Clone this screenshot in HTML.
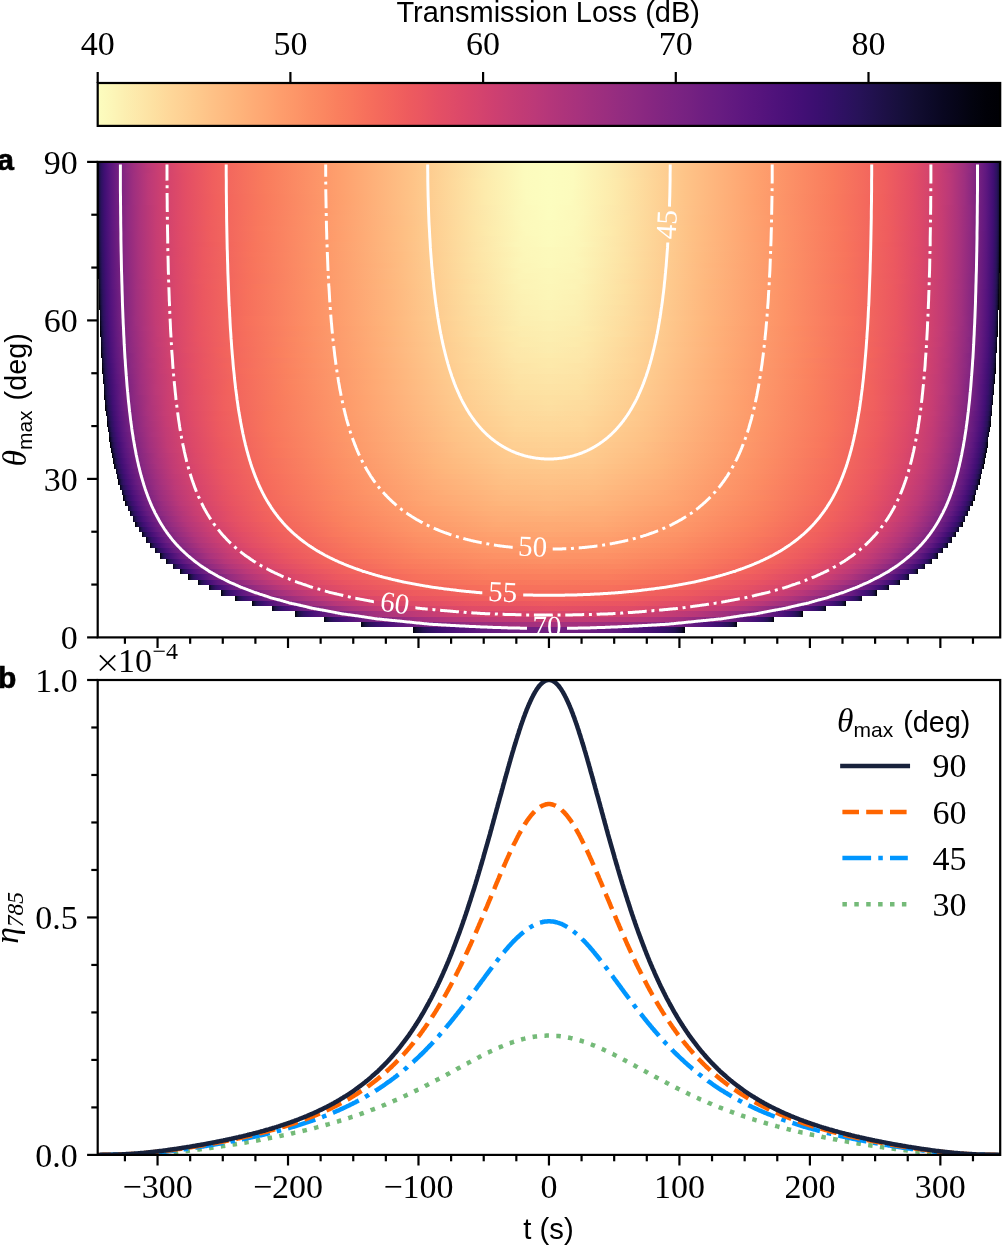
<!DOCTYPE html><html><head><meta charset="utf-8"><style>html,body{margin:0;padding:0;background:#fff;overflow:hidden;}svg{display:block;} text{-webkit-font-smoothing:antialiased;}.s{font-family:"Liberation Sans",sans-serif;}.r{font-family:"Liberation Serif",serif;}</style></head><body>
<svg style="will-change:transform" width="1002" height="1245" viewBox="0 0 1002 1245">
<rect width="1002" height="1245" fill="#fff"/>
<defs><linearGradient id="cb" x1="0" x2="1" y1="0" y2="0"><stop offset="0.0000" stop-color="#fcfdbf"/><stop offset="0.0156" stop-color="#fcf6b8"/><stop offset="0.0312" stop-color="#fceeb0"/><stop offset="0.0469" stop-color="#fde7a9"/><stop offset="0.0625" stop-color="#fde0a1"/><stop offset="0.0781" stop-color="#fed89a"/><stop offset="0.0938" stop-color="#fed194"/><stop offset="0.1094" stop-color="#feca8d"/><stop offset="0.1250" stop-color="#fec287"/><stop offset="0.1406" stop-color="#febb81"/><stop offset="0.1562" stop-color="#feb47b"/><stop offset="0.1719" stop-color="#feac76"/><stop offset="0.1875" stop-color="#fea571"/><stop offset="0.2031" stop-color="#fe9d6c"/><stop offset="0.2188" stop-color="#fd9668"/><stop offset="0.2344" stop-color="#fc8e64"/><stop offset="0.2500" stop-color="#fb8761"/><stop offset="0.2656" stop-color="#fa7f5e"/><stop offset="0.2812" stop-color="#f9785d"/><stop offset="0.2969" stop-color="#f7705c"/><stop offset="0.3125" stop-color="#f4695c"/><stop offset="0.3281" stop-color="#f2625d"/><stop offset="0.3438" stop-color="#ee5b5e"/><stop offset="0.3594" stop-color="#ea5661"/><stop offset="0.3750" stop-color="#e55064"/><stop offset="0.3906" stop-color="#e04c67"/><stop offset="0.4062" stop-color="#db476a"/><stop offset="0.4219" stop-color="#d5446d"/><stop offset="0.4375" stop-color="#cf4070"/><stop offset="0.4531" stop-color="#c83e73"/><stop offset="0.4688" stop-color="#c23b75"/><stop offset="0.4844" stop-color="#bc3978"/><stop offset="0.5000" stop-color="#b5367a"/><stop offset="0.5156" stop-color="#ae347b"/><stop offset="0.5312" stop-color="#a8327d"/><stop offset="0.5469" stop-color="#a1307e"/><stop offset="0.5625" stop-color="#9b2e7f"/><stop offset="0.5781" stop-color="#942c80"/><stop offset="0.5938" stop-color="#8e2a81"/><stop offset="0.6094" stop-color="#882781"/><stop offset="0.6250" stop-color="#812581"/><stop offset="0.6406" stop-color="#7b2382"/><stop offset="0.6562" stop-color="#752181"/><stop offset="0.6719" stop-color="#6e1e81"/><stop offset="0.6875" stop-color="#681c81"/><stop offset="0.7031" stop-color="#621980"/><stop offset="0.7188" stop-color="#5c167f"/><stop offset="0.7344" stop-color="#56147d"/><stop offset="0.7500" stop-color="#4f127b"/><stop offset="0.7656" stop-color="#491078"/><stop offset="0.7812" stop-color="#420f75"/><stop offset="0.7969" stop-color="#3b0f70"/><stop offset="0.8125" stop-color="#341069"/><stop offset="0.8281" stop-color="#2d1161"/><stop offset="0.8438" stop-color="#271258"/><stop offset="0.8594" stop-color="#21114e"/><stop offset="0.8750" stop-color="#1c1044"/><stop offset="0.8906" stop-color="#160f3b"/><stop offset="0.9062" stop-color="#120d31"/><stop offset="0.9219" stop-color="#0d0a29"/><stop offset="0.9375" stop-color="#090720"/><stop offset="0.9531" stop-color="#060518"/><stop offset="0.9688" stop-color="#03030f"/><stop offset="0.9844" stop-color="#010108"/><stop offset="1.0000" stop-color="#000004"/></linearGradient><linearGradient id="g1" gradientUnits="userSpaceOnUse" spreadMethod="reflect" x1="548.95" x2="685.33" y1="0" y2="0"><stop offset="0.0000" stop-color="#721f81"/><stop offset="0.1933" stop-color="#701f81"/><stop offset="0.4567" stop-color="#641a80"/><stop offset="0.6800" stop-color="#4f127b"/><stop offset="0.8100" stop-color="#3d0f71"/><stop offset="0.8800" stop-color="#2f1163"/><stop offset="0.9233" stop-color="#241253"/><stop offset="0.9667" stop-color="#130d34"/><stop offset="0.9700" stop-color="#110c2f"/><stop offset="0.9713" stop-color="#110c2f"/><stop offset="0.9790" stop-color="#0b0924"/><stop offset="0.9800" stop-color="#0b0924"/><stop offset="0.9833" stop-color="#08071e"/><stop offset="0.9867" stop-color="#06051a"/><stop offset="0.9900" stop-color="#040414"/><stop offset="0.9904" stop-color="#040414"/><stop offset="0.9933" stop-color="#02020d"/><stop offset="0.9933" stop-color="#02020d"/><stop offset="0.9990" stop-color="#010005"/><stop offset="0.9997" stop-color="#000004"/></linearGradient><linearGradient id="g2" gradientUnits="userSpaceOnUse" spreadMethod="reflect" x1="548.95" x2="737.21" y1="0" y2="0"><stop offset="0.0000" stop-color="#a5317e"/><stop offset="0.1900" stop-color="#a3307e"/><stop offset="0.4133" stop-color="#962c80"/><stop offset="0.5867" stop-color="#832681"/><stop offset="0.7433" stop-color="#681c81"/><stop offset="0.8567" stop-color="#4c117a"/><stop offset="0.9133" stop-color="#390f6e"/><stop offset="0.9500" stop-color="#2a115c"/><stop offset="0.9619" stop-color="#221150"/><stop offset="0.9633" stop-color="#221150"/><stop offset="0.9723" stop-color="#1c1044"/><stop offset="0.9733" stop-color="#1c1044"/><stop offset="0.9800" stop-color="#150e38"/><stop offset="0.9833" stop-color="#120d31"/><stop offset="0.9867" stop-color="#0e0b2b"/><stop offset="0.9896" stop-color="#0b0924"/><stop offset="0.9900" stop-color="#0a0822"/><stop offset="0.9931" stop-color="#06051a"/><stop offset="0.9951" stop-color="#040414"/><stop offset="0.9967" stop-color="#02020d"/><stop offset="0.9993" stop-color="#010005"/><stop offset="0.9998" stop-color="#000004"/></linearGradient><linearGradient id="g3" gradientUnits="userSpaceOnUse" spreadMethod="reflect" x1="548.95" x2="774.07" y1="0" y2="0"><stop offset="0.0000" stop-color="#c53c74"/><stop offset="0.2100" stop-color="#c23b75"/><stop offset="0.4200" stop-color="#b5367a"/><stop offset="0.5933" stop-color="#a02f7f"/><stop offset="0.7233" stop-color="#862781"/><stop offset="0.8333" stop-color="#671b80"/><stop offset="0.9133" stop-color="#471078"/><stop offset="0.9533" stop-color="#331067"/><stop offset="0.9733" stop-color="#241253"/><stop offset="0.9767" stop-color="#20114b"/><stop offset="0.9768" stop-color="#20114b"/><stop offset="0.9833" stop-color="#19103f"/><stop offset="0.9867" stop-color="#140e36"/><stop offset="0.9872" stop-color="#140e36"/><stop offset="0.9900" stop-color="#100b2d"/><stop offset="0.9942" stop-color="#08071e"/><stop offset="0.9959" stop-color="#050416"/><stop offset="0.9967" stop-color="#040414"/><stop offset="0.9994" stop-color="#010005"/><stop offset="0.9998" stop-color="#000004"/></linearGradient><linearGradient id="g4" gradientUnits="userSpaceOnUse" spreadMethod="reflect" x1="548.95" x2="802.83" y1="0" y2="0"><stop offset="0.0000" stop-color="#d9466b"/><stop offset="0.2400" stop-color="#d5446d"/><stop offset="0.4367" stop-color="#c83e73"/><stop offset="0.5833" stop-color="#b73779"/><stop offset="0.6933" stop-color="#a1307e"/><stop offset="0.7800" stop-color="#892881"/><stop offset="0.8567" stop-color="#6d1d81"/><stop offset="0.9200" stop-color="#4f127b"/><stop offset="0.9500" stop-color="#3b0f70"/><stop offset="0.9667" stop-color="#2f1163"/><stop offset="0.9767" stop-color="#251255"/><stop offset="0.9794" stop-color="#221150"/><stop offset="0.9800" stop-color="#221150"/><stop offset="0.9833" stop-color="#1e1149"/><stop offset="0.9846" stop-color="#1d1147"/><stop offset="0.9900" stop-color="#140e36"/><stop offset="0.9923" stop-color="#100b2d"/><stop offset="0.9933" stop-color="#0d0a29"/><stop offset="0.9964" stop-color="#060518"/><stop offset="0.9967" stop-color="#060518"/><stop offset="0.9990" stop-color="#010108"/><stop offset="0.9998" stop-color="#000004"/></linearGradient><linearGradient id="g5" gradientUnits="userSpaceOnUse" spreadMethod="reflect" x1="548.95" x2="826.27" y1="0" y2="0"><stop offset="0.0000" stop-color="#e55064"/><stop offset="0.2800" stop-color="#e04c67"/><stop offset="0.4767" stop-color="#d3436e"/><stop offset="0.6100" stop-color="#c23b75"/><stop offset="0.7100" stop-color="#ad347c"/><stop offset="0.8000" stop-color="#912b81"/><stop offset="0.8867" stop-color="#6b1d81"/><stop offset="0.9400" stop-color="#4a1079"/><stop offset="0.9633" stop-color="#38106c"/><stop offset="0.9733" stop-color="#2d1161"/><stop offset="0.9741" stop-color="#2d1161"/><stop offset="0.9833" stop-color="#221150"/><stop offset="0.9859" stop-color="#1e1149"/><stop offset="0.9867" stop-color="#1d1147"/><stop offset="0.9896" stop-color="#180f3d"/><stop offset="0.9900" stop-color="#180f3d"/><stop offset="0.9929" stop-color="#110c2f"/><stop offset="0.9933" stop-color="#100b2d"/><stop offset="0.9967" stop-color="#06051a"/><stop offset="0.9967" stop-color="#06051a"/><stop offset="0.9981" stop-color="#03030f"/><stop offset="0.9995" stop-color="#010106"/><stop offset="0.9999" stop-color="#000004"/></linearGradient><linearGradient id="g6" gradientUnits="userSpaceOnUse" spreadMethod="reflect" x1="548.95" x2="845.85" y1="0" y2="0"><stop offset="0.0000" stop-color="#ed5a5f"/><stop offset="0.2800" stop-color="#e95462"/><stop offset="0.4933" stop-color="#dc4869"/><stop offset="0.6233" stop-color="#cc3f71"/><stop offset="0.7200" stop-color="#b73779"/><stop offset="0.7967" stop-color="#9e2f7f"/><stop offset="0.8667" stop-color="#802582"/><stop offset="0.9333" stop-color="#56147d"/><stop offset="0.9600" stop-color="#400f74"/><stop offset="0.9758" stop-color="#2f1163"/><stop offset="0.9767" stop-color="#2f1163"/><stop offset="0.9824" stop-color="#271258"/><stop offset="0.9833" stop-color="#251255"/><stop offset="0.9867" stop-color="#21114e"/><stop offset="0.9868" stop-color="#20114b"/><stop offset="0.9900" stop-color="#1a1042"/><stop offset="0.9903" stop-color="#19103f"/><stop offset="0.9933" stop-color="#120d31"/><stop offset="0.9934" stop-color="#120d31"/><stop offset="0.9956" stop-color="#0b0924"/><stop offset="0.9967" stop-color="#08071e"/><stop offset="0.9969" stop-color="#07061c"/><stop offset="0.9991" stop-color="#020109"/><stop offset="0.9999" stop-color="#000004"/></linearGradient><linearGradient id="g7" gradientUnits="userSpaceOnUse" spreadMethod="reflect" x1="548.95" x2="862.48" y1="0" y2="0"><stop offset="0.0000" stop-color="#f2625d"/><stop offset="0.1833" stop-color="#f1605d"/><stop offset="0.4367" stop-color="#e85362"/><stop offset="0.6000" stop-color="#d8456c"/><stop offset="0.7000" stop-color="#c53c74"/><stop offset="0.7733" stop-color="#b0357b"/><stop offset="0.8500" stop-color="#912b81"/><stop offset="0.9100" stop-color="#6d1d81"/><stop offset="0.9533" stop-color="#4a1079"/><stop offset="0.9733" stop-color="#36106b"/><stop offset="0.9767" stop-color="#311165"/><stop offset="0.9771" stop-color="#311165"/><stop offset="0.9833" stop-color="#29115a"/><stop offset="0.9834" stop-color="#29115a"/><stop offset="0.9867" stop-color="#221150"/><stop offset="0.9875" stop-color="#21114e"/><stop offset="0.9908" stop-color="#1a1042"/><stop offset="0.9933" stop-color="#140e36"/><stop offset="0.9938" stop-color="#130d34"/><stop offset="0.9958" stop-color="#0c0926"/><stop offset="0.9967" stop-color="#090720"/><stop offset="0.9971" stop-color="#08071e"/><stop offset="0.9983" stop-color="#030312"/><stop offset="0.9992" stop-color="#020109"/><stop offset="0.9999" stop-color="#000004"/></linearGradient><linearGradient id="g8" gradientUnits="userSpaceOnUse" spreadMethod="reflect" x1="548.95" x2="876.77" y1="0" y2="0"><stop offset="0.0000" stop-color="#f56b5c"/><stop offset="0.1667" stop-color="#f4695c"/><stop offset="0.4100" stop-color="#ee5b5e"/><stop offset="0.5767" stop-color="#e24d66"/><stop offset="0.6933" stop-color="#cf4070"/><stop offset="0.7733" stop-color="#b83779"/><stop offset="0.8267" stop-color="#a3307e"/><stop offset="0.8800" stop-color="#882781"/><stop offset="0.9333" stop-color="#601880"/><stop offset="0.9600" stop-color="#471078"/><stop offset="0.9733" stop-color="#390f6e"/><stop offset="0.9800" stop-color="#2f1163"/><stop offset="0.9833" stop-color="#2a115c"/><stop offset="0.9841" stop-color="#2a115c"/><stop offset="0.9912" stop-color="#1c1044"/><stop offset="0.9933" stop-color="#160f3b"/><stop offset="0.9940" stop-color="#140e36"/><stop offset="0.9960" stop-color="#0d0a29"/><stop offset="0.9972" stop-color="#08071e"/><stop offset="0.9992" stop-color="#020109"/><stop offset="0.9999" stop-color="#000004"/></linearGradient><linearGradient id="g9" gradientUnits="userSpaceOnUse" spreadMethod="reflect" x1="548.95" x2="889.16" y1="0" y2="0"><stop offset="0.0000" stop-color="#f7725c"/><stop offset="0.1700" stop-color="#f7705c"/><stop offset="0.3867" stop-color="#f2645c"/><stop offset="0.5733" stop-color="#e75263"/><stop offset="0.6933" stop-color="#d5446d"/><stop offset="0.7800" stop-color="#bd3977"/><stop offset="0.8467" stop-color="#a02f7f"/><stop offset="0.8867" stop-color="#892881"/><stop offset="0.9367" stop-color="#621980"/><stop offset="0.9633" stop-color="#471078"/><stop offset="0.9733" stop-color="#3b0f70"/><stop offset="0.9789" stop-color="#341069"/><stop offset="0.9800" stop-color="#331067"/><stop offset="0.9916" stop-color="#1d1147"/><stop offset="0.9942" stop-color="#140e36"/><stop offset="0.9962" stop-color="#0d0a29"/><stop offset="0.9973" stop-color="#090720"/><stop offset="0.9985" stop-color="#040414"/><stop offset="0.9996" stop-color="#010106"/><stop offset="0.9999" stop-color="#000004"/></linearGradient><linearGradient id="g10" gradientUnits="userSpaceOnUse" spreadMethod="reflect" x1="548.95" x2="899.98" y1="0" y2="0"><stop offset="0.0000" stop-color="#f9795d"/><stop offset="0.1967" stop-color="#f8765c"/><stop offset="0.3933" stop-color="#f4695c"/><stop offset="0.5867" stop-color="#e95462"/><stop offset="0.7033" stop-color="#d8456c"/><stop offset="0.7767" stop-color="#c43c75"/><stop offset="0.8400" stop-color="#aa337d"/><stop offset="0.8967" stop-color="#882781"/><stop offset="0.9433" stop-color="#601880"/><stop offset="0.9667" stop-color="#471078"/><stop offset="0.9796" stop-color="#341069"/><stop offset="0.9800" stop-color="#341069"/><stop offset="0.9900" stop-color="#21114e"/><stop offset="0.9944" stop-color="#150e38"/><stop offset="0.9963" stop-color="#0e0b2b"/><stop offset="0.9974" stop-color="#090720"/><stop offset="0.9985" stop-color="#040414"/><stop offset="0.9996" stop-color="#010106"/><stop offset="0.9999" stop-color="#000004"/></linearGradient><linearGradient id="g11" gradientUnits="userSpaceOnUse" spreadMethod="reflect" x1="548.95" x2="909.48" y1="0" y2="0"><stop offset="0.0000" stop-color="#fa7f5e"/><stop offset="0.1600" stop-color="#fa7d5e"/><stop offset="0.3700" stop-color="#f7705c"/><stop offset="0.5867" stop-color="#ec5860"/><stop offset="0.7000" stop-color="#dc4869"/><stop offset="0.7767" stop-color="#c83e73"/><stop offset="0.8400" stop-color="#ae347b"/><stop offset="0.8867" stop-color="#932b80"/><stop offset="0.9333" stop-color="#6d1d81"/><stop offset="0.9633" stop-color="#4c117a"/><stop offset="0.9767" stop-color="#3b0f70"/><stop offset="0.9800" stop-color="#36106b"/><stop offset="0.9801" stop-color="#36106b"/><stop offset="0.9855" stop-color="#2c115f"/><stop offset="0.9867" stop-color="#2a115c"/><stop offset="0.9933" stop-color="#1a1042"/><stop offset="0.9946" stop-color="#150e38"/><stop offset="0.9964" stop-color="#0e0b2b"/><stop offset="0.9967" stop-color="#0d0a29"/><stop offset="0.9993" stop-color="#02020b"/><stop offset="0.9999" stop-color="#000004"/></linearGradient><linearGradient id="g12" gradientUnits="userSpaceOnUse" spreadMethod="reflect" x1="548.95" x2="917.86" y1="0" y2="0"><stop offset="0.0000" stop-color="#fb8560"/><stop offset="0.1567" stop-color="#fb835f"/><stop offset="0.3400" stop-color="#f9785d"/><stop offset="0.5433" stop-color="#f2625d"/><stop offset="0.6733" stop-color="#e44f64"/><stop offset="0.7633" stop-color="#d0416f"/><stop offset="0.8200" stop-color="#bc3978"/><stop offset="0.8767" stop-color="#9e2f7f"/><stop offset="0.9267" stop-color="#762181"/><stop offset="0.9633" stop-color="#4f127b"/><stop offset="0.9767" stop-color="#3d0f71"/><stop offset="0.9867" stop-color="#2c115f"/><stop offset="0.9894" stop-color="#251255"/><stop offset="0.9900" stop-color="#241253"/><stop offset="0.9922" stop-color="#1e1149"/><stop offset="0.9933" stop-color="#1c1044"/><stop offset="0.9947" stop-color="#160f3b"/><stop offset="0.9965" stop-color="#100b2d"/><stop offset="0.9967" stop-color="#0e0b2b"/><stop offset="0.9993" stop-color="#02020b"/><stop offset="0.9999" stop-color="#000004"/></linearGradient><linearGradient id="g13" gradientUnits="userSpaceOnUse" spreadMethod="reflect" x1="548.95" x2="925.29" y1="0" y2="0"><stop offset="0.0000" stop-color="#fc8a62"/><stop offset="0.1867" stop-color="#fb8761"/><stop offset="0.3900" stop-color="#f9785d"/><stop offset="0.6000" stop-color="#ef5d5e"/><stop offset="0.7100" stop-color="#e04c67"/><stop offset="0.7833" stop-color="#cd4071"/><stop offset="0.8467" stop-color="#b3367a"/><stop offset="0.8967" stop-color="#932b80"/><stop offset="0.9367" stop-color="#701f81"/><stop offset="0.9667" stop-color="#4c117a"/><stop offset="0.9800" stop-color="#390f6e"/><stop offset="0.9833" stop-color="#331067"/><stop offset="0.9861" stop-color="#2d1161"/><stop offset="0.9867" stop-color="#2c115f"/><stop offset="0.9896" stop-color="#251255"/><stop offset="0.9900" stop-color="#251255"/><stop offset="0.9924" stop-color="#1e1149"/><stop offset="0.9933" stop-color="#1c1044"/><stop offset="0.9948" stop-color="#160f3b"/><stop offset="0.9965" stop-color="#100b2d"/><stop offset="0.9967" stop-color="#0e0b2b"/><stop offset="0.9993" stop-color="#02020b"/><stop offset="0.9999" stop-color="#000004"/></linearGradient><linearGradient id="g14" gradientUnits="userSpaceOnUse" spreadMethod="reflect" x1="548.95" x2="931.89" y1="0" y2="0"><stop offset="0.0000" stop-color="#fc9065"/><stop offset="0.1667" stop-color="#fc8c63"/><stop offset="0.3733" stop-color="#fa7d5e"/><stop offset="0.5767" stop-color="#f2645c"/><stop offset="0.7033" stop-color="#e44f64"/><stop offset="0.7833" stop-color="#d0416f"/><stop offset="0.8467" stop-color="#b73779"/><stop offset="0.8967" stop-color="#962c80"/><stop offset="0.9300" stop-color="#782281"/><stop offset="0.9567" stop-color="#5c167f"/><stop offset="0.9733" stop-color="#451077"/><stop offset="0.9800" stop-color="#390f6e"/><stop offset="0.9833" stop-color="#341069"/><stop offset="0.9864" stop-color="#2d1161"/><stop offset="0.9867" stop-color="#2d1161"/><stop offset="0.9898" stop-color="#271258"/><stop offset="0.9900" stop-color="#251255"/><stop offset="0.9925" stop-color="#20114b"/><stop offset="0.9933" stop-color="#1d1147"/><stop offset="0.9949" stop-color="#180f3d"/><stop offset="0.9966" stop-color="#100b2d"/><stop offset="0.9967" stop-color="#100b2d"/><stop offset="0.9993" stop-color="#02020b"/><stop offset="0.9999" stop-color="#000004"/></linearGradient><linearGradient id="g15" gradientUnits="userSpaceOnUse" spreadMethod="reflect" x1="548.95" x2="937.78" y1="0" y2="0"><stop offset="0.0000" stop-color="#fd9467"/><stop offset="0.1367" stop-color="#fd9266"/><stop offset="0.3133" stop-color="#fb8761"/><stop offset="0.4833" stop-color="#f8745c"/><stop offset="0.6533" stop-color="#ed5a5f"/><stop offset="0.7500" stop-color="#dc4869"/><stop offset="0.8167" stop-color="#c73d73"/><stop offset="0.8733" stop-color="#aa337d"/><stop offset="0.9167" stop-color="#882781"/><stop offset="0.9500" stop-color="#651a80"/><stop offset="0.9733" stop-color="#451077"/><stop offset="0.9833" stop-color="#341069"/><stop offset="0.9866" stop-color="#2f1163"/><stop offset="0.9867" stop-color="#2f1163"/><stop offset="0.9899" stop-color="#271258"/><stop offset="0.9900" stop-color="#271258"/><stop offset="0.9926" stop-color="#20114b"/><stop offset="0.9933" stop-color="#1d1147"/><stop offset="0.9950" stop-color="#180f3d"/><stop offset="0.9966" stop-color="#100b2d"/><stop offset="0.9967" stop-color="#100b2d"/><stop offset="0.9993" stop-color="#02020b"/><stop offset="0.9999" stop-color="#010005"/></linearGradient><linearGradient id="g16" gradientUnits="userSpaceOnUse" spreadMethod="reflect" x1="548.95" x2="943.05" y1="0" y2="0"><stop offset="0.0000" stop-color="#fd9869"/><stop offset="0.1467" stop-color="#fd9668"/><stop offset="0.3300" stop-color="#fc8961"/><stop offset="0.5300" stop-color="#f7705c"/><stop offset="0.6800" stop-color="#eb5760"/><stop offset="0.7633" stop-color="#db476a"/><stop offset="0.8167" stop-color="#c83e73"/><stop offset="0.8700" stop-color="#ae347b"/><stop offset="0.9100" stop-color="#902a81"/><stop offset="0.9500" stop-color="#671b80"/><stop offset="0.9733" stop-color="#471078"/><stop offset="0.9800" stop-color="#3b0f70"/><stop offset="0.9833" stop-color="#36106b"/><stop offset="0.9867" stop-color="#2f1163"/><stop offset="0.9868" stop-color="#2f1163"/><stop offset="0.9900" stop-color="#271258"/><stop offset="0.9901" stop-color="#271258"/><stop offset="0.9927" stop-color="#20114b"/><stop offset="0.9933" stop-color="#1e1149"/><stop offset="0.9967" stop-color="#110c2f"/><stop offset="0.9967" stop-color="#110c2f"/><stop offset="0.9987" stop-color="#050416"/><stop offset="0.9993" stop-color="#02020b"/><stop offset="0.9999" stop-color="#010005"/></linearGradient><linearGradient id="g17" gradientUnits="userSpaceOnUse" spreadMethod="reflect" x1="548.95" x2="947.78" y1="0" y2="0"><stop offset="0.0000" stop-color="#fe9d6c"/><stop offset="0.1500" stop-color="#fd9a6a"/><stop offset="0.3233" stop-color="#fc8c63"/><stop offset="0.4833" stop-color="#f9795d"/><stop offset="0.6567" stop-color="#ef5d5e"/><stop offset="0.7433" stop-color="#e24d66"/><stop offset="0.8067" stop-color="#cf4070"/><stop offset="0.8733" stop-color="#ae347b"/><stop offset="0.9233" stop-color="#862781"/><stop offset="0.9600" stop-color="#5c167f"/><stop offset="0.9767" stop-color="#420f75"/><stop offset="0.9833" stop-color="#36106b"/><stop offset="0.9867" stop-color="#2f1163"/><stop offset="0.9869" stop-color="#2f1163"/><stop offset="0.9900" stop-color="#29115a"/><stop offset="0.9902" stop-color="#271258"/><stop offset="0.9928" stop-color="#20114b"/><stop offset="0.9933" stop-color="#1e1149"/><stop offset="0.9967" stop-color="#110c2f"/><stop offset="0.9967" stop-color="#110c2f"/><stop offset="0.9993" stop-color="#02020d"/><stop offset="0.9999" stop-color="#010005"/></linearGradient><linearGradient id="g18" gradientUnits="userSpaceOnUse" spreadMethod="reflect" x1="548.95" x2="952.04" y1="0" y2="0"><stop offset="0.0000" stop-color="#fea16e"/><stop offset="0.1500" stop-color="#fe9d6c"/><stop offset="0.3167" stop-color="#fc9065"/><stop offset="0.4867" stop-color="#f97b5d"/><stop offset="0.6600" stop-color="#f05f5e"/><stop offset="0.7567" stop-color="#e04c67"/><stop offset="0.8233" stop-color="#ca3e72"/><stop offset="0.8733" stop-color="#b0357b"/><stop offset="0.9200" stop-color="#8b2981"/><stop offset="0.9500" stop-color="#6a1c81"/><stop offset="0.9700" stop-color="#4e117b"/><stop offset="0.9822" stop-color="#390f6e"/><stop offset="0.9833" stop-color="#38106c"/><stop offset="0.9867" stop-color="#311165"/><stop offset="0.9871" stop-color="#2f1163"/><stop offset="0.9900" stop-color="#29115a"/><stop offset="0.9903" stop-color="#29115a"/><stop offset="0.9929" stop-color="#21114e"/><stop offset="0.9933" stop-color="#20114b"/><stop offset="0.9967" stop-color="#110c2f"/><stop offset="0.9968" stop-color="#110c2f"/><stop offset="0.9994" stop-color="#02020d"/><stop offset="0.9999" stop-color="#010005"/></linearGradient><linearGradient id="g19" gradientUnits="userSpaceOnUse" spreadMethod="reflect" x1="548.95" x2="955.88" y1="0" y2="0"><stop offset="0.0000" stop-color="#fea571"/><stop offset="0.1433" stop-color="#fea16e"/><stop offset="0.3267" stop-color="#fd9266"/><stop offset="0.5267" stop-color="#f9785d"/><stop offset="0.6833" stop-color="#ee5b5e"/><stop offset="0.7667" stop-color="#df4a68"/><stop offset="0.8267" stop-color="#ca3e72"/><stop offset="0.8733" stop-color="#b2357b"/><stop offset="0.9133" stop-color="#932b80"/><stop offset="0.9533" stop-color="#671b80"/><stop offset="0.9733" stop-color="#4a1079"/><stop offset="0.9824" stop-color="#390f6e"/><stop offset="0.9833" stop-color="#38106c"/><stop offset="0.9867" stop-color="#311165"/><stop offset="0.9872" stop-color="#311165"/><stop offset="0.9900" stop-color="#29115a"/><stop offset="0.9904" stop-color="#29115a"/><stop offset="0.9929" stop-color="#21114e"/><stop offset="0.9933" stop-color="#20114b"/><stop offset="0.9967" stop-color="#120d31"/><stop offset="0.9968" stop-color="#110c2f"/><stop offset="0.9994" stop-color="#02020d"/><stop offset="0.9999" stop-color="#010005"/></linearGradient><linearGradient id="g20" gradientUnits="userSpaceOnUse" spreadMethod="reflect" x1="548.95" x2="959.35" y1="0" y2="0"><stop offset="0.0000" stop-color="#fea973"/><stop offset="0.1367" stop-color="#fea571"/><stop offset="0.3167" stop-color="#fd9668"/><stop offset="0.4900" stop-color="#fa7f5e"/><stop offset="0.6567" stop-color="#f2625d"/><stop offset="0.7500" stop-color="#e44f64"/><stop offset="0.8200" stop-color="#cf4070"/><stop offset="0.8733" stop-color="#b3367a"/><stop offset="0.9200" stop-color="#8e2a81"/><stop offset="0.9567" stop-color="#641a80"/><stop offset="0.9767" stop-color="#451077"/><stop offset="0.9825" stop-color="#390f6e"/><stop offset="0.9833" stop-color="#390f6e"/><stop offset="0.9867" stop-color="#311165"/><stop offset="0.9873" stop-color="#311165"/><stop offset="0.9900" stop-color="#2a115c"/><stop offset="0.9905" stop-color="#29115a"/><stop offset="0.9930" stop-color="#21114e"/><stop offset="0.9933" stop-color="#20114b"/><stop offset="0.9967" stop-color="#120d31"/><stop offset="0.9968" stop-color="#110c2f"/><stop offset="0.9994" stop-color="#02020d"/><stop offset="0.9999" stop-color="#010005"/></linearGradient><linearGradient id="g21" gradientUnits="userSpaceOnUse" spreadMethod="reflect" x1="548.95" x2="962.50" y1="0" y2="0"><stop offset="0.0000" stop-color="#feaa74"/><stop offset="0.1267" stop-color="#fea973"/><stop offset="0.2867" stop-color="#fd9b6b"/><stop offset="0.4800" stop-color="#fb835f"/><stop offset="0.6467" stop-color="#f3655c"/><stop offset="0.7500" stop-color="#e55064"/><stop offset="0.8100" stop-color="#d3436e"/><stop offset="0.8733" stop-color="#b5367a"/><stop offset="0.9100" stop-color="#982d80"/><stop offset="0.9333" stop-color="#812581"/><stop offset="0.9633" stop-color="#5a167e"/><stop offset="0.9767" stop-color="#451077"/><stop offset="0.9826" stop-color="#3b0f70"/><stop offset="0.9833" stop-color="#390f6e"/><stop offset="0.9867" stop-color="#331067"/><stop offset="0.9874" stop-color="#311165"/><stop offset="0.9900" stop-color="#2a115c"/><stop offset="0.9905" stop-color="#29115a"/><stop offset="0.9931" stop-color="#21114e"/><stop offset="0.9933" stop-color="#20114b"/><stop offset="0.9967" stop-color="#120d31"/><stop offset="0.9968" stop-color="#110c2f"/><stop offset="0.9994" stop-color="#02020d"/><stop offset="0.9999" stop-color="#010005"/></linearGradient><linearGradient id="g22" gradientUnits="userSpaceOnUse" spreadMethod="reflect" x1="548.95" x2="965.36" y1="0" y2="0"><stop offset="0.0000" stop-color="#feae77"/><stop offset="0.1167" stop-color="#feac76"/><stop offset="0.2933" stop-color="#fe9d6c"/><stop offset="0.5133" stop-color="#fa7f5e"/><stop offset="0.6800" stop-color="#f1605d"/><stop offset="0.7700" stop-color="#e24d66"/><stop offset="0.8333" stop-color="#cc3f71"/><stop offset="0.8800" stop-color="#b2357b"/><stop offset="0.9200" stop-color="#902a81"/><stop offset="0.9500" stop-color="#6e1e81"/><stop offset="0.9733" stop-color="#4c117a"/><stop offset="0.9828" stop-color="#3b0f70"/><stop offset="0.9833" stop-color="#390f6e"/><stop offset="0.9867" stop-color="#331067"/><stop offset="0.9875" stop-color="#311165"/><stop offset="0.9900" stop-color="#2a115c"/><stop offset="0.9906" stop-color="#29115a"/><stop offset="0.9931" stop-color="#21114e"/><stop offset="0.9933" stop-color="#21114e"/><stop offset="0.9967" stop-color="#130d34"/><stop offset="0.9969" stop-color="#120d31"/><stop offset="0.9987" stop-color="#060518"/><stop offset="0.9994" stop-color="#02020d"/><stop offset="0.9999" stop-color="#010005"/></linearGradient><linearGradient id="g23" gradientUnits="userSpaceOnUse" spreadMethod="reflect" x1="548.95" x2="967.97" y1="0" y2="0"><stop offset="0.0000" stop-color="#feb27a"/><stop offset="0.1333" stop-color="#feae77"/><stop offset="0.2967" stop-color="#fe9f6d"/><stop offset="0.4867" stop-color="#fb8560"/><stop offset="0.6500" stop-color="#f4675c"/><stop offset="0.7433" stop-color="#e85362"/><stop offset="0.8033" stop-color="#d8456c"/><stop offset="0.8467" stop-color="#c73d73"/><stop offset="0.8900" stop-color="#ab337c"/><stop offset="0.9267" stop-color="#8b2981"/><stop offset="0.9600" stop-color="#621980"/><stop offset="0.9767" stop-color="#471078"/><stop offset="0.9829" stop-color="#3b0f70"/><stop offset="0.9833" stop-color="#390f6e"/><stop offset="0.9867" stop-color="#331067"/><stop offset="0.9875" stop-color="#311165"/><stop offset="0.9900" stop-color="#2a115c"/><stop offset="0.9907" stop-color="#29115a"/><stop offset="0.9931" stop-color="#21114e"/><stop offset="0.9933" stop-color="#21114e"/><stop offset="0.9967" stop-color="#130d34"/><stop offset="0.9969" stop-color="#120d31"/><stop offset="0.9988" stop-color="#060518"/><stop offset="0.9994" stop-color="#02020d"/><stop offset="0.9999" stop-color="#010005"/></linearGradient><linearGradient id="g24" gradientUnits="userSpaceOnUse" spreadMethod="reflect" x1="548.95" x2="970.35" y1="0" y2="0"><stop offset="0.0000" stop-color="#feb67c"/><stop offset="0.1467" stop-color="#feb078"/><stop offset="0.3133" stop-color="#fe9f6d"/><stop offset="0.5200" stop-color="#fa815f"/><stop offset="0.6800" stop-color="#f2625d"/><stop offset="0.7633" stop-color="#e44f64"/><stop offset="0.8233" stop-color="#d2426f"/><stop offset="0.8733" stop-color="#b83779"/><stop offset="0.9200" stop-color="#932b80"/><stop offset="0.9567" stop-color="#671b80"/><stop offset="0.9767" stop-color="#471078"/><stop offset="0.9830" stop-color="#3b0f70"/><stop offset="0.9833" stop-color="#3b0f70"/><stop offset="0.9867" stop-color="#331067"/><stop offset="0.9876" stop-color="#311165"/><stop offset="0.9907" stop-color="#29115a"/><stop offset="0.9932" stop-color="#21114e"/><stop offset="0.9933" stop-color="#21114e"/><stop offset="0.9967" stop-color="#130d34"/><stop offset="0.9969" stop-color="#120d31"/><stop offset="0.9988" stop-color="#060518"/><stop offset="0.9994" stop-color="#02020d"/><stop offset="0.9999" stop-color="#010005"/></linearGradient><linearGradient id="g25" gradientUnits="userSpaceOnUse" spreadMethod="reflect" x1="548.95" x2="972.52" y1="0" y2="0"><stop offset="0.0000" stop-color="#feb77e"/><stop offset="0.1033" stop-color="#feb67c"/><stop offset="0.2700" stop-color="#fea772"/><stop offset="0.4700" stop-color="#fc8a62"/><stop offset="0.6433" stop-color="#f56b5c"/><stop offset="0.7500" stop-color="#e85362"/><stop offset="0.8133" stop-color="#d6456c"/><stop offset="0.8700" stop-color="#bc3978"/><stop offset="0.9100" stop-color="#9c2e7f"/><stop offset="0.9433" stop-color="#792282"/><stop offset="0.9700" stop-color="#54137d"/><stop offset="0.9831" stop-color="#3b0f70"/><stop offset="0.9833" stop-color="#3b0f70"/><stop offset="0.9900" stop-color="#2c115f"/><stop offset="0.9908" stop-color="#29115a"/><stop offset="0.9932" stop-color="#221150"/><stop offset="0.9933" stop-color="#21114e"/><stop offset="0.9967" stop-color="#130d34"/><stop offset="0.9969" stop-color="#120d31"/><stop offset="0.9988" stop-color="#060518"/><stop offset="0.9994" stop-color="#02020d"/><stop offset="0.9999" stop-color="#010005"/></linearGradient><linearGradient id="g26" gradientUnits="userSpaceOnUse" spreadMethod="reflect" x1="548.95" x2="974.51" y1="0" y2="0"><stop offset="0.0000" stop-color="#febb81"/><stop offset="0.1167" stop-color="#feb77e"/><stop offset="0.3000" stop-color="#fea571"/><stop offset="0.5000" stop-color="#fb8761"/><stop offset="0.6667" stop-color="#f4675c"/><stop offset="0.7700" stop-color="#e44f64"/><stop offset="0.8267" stop-color="#d2426f"/><stop offset="0.8733" stop-color="#ba3878"/><stop offset="0.9133" stop-color="#9b2e7f"/><stop offset="0.9433" stop-color="#792282"/><stop offset="0.9700" stop-color="#54137d"/><stop offset="0.9800" stop-color="#420f75"/><stop offset="0.9831" stop-color="#3b0f70"/><stop offset="0.9833" stop-color="#3b0f70"/><stop offset="0.9900" stop-color="#2c115f"/><stop offset="0.9908" stop-color="#2a115c"/><stop offset="0.9933" stop-color="#221150"/><stop offset="0.9933" stop-color="#21114e"/><stop offset="0.9967" stop-color="#130d34"/><stop offset="0.9969" stop-color="#120d31"/><stop offset="0.9988" stop-color="#060518"/><stop offset="0.9994" stop-color="#02020d"/><stop offset="0.9999" stop-color="#010005"/></linearGradient><linearGradient id="g27" gradientUnits="userSpaceOnUse" spreadMethod="reflect" x1="548.95" x2="976.33" y1="0" y2="0"><stop offset="0.0000" stop-color="#febd82"/><stop offset="0.0967" stop-color="#febb81"/><stop offset="0.2400" stop-color="#feae77"/><stop offset="0.4267" stop-color="#fd9467"/><stop offset="0.6167" stop-color="#f7725c"/><stop offset="0.7333" stop-color="#ec5860"/><stop offset="0.8100" stop-color="#d9466b"/><stop offset="0.8700" stop-color="#bd3977"/><stop offset="0.9100" stop-color="#9e2f7f"/><stop offset="0.9467" stop-color="#762181"/><stop offset="0.9733" stop-color="#4f127b"/><stop offset="0.9832" stop-color="#3b0f70"/><stop offset="0.9833" stop-color="#3b0f70"/><stop offset="0.9900" stop-color="#2c115f"/><stop offset="0.9908" stop-color="#2a115c"/><stop offset="0.9933" stop-color="#221150"/><stop offset="0.9933" stop-color="#221150"/><stop offset="0.9954" stop-color="#19103f"/><stop offset="0.9967" stop-color="#130d34"/><stop offset="0.9969" stop-color="#120d31"/><stop offset="0.9988" stop-color="#060518"/><stop offset="0.9994" stop-color="#02020d"/><stop offset="0.9999" stop-color="#010005"/></linearGradient><linearGradient id="g28" gradientUnits="userSpaceOnUse" spreadMethod="reflect" x1="548.95" x2="978.01" y1="0" y2="0"><stop offset="0.0000" stop-color="#febf84"/><stop offset="0.1067" stop-color="#febd82"/><stop offset="0.2700" stop-color="#feac76"/><stop offset="0.4800" stop-color="#fc8c63"/><stop offset="0.6467" stop-color="#f66c5c"/><stop offset="0.7467" stop-color="#ea5661"/><stop offset="0.8100" stop-color="#d9466b"/><stop offset="0.8733" stop-color="#bc3978"/><stop offset="0.9167" stop-color="#992d80"/><stop offset="0.9467" stop-color="#762181"/><stop offset="0.9667" stop-color="#5a167e"/><stop offset="0.9800" stop-color="#420f75"/><stop offset="0.9833" stop-color="#3b0f70"/><stop offset="0.9833" stop-color="#3b0f70"/><stop offset="0.9900" stop-color="#2c115f"/><stop offset="0.9909" stop-color="#2a115c"/><stop offset="0.9933" stop-color="#221150"/><stop offset="0.9933" stop-color="#221150"/><stop offset="0.9967" stop-color="#130d34"/><stop offset="0.9970" stop-color="#120d31"/><stop offset="0.9988" stop-color="#060518"/><stop offset="0.9994" stop-color="#02020d"/><stop offset="0.9999" stop-color="#010005"/></linearGradient><linearGradient id="g29" gradientUnits="userSpaceOnUse" spreadMethod="reflect" x1="548.95" x2="979.56" y1="0" y2="0"><stop offset="0.0000" stop-color="#fec287"/><stop offset="0.1133" stop-color="#febf84"/><stop offset="0.2833" stop-color="#feac76"/><stop offset="0.4967" stop-color="#fc8a62"/><stop offset="0.6500" stop-color="#f66c5c"/><stop offset="0.7500" stop-color="#ea5661"/><stop offset="0.8167" stop-color="#d8456c"/><stop offset="0.8667" stop-color="#c03a76"/><stop offset="0.9000" stop-color="#a8327d"/><stop offset="0.9333" stop-color="#882781"/><stop offset="0.9600" stop-color="#651a80"/><stop offset="0.9767" stop-color="#491078"/><stop offset="0.9833" stop-color="#3d0f71"/><stop offset="0.9833" stop-color="#3d0f71"/><stop offset="0.9867" stop-color="#341069"/><stop offset="0.9879" stop-color="#331067"/><stop offset="0.9900" stop-color="#2c115f"/><stop offset="0.9909" stop-color="#2a115c"/><stop offset="0.9933" stop-color="#221150"/><stop offset="0.9933" stop-color="#221150"/><stop offset="0.9967" stop-color="#140e36"/><stop offset="0.9970" stop-color="#120d31"/><stop offset="0.9988" stop-color="#060518"/><stop offset="0.9994" stop-color="#02020d"/><stop offset="0.9999" stop-color="#010005"/></linearGradient><linearGradient id="g30" gradientUnits="userSpaceOnUse" spreadMethod="reflect" x1="548.95" x2="980.98" y1="0" y2="0"><stop offset="0.0000" stop-color="#fec488"/><stop offset="0.0933" stop-color="#fec287"/><stop offset="0.2533" stop-color="#feb27a"/><stop offset="0.4800" stop-color="#fc8e64"/><stop offset="0.6533" stop-color="#f66c5c"/><stop offset="0.7567" stop-color="#e95462"/><stop offset="0.8167" stop-color="#d8456c"/><stop offset="0.8733" stop-color="#bd3977"/><stop offset="0.9100" stop-color="#a02f7f"/><stop offset="0.9367" stop-color="#842681"/><stop offset="0.9700" stop-color="#56147d"/><stop offset="0.9800" stop-color="#440f76"/><stop offset="0.9833" stop-color="#3d0f71"/><stop offset="0.9834" stop-color="#3d0f71"/><stop offset="0.9867" stop-color="#341069"/><stop offset="0.9879" stop-color="#331067"/><stop offset="0.9900" stop-color="#2c115f"/><stop offset="0.9909" stop-color="#2a115c"/><stop offset="0.9933" stop-color="#221150"/><stop offset="0.9934" stop-color="#221150"/><stop offset="0.9967" stop-color="#140e36"/><stop offset="0.9970" stop-color="#120d31"/><stop offset="0.9988" stop-color="#060518"/><stop offset="0.9994" stop-color="#02020d"/><stop offset="0.9999" stop-color="#010005"/></linearGradient><linearGradient id="g31" gradientUnits="userSpaceOnUse" spreadMethod="reflect" x1="548.95" x2="982.30" y1="0" y2="0"><stop offset="0.0000" stop-color="#fec68a"/><stop offset="0.0967" stop-color="#fec488"/><stop offset="0.2367" stop-color="#feb67c"/><stop offset="0.4633" stop-color="#fd9266"/><stop offset="0.6400" stop-color="#f7705c"/><stop offset="0.7467" stop-color="#eb5760"/><stop offset="0.8067" stop-color="#dc4869"/><stop offset="0.8633" stop-color="#c43c75"/><stop offset="0.9033" stop-color="#a6317d"/><stop offset="0.9333" stop-color="#892881"/><stop offset="0.9667" stop-color="#5c167f"/><stop offset="0.9800" stop-color="#440f76"/><stop offset="0.9833" stop-color="#3d0f71"/><stop offset="0.9834" stop-color="#3d0f71"/><stop offset="0.9867" stop-color="#341069"/><stop offset="0.9880" stop-color="#331067"/><stop offset="0.9910" stop-color="#2a115c"/><stop offset="0.9933" stop-color="#221150"/><stop offset="0.9934" stop-color="#221150"/><stop offset="0.9967" stop-color="#140e36"/><stop offset="0.9970" stop-color="#120d31"/><stop offset="0.9988" stop-color="#060518"/><stop offset="0.9994" stop-color="#02020d"/><stop offset="0.9999" stop-color="#010005"/></linearGradient><linearGradient id="g32" gradientUnits="userSpaceOnUse" spreadMethod="reflect" x1="548.95" x2="983.52" y1="0" y2="0"><stop offset="0.0000" stop-color="#feca8d"/><stop offset="0.1000" stop-color="#fec68a"/><stop offset="0.2500" stop-color="#feb67c"/><stop offset="0.4900" stop-color="#fc8e64"/><stop offset="0.6500" stop-color="#f66e5c"/><stop offset="0.7567" stop-color="#ea5661"/><stop offset="0.8200" stop-color="#d8456c"/><stop offset="0.8667" stop-color="#c23b75"/><stop offset="0.9000" stop-color="#aa337d"/><stop offset="0.9333" stop-color="#892881"/><stop offset="0.9567" stop-color="#6b1d81"/><stop offset="0.9767" stop-color="#4a1079"/><stop offset="0.9833" stop-color="#3d0f71"/><stop offset="0.9835" stop-color="#3d0f71"/><stop offset="0.9900" stop-color="#2d1161"/><stop offset="0.9910" stop-color="#2a115c"/><stop offset="0.9933" stop-color="#221150"/><stop offset="0.9934" stop-color="#221150"/><stop offset="0.9967" stop-color="#140e36"/><stop offset="0.9970" stop-color="#120d31"/><stop offset="0.9988" stop-color="#060518"/><stop offset="0.9994" stop-color="#02020d"/><stop offset="0.9999" stop-color="#010005"/></linearGradient><linearGradient id="g33" gradientUnits="userSpaceOnUse" spreadMethod="reflect" x1="548.95" x2="984.64" y1="0" y2="0"><stop offset="0.0000" stop-color="#fecc8f"/><stop offset="0.1033" stop-color="#fec88c"/><stop offset="0.2600" stop-color="#feb67c"/><stop offset="0.5033" stop-color="#fc8c63"/><stop offset="0.6667" stop-color="#f56b5c"/><stop offset="0.7667" stop-color="#e85362"/><stop offset="0.8300" stop-color="#d5446d"/><stop offset="0.8700" stop-color="#c03a76"/><stop offset="0.9067" stop-color="#a5317e"/><stop offset="0.9367" stop-color="#862781"/><stop offset="0.9667" stop-color="#5c167f"/><stop offset="0.9800" stop-color="#440f76"/><stop offset="0.9833" stop-color="#3d0f71"/><stop offset="0.9835" stop-color="#3d0f71"/><stop offset="0.9900" stop-color="#2d1161"/><stop offset="0.9910" stop-color="#2a115c"/><stop offset="0.9933" stop-color="#221150"/><stop offset="0.9934" stop-color="#221150"/><stop offset="0.9967" stop-color="#140e36"/><stop offset="0.9970" stop-color="#120d31"/><stop offset="0.9988" stop-color="#060518"/><stop offset="0.9994" stop-color="#02020d"/><stop offset="0.9999" stop-color="#010005"/></linearGradient><linearGradient id="g34" gradientUnits="userSpaceOnUse" spreadMethod="reflect" x1="548.95" x2="985.69" y1="0" y2="0"><stop offset="0.0000" stop-color="#fecd90"/><stop offset="0.0800" stop-color="#fecc8f"/><stop offset="0.2167" stop-color="#febd82"/><stop offset="0.4567" stop-color="#fd9668"/><stop offset="0.6300" stop-color="#f8745c"/><stop offset="0.7467" stop-color="#ec5860"/><stop offset="0.8100" stop-color="#dc4869"/><stop offset="0.8667" stop-color="#c23b75"/><stop offset="0.8933" stop-color="#b0357b"/><stop offset="0.9367" stop-color="#862781"/><stop offset="0.9700" stop-color="#57157e"/><stop offset="0.9833" stop-color="#3d0f71"/><stop offset="0.9836" stop-color="#3d0f71"/><stop offset="0.9900" stop-color="#2d1161"/><stop offset="0.9910" stop-color="#2a115c"/><stop offset="0.9933" stop-color="#221150"/><stop offset="0.9934" stop-color="#221150"/><stop offset="0.9967" stop-color="#140e36"/><stop offset="0.9970" stop-color="#120d31"/><stop offset="0.9994" stop-color="#02020d"/><stop offset="0.9999" stop-color="#010005"/></linearGradient><linearGradient id="g35" gradientUnits="userSpaceOnUse" spreadMethod="reflect" x1="548.95" x2="986.66" y1="0" y2="0"><stop offset="0.0000" stop-color="#fecf92"/><stop offset="0.0800" stop-color="#fecd90"/><stop offset="0.2133" stop-color="#febf84"/><stop offset="0.4500" stop-color="#fd9869"/><stop offset="0.6300" stop-color="#f8745c"/><stop offset="0.7467" stop-color="#ec5860"/><stop offset="0.8067" stop-color="#de4968"/><stop offset="0.8667" stop-color="#c43c75"/><stop offset="0.9133" stop-color="#a02f7f"/><stop offset="0.9433" stop-color="#7e2482"/><stop offset="0.9700" stop-color="#57157e"/><stop offset="0.9833" stop-color="#3d0f71"/><stop offset="0.9836" stop-color="#3d0f71"/><stop offset="0.9900" stop-color="#2d1161"/><stop offset="0.9911" stop-color="#2a115c"/><stop offset="0.9933" stop-color="#221150"/><stop offset="0.9934" stop-color="#221150"/><stop offset="0.9967" stop-color="#140e36"/><stop offset="0.9970" stop-color="#120d31"/><stop offset="0.9994" stop-color="#02020d"/><stop offset="0.9999" stop-color="#010005"/></linearGradient><linearGradient id="g36" gradientUnits="userSpaceOnUse" spreadMethod="reflect" x1="548.95" x2="987.57" y1="0" y2="0"><stop offset="0.0000" stop-color="#fed194"/><stop offset="0.0800" stop-color="#fecf92"/><stop offset="0.1967" stop-color="#fec287"/><stop offset="0.4333" stop-color="#fd9b6b"/><stop offset="0.6167" stop-color="#f9785d"/><stop offset="0.7367" stop-color="#ee5b5e"/><stop offset="0.8133" stop-color="#dc4869"/><stop offset="0.8700" stop-color="#c23b75"/><stop offset="0.9100" stop-color="#a3307e"/><stop offset="0.9400" stop-color="#832681"/><stop offset="0.9633" stop-color="#621980"/><stop offset="0.9767" stop-color="#4a1079"/><stop offset="0.9833" stop-color="#3d0f71"/><stop offset="0.9836" stop-color="#3d0f71"/><stop offset="0.9900" stop-color="#2d1161"/><stop offset="0.9911" stop-color="#2a115c"/><stop offset="0.9933" stop-color="#221150"/><stop offset="0.9935" stop-color="#221150"/><stop offset="0.9967" stop-color="#140e36"/><stop offset="0.9970" stop-color="#120d31"/><stop offset="0.9994" stop-color="#02020d"/><stop offset="0.9999" stop-color="#010005"/></linearGradient><linearGradient id="g37" gradientUnits="userSpaceOnUse" spreadMethod="reflect" x1="548.95" x2="988.41" y1="0" y2="0"><stop offset="0.0000" stop-color="#fed395"/><stop offset="0.0800" stop-color="#fed194"/><stop offset="0.2200" stop-color="#fec185"/><stop offset="0.4567" stop-color="#fd9869"/><stop offset="0.6333" stop-color="#f8745c"/><stop offset="0.7433" stop-color="#ed5a5f"/><stop offset="0.8133" stop-color="#dc4869"/><stop offset="0.8700" stop-color="#c23b75"/><stop offset="0.9100" stop-color="#a3307e"/><stop offset="0.9400" stop-color="#832681"/><stop offset="0.9667" stop-color="#5d177f"/><stop offset="0.9800" stop-color="#451077"/><stop offset="0.9833" stop-color="#3d0f71"/><stop offset="0.9837" stop-color="#3d0f71"/><stop offset="0.9900" stop-color="#2d1161"/><stop offset="0.9911" stop-color="#2a115c"/><stop offset="0.9933" stop-color="#221150"/><stop offset="0.9935" stop-color="#221150"/><stop offset="0.9967" stop-color="#140e36"/><stop offset="0.9970" stop-color="#120d31"/><stop offset="0.9994" stop-color="#02020d"/><stop offset="0.9999" stop-color="#010005"/></linearGradient><linearGradient id="g38" gradientUnits="userSpaceOnUse" spreadMethod="reflect" x1="548.95" x2="989.20" y1="0" y2="0"><stop offset="0.0000" stop-color="#fed597"/><stop offset="0.0800" stop-color="#fed395"/><stop offset="0.2267" stop-color="#fec185"/><stop offset="0.4767" stop-color="#fd9467"/><stop offset="0.6300" stop-color="#f8765c"/><stop offset="0.7467" stop-color="#ed5a5f"/><stop offset="0.8133" stop-color="#dc4869"/><stop offset="0.8700" stop-color="#c23b75"/><stop offset="0.9033" stop-color="#aa337d"/><stop offset="0.9367" stop-color="#882781"/><stop offset="0.9667" stop-color="#5d177f"/><stop offset="0.9800" stop-color="#451077"/><stop offset="0.9833" stop-color="#3f0f72"/><stop offset="0.9837" stop-color="#3d0f71"/><stop offset="0.9900" stop-color="#2d1161"/><stop offset="0.9911" stop-color="#2a115c"/><stop offset="0.9933" stop-color="#241253"/><stop offset="0.9935" stop-color="#221150"/><stop offset="0.9967" stop-color="#140e36"/><stop offset="0.9970" stop-color="#120d31"/><stop offset="0.9994" stop-color="#02020d"/><stop offset="0.9999" stop-color="#010005"/></linearGradient><linearGradient id="g39" gradientUnits="userSpaceOnUse" spreadMethod="reflect" x1="548.95" x2="989.93" y1="0" y2="0"><stop offset="0.0000" stop-color="#fed799"/><stop offset="0.0767" stop-color="#fed597"/><stop offset="0.2100" stop-color="#fec488"/><stop offset="0.4700" stop-color="#fd9668"/><stop offset="0.6400" stop-color="#f8745c"/><stop offset="0.7533" stop-color="#ec5860"/><stop offset="0.8233" stop-color="#d9466b"/><stop offset="0.8733" stop-color="#c03a76"/><stop offset="0.9067" stop-color="#a6317d"/><stop offset="0.9300" stop-color="#902a81"/><stop offset="0.9600" stop-color="#681c81"/><stop offset="0.9767" stop-color="#4c117a"/><stop offset="0.9833" stop-color="#3f0f72"/><stop offset="0.9837" stop-color="#3d0f71"/><stop offset="0.9900" stop-color="#2d1161"/><stop offset="0.9911" stop-color="#2a115c"/><stop offset="0.9933" stop-color="#241253"/><stop offset="0.9935" stop-color="#221150"/><stop offset="0.9967" stop-color="#140e36"/><stop offset="0.9970" stop-color="#130d34"/><stop offset="0.9994" stop-color="#02020d"/><stop offset="0.9999" stop-color="#010005"/></linearGradient><linearGradient id="g40" gradientUnits="userSpaceOnUse" spreadMethod="reflect" x1="548.95" x2="990.62" y1="0" y2="0"><stop offset="0.0000" stop-color="#fed89a"/><stop offset="0.0733" stop-color="#fed799"/><stop offset="0.2067" stop-color="#fec68a"/><stop offset="0.4633" stop-color="#fd9869"/><stop offset="0.6333" stop-color="#f8765c"/><stop offset="0.7467" stop-color="#ed5a5f"/><stop offset="0.8067" stop-color="#df4a68"/><stop offset="0.8667" stop-color="#c53c74"/><stop offset="0.9133" stop-color="#a1307e"/><stop offset="0.9433" stop-color="#802582"/><stop offset="0.9733" stop-color="#52137c"/><stop offset="0.9833" stop-color="#3f0f72"/><stop offset="0.9838" stop-color="#3d0f71"/><stop offset="0.9900" stop-color="#2d1161"/><stop offset="0.9911" stop-color="#2a115c"/><stop offset="0.9933" stop-color="#241253"/><stop offset="0.9935" stop-color="#221150"/><stop offset="0.9967" stop-color="#140e36"/><stop offset="0.9970" stop-color="#130d34"/><stop offset="0.9994" stop-color="#02020d"/><stop offset="0.9999" stop-color="#010005"/></linearGradient><linearGradient id="g41" gradientUnits="userSpaceOnUse" spreadMethod="reflect" x1="548.95" x2="991.26" y1="0" y2="0"><stop offset="0.0000" stop-color="#fdda9c"/><stop offset="0.0700" stop-color="#fed89a"/><stop offset="0.1900" stop-color="#feca8d"/><stop offset="0.4567" stop-color="#fd9a6a"/><stop offset="0.6333" stop-color="#f8765c"/><stop offset="0.7500" stop-color="#ed5a5f"/><stop offset="0.8167" stop-color="#dc4869"/><stop offset="0.8667" stop-color="#c53c74"/><stop offset="0.9000" stop-color="#ad347c"/><stop offset="0.9333" stop-color="#8c2981"/><stop offset="0.9700" stop-color="#59157e"/><stop offset="0.9833" stop-color="#3f0f72"/><stop offset="0.9838" stop-color="#3d0f71"/><stop offset="0.9900" stop-color="#2d1161"/><stop offset="0.9912" stop-color="#2a115c"/><stop offset="0.9933" stop-color="#241253"/><stop offset="0.9935" stop-color="#221150"/><stop offset="0.9967" stop-color="#140e36"/><stop offset="0.9971" stop-color="#130d34"/><stop offset="0.9994" stop-color="#02020d"/><stop offset="0.9999" stop-color="#010005"/></linearGradient><linearGradient id="g42" gradientUnits="userSpaceOnUse" spreadMethod="reflect" x1="548.95" x2="991.86" y1="0" y2="0"><stop offset="0.0000" stop-color="#fddc9e"/><stop offset="0.0900" stop-color="#fed89a"/><stop offset="0.2300" stop-color="#fec488"/><stop offset="0.4600" stop-color="#fd9a6a"/><stop offset="0.6333" stop-color="#f8765c"/><stop offset="0.7433" stop-color="#ee5b5e"/><stop offset="0.8167" stop-color="#dc4869"/><stop offset="0.8700" stop-color="#c43c75"/><stop offset="0.9100" stop-color="#a5317e"/><stop offset="0.9400" stop-color="#842681"/><stop offset="0.9700" stop-color="#59157e"/><stop offset="0.9833" stop-color="#3f0f72"/><stop offset="0.9838" stop-color="#3d0f71"/><stop offset="0.9900" stop-color="#2d1161"/><stop offset="0.9912" stop-color="#2a115c"/><stop offset="0.9933" stop-color="#241253"/><stop offset="0.9935" stop-color="#221150"/><stop offset="0.9956" stop-color="#1a1042"/><stop offset="0.9967" stop-color="#150e38"/><stop offset="0.9971" stop-color="#130d34"/><stop offset="0.9994" stop-color="#02020d"/><stop offset="0.9999" stop-color="#010005"/></linearGradient><linearGradient id="g43" gradientUnits="userSpaceOnUse" spreadMethod="reflect" x1="548.95" x2="992.42" y1="0" y2="0"><stop offset="0.0000" stop-color="#fddea0"/><stop offset="0.0833" stop-color="#fdda9c"/><stop offset="0.2033" stop-color="#feca8d"/><stop offset="0.4333" stop-color="#fe9f6d"/><stop offset="0.6100" stop-color="#f97b5d"/><stop offset="0.7333" stop-color="#f05f5e"/><stop offset="0.8100" stop-color="#df4a68"/><stop offset="0.8633" stop-color="#c73d73"/><stop offset="0.9033" stop-color="#ab337c"/><stop offset="0.9400" stop-color="#842681"/><stop offset="0.9633" stop-color="#641a80"/><stop offset="0.9800" stop-color="#451077"/><stop offset="0.9833" stop-color="#3f0f72"/><stop offset="0.9838" stop-color="#3d0f71"/><stop offset="0.9900" stop-color="#2d1161"/><stop offset="0.9912" stop-color="#2a115c"/><stop offset="0.9933" stop-color="#241253"/><stop offset="0.9935" stop-color="#221150"/><stop offset="0.9956" stop-color="#1a1042"/><stop offset="0.9967" stop-color="#150e38"/><stop offset="0.9971" stop-color="#130d34"/><stop offset="0.9994" stop-color="#02020d"/><stop offset="0.9999" stop-color="#010005"/></linearGradient><linearGradient id="g44" gradientUnits="userSpaceOnUse" spreadMethod="reflect" x1="548.95" x2="992.95" y1="0" y2="0"><stop offset="0.0000" stop-color="#fde0a1"/><stop offset="0.0967" stop-color="#fdda9c"/><stop offset="0.2200" stop-color="#fec88c"/><stop offset="0.4433" stop-color="#fe9d6c"/><stop offset="0.6133" stop-color="#f97b5d"/><stop offset="0.7333" stop-color="#f05f5e"/><stop offset="0.8100" stop-color="#df4a68"/><stop offset="0.8633" stop-color="#c73d73"/><stop offset="0.8933" stop-color="#b3367a"/><stop offset="0.9367" stop-color="#892881"/><stop offset="0.9633" stop-color="#641a80"/><stop offset="0.9800" stop-color="#451077"/><stop offset="0.9833" stop-color="#3f0f72"/><stop offset="0.9838" stop-color="#3d0f71"/><stop offset="0.9900" stop-color="#2d1161"/><stop offset="0.9912" stop-color="#2a115c"/><stop offset="0.9933" stop-color="#241253"/><stop offset="0.9935" stop-color="#221150"/><stop offset="0.9956" stop-color="#1a1042"/><stop offset="0.9967" stop-color="#150e38"/><stop offset="0.9971" stop-color="#130d34"/><stop offset="0.9994" stop-color="#02020d"/><stop offset="0.9999" stop-color="#010005"/></linearGradient><linearGradient id="g45" gradientUnits="userSpaceOnUse" spreadMethod="reflect" x1="548.95" x2="993.45" y1="0" y2="0"><stop offset="0.0000" stop-color="#fde0a1"/><stop offset="0.0733" stop-color="#fddea0"/><stop offset="0.1933" stop-color="#fecd90"/><stop offset="0.4267" stop-color="#fea16e"/><stop offset="0.6100" stop-color="#f97b5d"/><stop offset="0.7333" stop-color="#f05f5e"/><stop offset="0.8067" stop-color="#e04c67"/><stop offset="0.8600" stop-color="#ca3e72"/><stop offset="0.8933" stop-color="#b3367a"/><stop offset="0.9367" stop-color="#892881"/><stop offset="0.9667" stop-color="#5f187f"/><stop offset="0.9800" stop-color="#451077"/><stop offset="0.9833" stop-color="#3f0f72"/><stop offset="0.9839" stop-color="#3d0f71"/><stop offset="0.9900" stop-color="#2d1161"/><stop offset="0.9912" stop-color="#2a115c"/><stop offset="0.9933" stop-color="#241253"/><stop offset="0.9935" stop-color="#221150"/><stop offset="0.9956" stop-color="#1a1042"/><stop offset="0.9967" stop-color="#150e38"/><stop offset="0.9971" stop-color="#130d34"/><stop offset="0.9994" stop-color="#02020d"/><stop offset="0.9999" stop-color="#010005"/></linearGradient><linearGradient id="g46" gradientUnits="userSpaceOnUse" spreadMethod="reflect" x1="548.95" x2="993.91" y1="0" y2="0"><stop offset="0.0000" stop-color="#fde2a3"/><stop offset="0.0700" stop-color="#fde0a1"/><stop offset="0.2000" stop-color="#fecd90"/><stop offset="0.4100" stop-color="#fea571"/><stop offset="0.5933" stop-color="#fa7f5e"/><stop offset="0.7267" stop-color="#f1605d"/><stop offset="0.7967" stop-color="#e34e65"/><stop offset="0.8467" stop-color="#d0416f"/><stop offset="0.8833" stop-color="#bc3978"/><stop offset="0.9200" stop-color="#9c2e7f"/><stop offset="0.9533" stop-color="#732081"/><stop offset="0.9733" stop-color="#52137c"/><stop offset="0.9833" stop-color="#3f0f72"/><stop offset="0.9867" stop-color="#38106c"/><stop offset="0.9912" stop-color="#2a115c"/><stop offset="0.9933" stop-color="#241253"/><stop offset="0.9935" stop-color="#221150"/><stop offset="0.9956" stop-color="#1a1042"/><stop offset="0.9967" stop-color="#150e38"/><stop offset="0.9971" stop-color="#130d34"/><stop offset="0.9994" stop-color="#02020d"/><stop offset="0.9999" stop-color="#010005"/></linearGradient><linearGradient id="g47" gradientUnits="userSpaceOnUse" spreadMethod="reflect" x1="548.95" x2="994.35" y1="0" y2="0"><stop offset="0.0000" stop-color="#fde3a5"/><stop offset="0.0633" stop-color="#fde2a3"/><stop offset="0.1833" stop-color="#fed194"/><stop offset="0.4033" stop-color="#fea772"/><stop offset="0.5800" stop-color="#fb835f"/><stop offset="0.7167" stop-color="#f2645c"/><stop offset="0.7933" stop-color="#e44f64"/><stop offset="0.8433" stop-color="#d2426f"/><stop offset="0.8833" stop-color="#bc3978"/><stop offset="0.9200" stop-color="#9c2e7f"/><stop offset="0.9533" stop-color="#732081"/><stop offset="0.9733" stop-color="#52137c"/><stop offset="0.9833" stop-color="#3f0f72"/><stop offset="0.9867" stop-color="#38106c"/><stop offset="0.9912" stop-color="#2a115c"/><stop offset="0.9933" stop-color="#241253"/><stop offset="0.9936" stop-color="#221150"/><stop offset="0.9956" stop-color="#1a1042"/><stop offset="0.9967" stop-color="#150e38"/><stop offset="0.9971" stop-color="#130d34"/><stop offset="0.9994" stop-color="#02020d"/><stop offset="0.9999" stop-color="#010005"/></linearGradient><linearGradient id="g48" gradientUnits="userSpaceOnUse" spreadMethod="reflect" x1="548.95" x2="994.76" y1="0" y2="0"><stop offset="0.0000" stop-color="#fde5a7"/><stop offset="0.0767" stop-color="#fde2a3"/><stop offset="0.2100" stop-color="#fecd90"/><stop offset="0.3867" stop-color="#feaa74"/><stop offset="0.5733" stop-color="#fb8560"/><stop offset="0.7100" stop-color="#f3655c"/><stop offset="0.7900" stop-color="#e55064"/><stop offset="0.8400" stop-color="#d3436e"/><stop offset="0.8767" stop-color="#c03a76"/><stop offset="0.9167" stop-color="#a02f7f"/><stop offset="0.9467" stop-color="#7c2382"/><stop offset="0.9700" stop-color="#59157e"/><stop offset="0.9833" stop-color="#3f0f72"/><stop offset="0.9867" stop-color="#38106c"/><stop offset="0.9912" stop-color="#2a115c"/><stop offset="0.9933" stop-color="#241253"/><stop offset="0.9936" stop-color="#221150"/><stop offset="0.9956" stop-color="#1a1042"/><stop offset="0.9967" stop-color="#150e38"/><stop offset="0.9971" stop-color="#130d34"/><stop offset="0.9994" stop-color="#02020d"/><stop offset="0.9999" stop-color="#010005"/></linearGradient><linearGradient id="g49" gradientUnits="userSpaceOnUse" spreadMethod="reflect" x1="548.95" x2="995.15" y1="0" y2="0"><stop offset="0.0000" stop-color="#fde5a7"/><stop offset="0.0700" stop-color="#fde3a5"/><stop offset="0.1833" stop-color="#fed395"/><stop offset="0.3967" stop-color="#fea973"/><stop offset="0.5867" stop-color="#fa815f"/><stop offset="0.6733" stop-color="#f66e5c"/><stop offset="0.7700" stop-color="#ea5661"/><stop offset="0.8267" stop-color="#d9466b"/><stop offset="0.8767" stop-color="#c03a76"/><stop offset="0.9133" stop-color="#a3307e"/><stop offset="0.9433" stop-color="#812581"/><stop offset="0.9700" stop-color="#59157e"/><stop offset="0.9833" stop-color="#3f0f72"/><stop offset="0.9867" stop-color="#38106c"/><stop offset="0.9912" stop-color="#2a115c"/><stop offset="0.9933" stop-color="#241253"/><stop offset="0.9936" stop-color="#221150"/><stop offset="0.9956" stop-color="#1a1042"/><stop offset="0.9967" stop-color="#150e38"/><stop offset="0.9971" stop-color="#130d34"/><stop offset="0.9994" stop-color="#02020d"/><stop offset="0.9999" stop-color="#010005"/></linearGradient><linearGradient id="g50" gradientUnits="userSpaceOnUse" spreadMethod="reflect" x1="548.95" x2="995.51" y1="0" y2="0"><stop offset="0.0000" stop-color="#fde7a9"/><stop offset="0.0633" stop-color="#fde5a7"/><stop offset="0.1767" stop-color="#fed597"/><stop offset="0.3900" stop-color="#feaa74"/><stop offset="0.5800" stop-color="#fb835f"/><stop offset="0.6900" stop-color="#f56b5c"/><stop offset="0.7800" stop-color="#e85362"/><stop offset="0.8300" stop-color="#d8456c"/><stop offset="0.8700" stop-color="#c53c74"/><stop offset="0.9100" stop-color="#a6317d"/><stop offset="0.9400" stop-color="#862781"/><stop offset="0.9667" stop-color="#5f187f"/><stop offset="0.9800" stop-color="#451077"/><stop offset="0.9833" stop-color="#3f0f72"/><stop offset="0.9867" stop-color="#38106c"/><stop offset="0.9912" stop-color="#2a115c"/><stop offset="0.9933" stop-color="#241253"/><stop offset="0.9936" stop-color="#221150"/><stop offset="0.9956" stop-color="#1a1042"/><stop offset="0.9967" stop-color="#150e38"/><stop offset="0.9971" stop-color="#130d34"/><stop offset="0.9994" stop-color="#02020d"/><stop offset="0.9999" stop-color="#010005"/></linearGradient><linearGradient id="g51" gradientUnits="userSpaceOnUse" spreadMethod="reflect" x1="548.95" x2="995.86" y1="0" y2="0"><stop offset="0.0000" stop-color="#fde9aa"/><stop offset="0.0900" stop-color="#fde3a5"/><stop offset="0.2000" stop-color="#fed194"/><stop offset="0.4100" stop-color="#fea772"/><stop offset="0.5933" stop-color="#fa815f"/><stop offset="0.7233" stop-color="#f2625d"/><stop offset="0.8000" stop-color="#e34e65"/><stop offset="0.8500" stop-color="#d0416f"/><stop offset="0.8933" stop-color="#b5367a"/><stop offset="0.9333" stop-color="#8e2a81"/><stop offset="0.9667" stop-color="#5f187f"/><stop offset="0.9800" stop-color="#451077"/><stop offset="0.9833" stop-color="#3f0f72"/><stop offset="0.9867" stop-color="#38106c"/><stop offset="0.9912" stop-color="#2a115c"/><stop offset="0.9933" stop-color="#241253"/><stop offset="0.9936" stop-color="#221150"/><stop offset="0.9956" stop-color="#1a1042"/><stop offset="0.9967" stop-color="#150e38"/><stop offset="0.9971" stop-color="#130d34"/><stop offset="0.9994" stop-color="#02020d"/><stop offset="0.9999" stop-color="#010005"/></linearGradient><linearGradient id="g52" gradientUnits="userSpaceOnUse" spreadMethod="reflect" x1="548.95" x2="996.18" y1="0" y2="0"><stop offset="0.0000" stop-color="#fde9aa"/><stop offset="0.0667" stop-color="#fde7a9"/><stop offset="0.1867" stop-color="#fed597"/><stop offset="0.3667" stop-color="#feb078"/><stop offset="0.5400" stop-color="#fc8c63"/><stop offset="0.6867" stop-color="#f56b5c"/><stop offset="0.7700" stop-color="#ea5661"/><stop offset="0.8233" stop-color="#db476a"/><stop offset="0.8700" stop-color="#c53c74"/><stop offset="0.9100" stop-color="#a6317d"/><stop offset="0.9400" stop-color="#862781"/><stop offset="0.9667" stop-color="#5f187f"/><stop offset="0.9800" stop-color="#471078"/><stop offset="0.9833" stop-color="#3f0f72"/><stop offset="0.9867" stop-color="#38106c"/><stop offset="0.9912" stop-color="#2a115c"/><stop offset="0.9933" stop-color="#241253"/><stop offset="0.9936" stop-color="#221150"/><stop offset="0.9956" stop-color="#1a1042"/><stop offset="0.9967" stop-color="#150e38"/><stop offset="0.9971" stop-color="#130d34"/><stop offset="0.9994" stop-color="#02020d"/><stop offset="0.9999" stop-color="#010005"/></linearGradient><linearGradient id="g53" gradientUnits="userSpaceOnUse" spreadMethod="reflect" x1="548.95" x2="996.49" y1="0" y2="0"><stop offset="0.0000" stop-color="#fdebac"/><stop offset="0.0767" stop-color="#fde7a9"/><stop offset="0.2067" stop-color="#fed194"/><stop offset="0.4033" stop-color="#fea973"/><stop offset="0.5867" stop-color="#fb835f"/><stop offset="0.7200" stop-color="#f2645c"/><stop offset="0.7900" stop-color="#e55064"/><stop offset="0.8467" stop-color="#d2426f"/><stop offset="0.8867" stop-color="#ba3878"/><stop offset="0.9200" stop-color="#9c2e7f"/><stop offset="0.9500" stop-color="#782281"/><stop offset="0.9667" stop-color="#5f187f"/><stop offset="0.9800" stop-color="#471078"/><stop offset="0.9833" stop-color="#3f0f72"/><stop offset="0.9867" stop-color="#38106c"/><stop offset="0.9913" stop-color="#2a115c"/><stop offset="0.9933" stop-color="#241253"/><stop offset="0.9936" stop-color="#221150"/><stop offset="0.9956" stop-color="#1a1042"/><stop offset="0.9967" stop-color="#150e38"/><stop offset="0.9971" stop-color="#130d34"/><stop offset="0.9994" stop-color="#02020d"/><stop offset="0.9999" stop-color="#010005"/></linearGradient><linearGradient id="g54" gradientUnits="userSpaceOnUse" spreadMethod="reflect" x1="548.95" x2="996.78" y1="0" y2="0"><stop offset="0.0000" stop-color="#fcecae"/><stop offset="0.0833" stop-color="#fde7a9"/><stop offset="0.2367" stop-color="#fecc8f"/><stop offset="0.4233" stop-color="#fea571"/><stop offset="0.6033" stop-color="#fa7f5e"/><stop offset="0.7333" stop-color="#f1605d"/><stop offset="0.8100" stop-color="#e04c67"/><stop offset="0.8633" stop-color="#c83e73"/><stop offset="0.8933" stop-color="#b5367a"/><stop offset="0.9367" stop-color="#8b2981"/><stop offset="0.9667" stop-color="#5f187f"/><stop offset="0.9800" stop-color="#471078"/><stop offset="0.9833" stop-color="#3f0f72"/><stop offset="0.9867" stop-color="#38106c"/><stop offset="0.9913" stop-color="#2a115c"/><stop offset="0.9933" stop-color="#241253"/><stop offset="0.9936" stop-color="#241253"/><stop offset="0.9956" stop-color="#1a1042"/><stop offset="0.9967" stop-color="#150e38"/><stop offset="0.9971" stop-color="#130d34"/><stop offset="0.9994" stop-color="#02020d"/><stop offset="0.9999" stop-color="#010005"/></linearGradient><linearGradient id="g55" gradientUnits="userSpaceOnUse" spreadMethod="reflect" x1="548.95" x2="997.05" y1="0" y2="0"><stop offset="0.0000" stop-color="#fcecae"/><stop offset="0.0600" stop-color="#fdebac"/><stop offset="0.1667" stop-color="#fdda9c"/><stop offset="0.3700" stop-color="#feb078"/><stop offset="0.5433" stop-color="#fc8c63"/><stop offset="0.6900" stop-color="#f56b5c"/><stop offset="0.7767" stop-color="#e95462"/><stop offset="0.8367" stop-color="#d6456c"/><stop offset="0.8733" stop-color="#c43c75"/><stop offset="0.9100" stop-color="#a6317d"/><stop offset="0.9367" stop-color="#8b2981"/><stop offset="0.9633" stop-color="#651a80"/><stop offset="0.9800" stop-color="#471078"/><stop offset="0.9833" stop-color="#3f0f72"/><stop offset="0.9867" stop-color="#38106c"/><stop offset="0.9913" stop-color="#2c115f"/><stop offset="0.9933" stop-color="#241253"/><stop offset="0.9936" stop-color="#241253"/><stop offset="0.9956" stop-color="#1a1042"/><stop offset="0.9967" stop-color="#150e38"/><stop offset="0.9971" stop-color="#130d34"/><stop offset="0.9994" stop-color="#02020d"/><stop offset="0.9999" stop-color="#010005"/></linearGradient><linearGradient id="g56" gradientUnits="userSpaceOnUse" spreadMethod="reflect" x1="548.95" x2="997.31" y1="0" y2="0"><stop offset="0.0000" stop-color="#fceeb0"/><stop offset="0.0833" stop-color="#fde9aa"/><stop offset="0.2067" stop-color="#fed395"/><stop offset="0.3900" stop-color="#feac76"/><stop offset="0.5700" stop-color="#fb8761"/><stop offset="0.7067" stop-color="#f4675c"/><stop offset="0.7867" stop-color="#e75263"/><stop offset="0.8433" stop-color="#d3436e"/><stop offset="0.8833" stop-color="#bd3977"/><stop offset="0.9267" stop-color="#962c80"/><stop offset="0.9533" stop-color="#752181"/><stop offset="0.9767" stop-color="#4e117b"/><stop offset="0.9833" stop-color="#3f0f72"/><stop offset="0.9867" stop-color="#38106c"/><stop offset="0.9913" stop-color="#2c115f"/><stop offset="0.9933" stop-color="#241253"/><stop offset="0.9936" stop-color="#241253"/><stop offset="0.9956" stop-color="#1a1042"/><stop offset="0.9967" stop-color="#150e38"/><stop offset="0.9971" stop-color="#130d34"/><stop offset="0.9994" stop-color="#02020d"/><stop offset="0.9999" stop-color="#010005"/></linearGradient><linearGradient id="g57" gradientUnits="userSpaceOnUse" spreadMethod="reflect" x1="548.95" x2="997.55" y1="0" y2="0"><stop offset="0.0000" stop-color="#fceeb0"/><stop offset="0.0600" stop-color="#fcecae"/><stop offset="0.1567" stop-color="#fddea0"/><stop offset="0.3467" stop-color="#feb67c"/><stop offset="0.5267" stop-color="#fc9065"/><stop offset="0.6767" stop-color="#f66e5c"/><stop offset="0.7733" stop-color="#ea5661"/><stop offset="0.8333" stop-color="#d8456c"/><stop offset="0.8733" stop-color="#c43c75"/><stop offset="0.9100" stop-color="#a6317d"/><stop offset="0.9367" stop-color="#8b2981"/><stop offset="0.9633" stop-color="#651a80"/><stop offset="0.9800" stop-color="#471078"/><stop offset="0.9833" stop-color="#3f0f72"/><stop offset="0.9840" stop-color="#3f0f72"/><stop offset="0.9900" stop-color="#2f1163"/><stop offset="0.9913" stop-color="#2c115f"/><stop offset="0.9933" stop-color="#241253"/><stop offset="0.9936" stop-color="#241253"/><stop offset="0.9956" stop-color="#1a1042"/><stop offset="0.9967" stop-color="#150e38"/><stop offset="0.9971" stop-color="#130d34"/><stop offset="0.9994" stop-color="#02020d"/><stop offset="0.9999" stop-color="#010005"/></linearGradient><linearGradient id="g58" gradientUnits="userSpaceOnUse" spreadMethod="reflect" x1="548.95" x2="997.78" y1="0" y2="0"><stop offset="0.0000" stop-color="#fcf0b2"/><stop offset="0.0833" stop-color="#fdebac"/><stop offset="0.2033" stop-color="#fed597"/><stop offset="0.3733" stop-color="#feb078"/><stop offset="0.5533" stop-color="#fc8a62"/><stop offset="0.6933" stop-color="#f56b5c"/><stop offset="0.7833" stop-color="#e85362"/><stop offset="0.8367" stop-color="#d6456c"/><stop offset="0.8733" stop-color="#c43c75"/><stop offset="0.9033" stop-color="#ad347c"/><stop offset="0.9300" stop-color="#932b80"/><stop offset="0.9533" stop-color="#752181"/><stop offset="0.9767" stop-color="#4e117b"/><stop offset="0.9833" stop-color="#3f0f72"/><stop offset="0.9840" stop-color="#3f0f72"/><stop offset="0.9900" stop-color="#2f1163"/><stop offset="0.9913" stop-color="#2c115f"/><stop offset="0.9933" stop-color="#241253"/><stop offset="0.9936" stop-color="#241253"/><stop offset="0.9956" stop-color="#1a1042"/><stop offset="0.9967" stop-color="#150e38"/><stop offset="0.9971" stop-color="#130d34"/><stop offset="0.9994" stop-color="#02020d"/><stop offset="0.9999" stop-color="#010005"/></linearGradient><linearGradient id="g59" gradientUnits="userSpaceOnUse" spreadMethod="reflect" x1="548.95" x2="998.00" y1="0" y2="0"><stop offset="0.0000" stop-color="#fcf0b2"/><stop offset="0.0600" stop-color="#fceeb0"/><stop offset="0.1700" stop-color="#fddc9e"/><stop offset="0.3500" stop-color="#feb67c"/><stop offset="0.5200" stop-color="#fd9266"/><stop offset="0.6733" stop-color="#f7705c"/><stop offset="0.7733" stop-color="#ea5661"/><stop offset="0.8333" stop-color="#d8456c"/><stop offset="0.8767" stop-color="#c23b75"/><stop offset="0.9200" stop-color="#9e2f7f"/><stop offset="0.9533" stop-color="#752181"/><stop offset="0.9767" stop-color="#4e117b"/><stop offset="0.9833" stop-color="#3f0f72"/><stop offset="0.9840" stop-color="#3f0f72"/><stop offset="0.9900" stop-color="#2f1163"/><stop offset="0.9913" stop-color="#2c115f"/><stop offset="0.9933" stop-color="#241253"/><stop offset="0.9936" stop-color="#241253"/><stop offset="0.9956" stop-color="#1a1042"/><stop offset="0.9967" stop-color="#150e38"/><stop offset="0.9971" stop-color="#130d34"/><stop offset="0.9994" stop-color="#02020d"/><stop offset="0.9999" stop-color="#010005"/></linearGradient><linearGradient id="g60" gradientUnits="userSpaceOnUse" spreadMethod="reflect" x1="548.95" x2="998.21" y1="0" y2="0"><stop offset="0.0000" stop-color="#fcf2b4"/><stop offset="0.0667" stop-color="#fceeb0"/><stop offset="0.2000" stop-color="#fed799"/><stop offset="0.3600" stop-color="#feb47b"/><stop offset="0.5200" stop-color="#fd9266"/><stop offset="0.6733" stop-color="#f7705c"/><stop offset="0.7733" stop-color="#ea5661"/><stop offset="0.8300" stop-color="#d9466b"/><stop offset="0.8767" stop-color="#c23b75"/><stop offset="0.9200" stop-color="#9e2f7f"/><stop offset="0.9533" stop-color="#752181"/><stop offset="0.9767" stop-color="#4e117b"/><stop offset="0.9833" stop-color="#3f0f72"/><stop offset="0.9840" stop-color="#3f0f72"/><stop offset="0.9900" stop-color="#2f1163"/><stop offset="0.9913" stop-color="#2c115f"/><stop offset="0.9933" stop-color="#241253"/><stop offset="0.9936" stop-color="#241253"/><stop offset="0.9956" stop-color="#1a1042"/><stop offset="0.9967" stop-color="#150e38"/><stop offset="0.9971" stop-color="#130d34"/><stop offset="0.9994" stop-color="#02020d"/><stop offset="0.9999" stop-color="#010005"/></linearGradient><linearGradient id="g61" gradientUnits="userSpaceOnUse" spreadMethod="reflect" x1="548.95" x2="998.40" y1="0" y2="0"><stop offset="0.0000" stop-color="#fcf2b4"/><stop offset="0.0567" stop-color="#fcf0b2"/><stop offset="0.1667" stop-color="#fddea0"/><stop offset="0.3433" stop-color="#feb77e"/><stop offset="0.5200" stop-color="#fd9266"/><stop offset="0.6767" stop-color="#f66e5c"/><stop offset="0.7700" stop-color="#eb5760"/><stop offset="0.8300" stop-color="#d9466b"/><stop offset="0.8767" stop-color="#c23b75"/><stop offset="0.9167" stop-color="#a1307e"/><stop offset="0.9533" stop-color="#752181"/><stop offset="0.9767" stop-color="#4e117b"/><stop offset="0.9833" stop-color="#3f0f72"/><stop offset="0.9840" stop-color="#3f0f72"/><stop offset="0.9900" stop-color="#2f1163"/><stop offset="0.9913" stop-color="#2c115f"/><stop offset="0.9933" stop-color="#241253"/><stop offset="0.9936" stop-color="#241253"/><stop offset="0.9956" stop-color="#1a1042"/><stop offset="0.9967" stop-color="#150e38"/><stop offset="0.9971" stop-color="#130d34"/><stop offset="0.9994" stop-color="#02020d"/><stop offset="0.9999" stop-color="#010005"/></linearGradient><linearGradient id="g62" gradientUnits="userSpaceOnUse" spreadMethod="reflect" x1="548.95" x2="998.58" y1="0" y2="0"><stop offset="0.0000" stop-color="#fcf4b6"/><stop offset="0.0633" stop-color="#fcf0b2"/><stop offset="0.1867" stop-color="#fdda9c"/><stop offset="0.3533" stop-color="#feb67c"/><stop offset="0.5300" stop-color="#fc9065"/><stop offset="0.6800" stop-color="#f66e5c"/><stop offset="0.7733" stop-color="#ea5661"/><stop offset="0.8267" stop-color="#db476a"/><stop offset="0.8767" stop-color="#c23b75"/><stop offset="0.9167" stop-color="#a1307e"/><stop offset="0.9467" stop-color="#7e2482"/><stop offset="0.9733" stop-color="#54137d"/><stop offset="0.9833" stop-color="#400f74"/><stop offset="0.9840" stop-color="#3f0f72"/><stop offset="0.9900" stop-color="#2f1163"/><stop offset="0.9913" stop-color="#2c115f"/><stop offset="0.9933" stop-color="#241253"/><stop offset="0.9936" stop-color="#241253"/><stop offset="0.9956" stop-color="#1a1042"/><stop offset="0.9967" stop-color="#150e38"/><stop offset="0.9971" stop-color="#130d34"/><stop offset="0.9994" stop-color="#02020d"/><stop offset="0.9999" stop-color="#010005"/></linearGradient><linearGradient id="g63" gradientUnits="userSpaceOnUse" spreadMethod="reflect" x1="548.95" x2="998.76" y1="0" y2="0"><stop offset="0.0000" stop-color="#fcf4b6"/><stop offset="0.0533" stop-color="#fcf2b4"/><stop offset="0.1633" stop-color="#fde0a1"/><stop offset="0.3533" stop-color="#feb67c"/><stop offset="0.5300" stop-color="#fc9065"/><stop offset="0.6800" stop-color="#f66e5c"/><stop offset="0.7733" stop-color="#ea5661"/><stop offset="0.8267" stop-color="#db476a"/><stop offset="0.8767" stop-color="#c23b75"/><stop offset="0.9167" stop-color="#a1307e"/><stop offset="0.9467" stop-color="#7e2482"/><stop offset="0.9733" stop-color="#54137d"/><stop offset="0.9833" stop-color="#400f74"/><stop offset="0.9840" stop-color="#3f0f72"/><stop offset="0.9900" stop-color="#2f1163"/><stop offset="0.9913" stop-color="#2c115f"/><stop offset="0.9933" stop-color="#241253"/><stop offset="0.9936" stop-color="#241253"/><stop offset="0.9956" stop-color="#1a1042"/><stop offset="0.9967" stop-color="#150e38"/><stop offset="0.9971" stop-color="#130d34"/><stop offset="0.9994" stop-color="#02020d"/><stop offset="0.9999" stop-color="#010005"/></linearGradient><linearGradient id="g64" gradientUnits="userSpaceOnUse" spreadMethod="reflect" x1="548.95" x2="998.92" y1="0" y2="0"><stop offset="0.0000" stop-color="#fcf6b8"/><stop offset="0.0767" stop-color="#fcf0b2"/><stop offset="0.1900" stop-color="#fdda9c"/><stop offset="0.3467" stop-color="#feb77e"/><stop offset="0.5133" stop-color="#fd9467"/><stop offset="0.6667" stop-color="#f7725c"/><stop offset="0.7700" stop-color="#eb5760"/><stop offset="0.8300" stop-color="#d9466b"/><stop offset="0.8767" stop-color="#c23b75"/><stop offset="0.9167" stop-color="#a1307e"/><stop offset="0.9467" stop-color="#7e2482"/><stop offset="0.9733" stop-color="#54137d"/><stop offset="0.9833" stop-color="#400f74"/><stop offset="0.9841" stop-color="#3f0f72"/><stop offset="0.9900" stop-color="#2f1163"/><stop offset="0.9913" stop-color="#2c115f"/><stop offset="0.9933" stop-color="#241253"/><stop offset="0.9936" stop-color="#241253"/><stop offset="0.9957" stop-color="#1a1042"/><stop offset="0.9967" stop-color="#150e38"/><stop offset="0.9971" stop-color="#130d34"/><stop offset="0.9994" stop-color="#02020d"/><stop offset="0.9999" stop-color="#010005"/></linearGradient><linearGradient id="g65" gradientUnits="userSpaceOnUse" spreadMethod="reflect" x1="548.95" x2="999.07" y1="0" y2="0"><stop offset="0.0000" stop-color="#fcf6b8"/><stop offset="0.0667" stop-color="#fcf2b4"/><stop offset="0.1667" stop-color="#fde0a1"/><stop offset="0.3467" stop-color="#feb77e"/><stop offset="0.5233" stop-color="#fd9266"/><stop offset="0.6733" stop-color="#f7705c"/><stop offset="0.7700" stop-color="#eb5760"/><stop offset="0.8267" stop-color="#db476a"/><stop offset="0.8767" stop-color="#c23b75"/><stop offset="0.9167" stop-color="#a1307e"/><stop offset="0.9467" stop-color="#7e2482"/><stop offset="0.9733" stop-color="#54137d"/><stop offset="0.9833" stop-color="#400f74"/><stop offset="0.9841" stop-color="#3f0f72"/><stop offset="0.9900" stop-color="#2f1163"/><stop offset="0.9913" stop-color="#2c115f"/><stop offset="0.9933" stop-color="#241253"/><stop offset="0.9936" stop-color="#241253"/><stop offset="0.9957" stop-color="#1a1042"/><stop offset="0.9967" stop-color="#150e38"/><stop offset="0.9971" stop-color="#130d34"/><stop offset="0.9994" stop-color="#02020d"/><stop offset="0.9999" stop-color="#010005"/></linearGradient><linearGradient id="g66" gradientUnits="userSpaceOnUse" spreadMethod="reflect" x1="548.95" x2="999.22" y1="0" y2="0"><stop offset="0.0000" stop-color="#fcf6b8"/><stop offset="0.0567" stop-color="#fcf4b6"/><stop offset="0.1700" stop-color="#fde0a1"/><stop offset="0.3233" stop-color="#febd82"/><stop offset="0.4967" stop-color="#fd9869"/><stop offset="0.6500" stop-color="#f8765c"/><stop offset="0.7600" stop-color="#ed5a5f"/><stop offset="0.8233" stop-color="#dc4869"/><stop offset="0.8767" stop-color="#c23b75"/><stop offset="0.9133" stop-color="#a5317e"/><stop offset="0.9433" stop-color="#832681"/><stop offset="0.9700" stop-color="#5a167e"/><stop offset="0.9833" stop-color="#400f74"/><stop offset="0.9841" stop-color="#3f0f72"/><stop offset="0.9900" stop-color="#2f1163"/><stop offset="0.9913" stop-color="#2c115f"/><stop offset="0.9933" stop-color="#241253"/><stop offset="0.9936" stop-color="#241253"/><stop offset="0.9957" stop-color="#1a1042"/><stop offset="0.9967" stop-color="#150e38"/><stop offset="0.9971" stop-color="#130d34"/><stop offset="0.9994" stop-color="#02020d"/><stop offset="0.9999" stop-color="#010005"/></linearGradient><linearGradient id="g67" gradientUnits="userSpaceOnUse" spreadMethod="reflect" x1="548.95" x2="999.35" y1="0" y2="0"><stop offset="0.0000" stop-color="#fcf7b9"/><stop offset="0.0767" stop-color="#fcf2b4"/><stop offset="0.2033" stop-color="#fed89a"/><stop offset="0.3567" stop-color="#feb67c"/><stop offset="0.5333" stop-color="#fc9065"/><stop offset="0.6800" stop-color="#f66e5c"/><stop offset="0.7767" stop-color="#ea5661"/><stop offset="0.8300" stop-color="#d9466b"/><stop offset="0.8800" stop-color="#c03a76"/><stop offset="0.9167" stop-color="#a1307e"/><stop offset="0.9467" stop-color="#7e2482"/><stop offset="0.9700" stop-color="#5a167e"/><stop offset="0.9833" stop-color="#400f74"/><stop offset="0.9841" stop-color="#3f0f72"/><stop offset="0.9900" stop-color="#2f1163"/><stop offset="0.9913" stop-color="#2c115f"/><stop offset="0.9933" stop-color="#241253"/><stop offset="0.9936" stop-color="#241253"/><stop offset="0.9957" stop-color="#1a1042"/><stop offset="0.9967" stop-color="#150e38"/><stop offset="0.9971" stop-color="#130d34"/><stop offset="0.9994" stop-color="#02020d"/><stop offset="0.9999" stop-color="#010005"/></linearGradient><linearGradient id="g68" gradientUnits="userSpaceOnUse" spreadMethod="reflect" x1="548.95" x2="999.48" y1="0" y2="0"><stop offset="0.0000" stop-color="#fcf7b9"/><stop offset="0.0667" stop-color="#fcf4b6"/><stop offset="0.1900" stop-color="#fddc9e"/><stop offset="0.3333" stop-color="#febb81"/><stop offset="0.5067" stop-color="#fd9668"/><stop offset="0.6633" stop-color="#f7725c"/><stop offset="0.7700" stop-color="#eb5760"/><stop offset="0.8267" stop-color="#db476a"/><stop offset="0.8700" stop-color="#c73d73"/><stop offset="0.9100" stop-color="#a8327d"/><stop offset="0.9433" stop-color="#832681"/><stop offset="0.9700" stop-color="#5a167e"/><stop offset="0.9833" stop-color="#400f74"/><stop offset="0.9841" stop-color="#3f0f72"/><stop offset="0.9900" stop-color="#2f1163"/><stop offset="0.9913" stop-color="#2c115f"/><stop offset="0.9933" stop-color="#241253"/><stop offset="0.9936" stop-color="#241253"/><stop offset="0.9957" stop-color="#1a1042"/><stop offset="0.9967" stop-color="#150e38"/><stop offset="0.9971" stop-color="#130d34"/><stop offset="0.9994" stop-color="#02020d"/><stop offset="0.9999" stop-color="#010005"/></linearGradient><linearGradient id="g69" gradientUnits="userSpaceOnUse" spreadMethod="reflect" x1="548.95" x2="999.60" y1="0" y2="0"><stop offset="0.0000" stop-color="#fcf7b9"/><stop offset="0.0533" stop-color="#fcf6b8"/><stop offset="0.1667" stop-color="#fde2a3"/><stop offset="0.3167" stop-color="#febf84"/><stop offset="0.4967" stop-color="#fd9869"/><stop offset="0.6567" stop-color="#f8745c"/><stop offset="0.7667" stop-color="#ec5860"/><stop offset="0.8267" stop-color="#db476a"/><stop offset="0.8700" stop-color="#c73d73"/><stop offset="0.9100" stop-color="#a8327d"/><stop offset="0.9400" stop-color="#882781"/><stop offset="0.9700" stop-color="#5a167e"/><stop offset="0.9833" stop-color="#400f74"/><stop offset="0.9841" stop-color="#3f0f72"/><stop offset="0.9900" stop-color="#2f1163"/><stop offset="0.9913" stop-color="#2c115f"/><stop offset="0.9933" stop-color="#241253"/><stop offset="0.9936" stop-color="#241253"/><stop offset="0.9957" stop-color="#1a1042"/><stop offset="0.9967" stop-color="#150e38"/><stop offset="0.9971" stop-color="#130d34"/><stop offset="0.9994" stop-color="#02020d"/><stop offset="0.9999" stop-color="#010005"/></linearGradient><linearGradient id="g70" gradientUnits="userSpaceOnUse" spreadMethod="reflect" x1="548.95" x2="999.71" y1="0" y2="0"><stop offset="0.0000" stop-color="#fcf9bb"/><stop offset="0.0733" stop-color="#fcf4b6"/><stop offset="0.1833" stop-color="#fddea0"/><stop offset="0.3500" stop-color="#feb77e"/><stop offset="0.5167" stop-color="#fd9467"/><stop offset="0.6667" stop-color="#f7725c"/><stop offset="0.7700" stop-color="#eb5760"/><stop offset="0.8267" stop-color="#db476a"/><stop offset="0.8700" stop-color="#c73d73"/><stop offset="0.9100" stop-color="#a8327d"/><stop offset="0.9400" stop-color="#882781"/><stop offset="0.9700" stop-color="#5a167e"/><stop offset="0.9833" stop-color="#400f74"/><stop offset="0.9841" stop-color="#3f0f72"/><stop offset="0.9900" stop-color="#2f1163"/><stop offset="0.9913" stop-color="#2c115f"/><stop offset="0.9933" stop-color="#241253"/><stop offset="0.9936" stop-color="#241253"/><stop offset="0.9957" stop-color="#1a1042"/><stop offset="0.9967" stop-color="#150e38"/><stop offset="0.9971" stop-color="#130d34"/><stop offset="0.9994" stop-color="#02020d"/><stop offset="0.9999" stop-color="#010005"/></linearGradient><linearGradient id="g71" gradientUnits="userSpaceOnUse" spreadMethod="reflect" x1="548.95" x2="999.82" y1="0" y2="0"><stop offset="0.0000" stop-color="#fcf9bb"/><stop offset="0.0633" stop-color="#fcf6b8"/><stop offset="0.1700" stop-color="#fde2a3"/><stop offset="0.3267" stop-color="#febd82"/><stop offset="0.4900" stop-color="#fd9a6a"/><stop offset="0.6500" stop-color="#f8765c"/><stop offset="0.7600" stop-color="#ed5a5f"/><stop offset="0.8200" stop-color="#de4968"/><stop offset="0.8700" stop-color="#c73d73"/><stop offset="0.9100" stop-color="#a8327d"/><stop offset="0.9400" stop-color="#882781"/><stop offset="0.9700" stop-color="#5a167e"/><stop offset="0.9833" stop-color="#400f74"/><stop offset="0.9841" stop-color="#3f0f72"/><stop offset="0.9900" stop-color="#2f1163"/><stop offset="0.9913" stop-color="#2c115f"/><stop offset="0.9933" stop-color="#241253"/><stop offset="0.9936" stop-color="#241253"/><stop offset="0.9957" stop-color="#1a1042"/><stop offset="0.9967" stop-color="#150e38"/><stop offset="0.9971" stop-color="#130d34"/><stop offset="0.9994" stop-color="#02020d"/><stop offset="0.9999" stop-color="#010005"/></linearGradient><linearGradient id="g72" gradientUnits="userSpaceOnUse" spreadMethod="reflect" x1="548.95" x2="999.92" y1="0" y2="0"><stop offset="0.0000" stop-color="#fcf9bb"/><stop offset="0.0533" stop-color="#fcf7b9"/><stop offset="0.1533" stop-color="#fde5a7"/><stop offset="0.3267" stop-color="#febd82"/><stop offset="0.5067" stop-color="#fd9668"/><stop offset="0.6600" stop-color="#f8745c"/><stop offset="0.7667" stop-color="#ec5860"/><stop offset="0.8233" stop-color="#dc4869"/><stop offset="0.8700" stop-color="#c73d73"/><stop offset="0.9100" stop-color="#a8327d"/><stop offset="0.9400" stop-color="#882781"/><stop offset="0.9700" stop-color="#5a167e"/><stop offset="0.9833" stop-color="#400f74"/><stop offset="0.9841" stop-color="#3f0f72"/><stop offset="0.9900" stop-color="#2f1163"/><stop offset="0.9913" stop-color="#2c115f"/><stop offset="0.9933" stop-color="#241253"/><stop offset="0.9936" stop-color="#241253"/><stop offset="0.9957" stop-color="#1a1042"/><stop offset="0.9967" stop-color="#150e38"/><stop offset="0.9971" stop-color="#130d34"/><stop offset="0.9994" stop-color="#02020d"/><stop offset="0.9999" stop-color="#010005"/></linearGradient><linearGradient id="g73" gradientUnits="userSpaceOnUse" spreadMethod="reflect" x1="548.95" x2="1000.01" y1="0" y2="0"><stop offset="0.0000" stop-color="#fcf9bb"/><stop offset="0.0567" stop-color="#fcf7b9"/><stop offset="0.1467" stop-color="#fde7a9"/><stop offset="0.3200" stop-color="#febf84"/><stop offset="0.4900" stop-color="#fd9a6a"/><stop offset="0.6567" stop-color="#f8745c"/><stop offset="0.7667" stop-color="#ec5860"/><stop offset="0.8233" stop-color="#dc4869"/><stop offset="0.8700" stop-color="#c73d73"/><stop offset="0.9100" stop-color="#a8327d"/><stop offset="0.9400" stop-color="#882781"/><stop offset="0.9700" stop-color="#5a167e"/><stop offset="0.9833" stop-color="#400f74"/><stop offset="0.9841" stop-color="#3f0f72"/><stop offset="0.9900" stop-color="#2f1163"/><stop offset="0.9913" stop-color="#2c115f"/><stop offset="0.9933" stop-color="#241253"/><stop offset="0.9936" stop-color="#241253"/><stop offset="0.9957" stop-color="#1a1042"/><stop offset="0.9967" stop-color="#150e38"/><stop offset="0.9971" stop-color="#130d34"/><stop offset="0.9994" stop-color="#02020d"/><stop offset="0.9999" stop-color="#010005"/></linearGradient><linearGradient id="g74" gradientUnits="userSpaceOnUse" spreadMethod="reflect" x1="548.95" x2="1000.10" y1="0" y2="0"><stop offset="0.0000" stop-color="#fcfbbd"/><stop offset="0.0733" stop-color="#fcf6b8"/><stop offset="0.1967" stop-color="#fddc9e"/><stop offset="0.3367" stop-color="#febb81"/><stop offset="0.5000" stop-color="#fd9869"/><stop offset="0.6567" stop-color="#f8745c"/><stop offset="0.7533" stop-color="#ee5b5e"/><stop offset="0.8167" stop-color="#df4a68"/><stop offset="0.8700" stop-color="#c73d73"/><stop offset="0.9100" stop-color="#a8327d"/><stop offset="0.9400" stop-color="#882781"/><stop offset="0.9700" stop-color="#5a167e"/><stop offset="0.9833" stop-color="#400f74"/><stop offset="0.9841" stop-color="#3f0f72"/><stop offset="0.9900" stop-color="#2f1163"/><stop offset="0.9913" stop-color="#2c115f"/><stop offset="0.9933" stop-color="#241253"/><stop offset="0.9936" stop-color="#241253"/><stop offset="0.9957" stop-color="#1a1042"/><stop offset="0.9967" stop-color="#150e38"/><stop offset="0.9971" stop-color="#130d34"/><stop offset="0.9994" stop-color="#02020d"/><stop offset="0.9999" stop-color="#010005"/></linearGradient><linearGradient id="g75" gradientUnits="userSpaceOnUse" spreadMethod="reflect" x1="548.95" x2="1000.18" y1="0" y2="0"><stop offset="0.0000" stop-color="#fcfbbd"/><stop offset="0.0633" stop-color="#fcf7b9"/><stop offset="0.1667" stop-color="#fde3a5"/><stop offset="0.3133" stop-color="#fec185"/><stop offset="0.4733" stop-color="#fe9d6c"/><stop offset="0.6367" stop-color="#f9795d"/><stop offset="0.7500" stop-color="#ef5d5e"/><stop offset="0.8167" stop-color="#df4a68"/><stop offset="0.8700" stop-color="#c73d73"/><stop offset="0.9100" stop-color="#a8327d"/><stop offset="0.9400" stop-color="#882781"/><stop offset="0.9700" stop-color="#5a167e"/><stop offset="0.9833" stop-color="#400f74"/><stop offset="0.9841" stop-color="#3f0f72"/><stop offset="0.9900" stop-color="#2f1163"/><stop offset="0.9913" stop-color="#2c115f"/><stop offset="0.9933" stop-color="#241253"/><stop offset="0.9936" stop-color="#241253"/><stop offset="0.9957" stop-color="#1a1042"/><stop offset="0.9967" stop-color="#150e38"/><stop offset="0.9971" stop-color="#130d34"/><stop offset="0.9994" stop-color="#02020d"/><stop offset="0.9999" stop-color="#010005"/></linearGradient><linearGradient id="g76" gradientUnits="userSpaceOnUse" spreadMethod="reflect" x1="548.95" x2="1000.25" y1="0" y2="0"><stop offset="0.0000" stop-color="#fcfbbd"/><stop offset="0.0500" stop-color="#fcf9bb"/><stop offset="0.1333" stop-color="#fdebac"/><stop offset="0.3133" stop-color="#fec185"/><stop offset="0.4733" stop-color="#fe9d6c"/><stop offset="0.6367" stop-color="#f9795d"/><stop offset="0.7500" stop-color="#ef5d5e"/><stop offset="0.8167" stop-color="#df4a68"/><stop offset="0.8700" stop-color="#c73d73"/><stop offset="0.9100" stop-color="#a8327d"/><stop offset="0.9400" stop-color="#882781"/><stop offset="0.9700" stop-color="#5a167e"/><stop offset="0.9833" stop-color="#400f74"/><stop offset="0.9841" stop-color="#3f0f72"/><stop offset="0.9900" stop-color="#2f1163"/><stop offset="0.9913" stop-color="#2c115f"/><stop offset="0.9933" stop-color="#241253"/><stop offset="0.9936" stop-color="#241253"/><stop offset="0.9957" stop-color="#1a1042"/><stop offset="0.9967" stop-color="#150e38"/><stop offset="0.9971" stop-color="#130d34"/><stop offset="0.9994" stop-color="#02020d"/><stop offset="0.9999" stop-color="#010005"/></linearGradient><linearGradient id="g77" gradientUnits="userSpaceOnUse" spreadMethod="reflect" x1="548.95" x2="1000.32" y1="0" y2="0"><stop offset="0.0000" stop-color="#fcfbbd"/><stop offset="0.0533" stop-color="#fcf9bb"/><stop offset="0.1433" stop-color="#fde9aa"/><stop offset="0.3133" stop-color="#fec185"/><stop offset="0.4833" stop-color="#fd9b6b"/><stop offset="0.6433" stop-color="#f9785d"/><stop offset="0.7567" stop-color="#ee5b5e"/><stop offset="0.8200" stop-color="#de4968"/><stop offset="0.8700" stop-color="#c73d73"/><stop offset="0.9067" stop-color="#ab337c"/><stop offset="0.9333" stop-color="#902a81"/><stop offset="0.9667" stop-color="#601880"/><stop offset="0.9800" stop-color="#471078"/><stop offset="0.9833" stop-color="#400f74"/><stop offset="0.9841" stop-color="#3f0f72"/><stop offset="0.9900" stop-color="#2f1163"/><stop offset="0.9913" stop-color="#2c115f"/><stop offset="0.9933" stop-color="#241253"/><stop offset="0.9936" stop-color="#241253"/><stop offset="0.9957" stop-color="#1a1042"/><stop offset="0.9967" stop-color="#150e38"/><stop offset="0.9971" stop-color="#130d34"/><stop offset="0.9994" stop-color="#02020d"/><stop offset="0.9999" stop-color="#010005"/></linearGradient><linearGradient id="g78" gradientUnits="userSpaceOnUse" spreadMethod="reflect" x1="548.95" x2="1000.38" y1="0" y2="0"><stop offset="0.0000" stop-color="#fcfbbd"/><stop offset="0.0567" stop-color="#fcf9bb"/><stop offset="0.1600" stop-color="#fde5a7"/><stop offset="0.3067" stop-color="#fec287"/><stop offset="0.4733" stop-color="#fe9d6c"/><stop offset="0.6367" stop-color="#f9795d"/><stop offset="0.7500" stop-color="#ef5d5e"/><stop offset="0.8167" stop-color="#df4a68"/><stop offset="0.8700" stop-color="#c73d73"/><stop offset="0.9067" stop-color="#ab337c"/><stop offset="0.9333" stop-color="#902a81"/><stop offset="0.9667" stop-color="#601880"/><stop offset="0.9800" stop-color="#471078"/><stop offset="0.9833" stop-color="#400f74"/><stop offset="0.9841" stop-color="#3f0f72"/><stop offset="0.9900" stop-color="#2f1163"/><stop offset="0.9913" stop-color="#2c115f"/><stop offset="0.9933" stop-color="#241253"/><stop offset="0.9936" stop-color="#241253"/><stop offset="0.9957" stop-color="#1a1042"/><stop offset="0.9967" stop-color="#150e38"/><stop offset="0.9971" stop-color="#130d34"/><stop offset="0.9994" stop-color="#02020d"/><stop offset="0.9999" stop-color="#010005"/></linearGradient><linearGradient id="g79" gradientUnits="userSpaceOnUse" spreadMethod="reflect" x1="548.95" x2="1000.44" y1="0" y2="0"><stop offset="0.0000" stop-color="#fcfdbf"/><stop offset="0.0700" stop-color="#fcf7b9"/><stop offset="0.1767" stop-color="#fde2a3"/><stop offset="0.3300" stop-color="#febd82"/><stop offset="0.5000" stop-color="#fd9869"/><stop offset="0.6533" stop-color="#f8765c"/><stop offset="0.7600" stop-color="#ed5a5f"/><stop offset="0.8200" stop-color="#de4968"/><stop offset="0.8700" stop-color="#c73d73"/><stop offset="0.9067" stop-color="#ab337c"/><stop offset="0.9333" stop-color="#902a81"/><stop offset="0.9667" stop-color="#601880"/><stop offset="0.9800" stop-color="#471078"/><stop offset="0.9833" stop-color="#400f74"/><stop offset="0.9841" stop-color="#3f0f72"/><stop offset="0.9900" stop-color="#2f1163"/><stop offset="0.9913" stop-color="#2c115f"/><stop offset="0.9933" stop-color="#241253"/><stop offset="0.9936" stop-color="#241253"/><stop offset="0.9957" stop-color="#1a1042"/><stop offset="0.9967" stop-color="#150e38"/><stop offset="0.9971" stop-color="#130d34"/><stop offset="0.9994" stop-color="#02020d"/><stop offset="0.9999" stop-color="#010005"/></linearGradient><linearGradient id="g80" gradientUnits="userSpaceOnUse" spreadMethod="reflect" x1="548.95" x2="1000.49" y1="0" y2="0"><stop offset="0.0000" stop-color="#fcfdbf"/><stop offset="0.0733" stop-color="#fcf7b9"/><stop offset="0.1933" stop-color="#fddea0"/><stop offset="0.3233" stop-color="#febf84"/><stop offset="0.4833" stop-color="#fd9b6b"/><stop offset="0.6433" stop-color="#f9785d"/><stop offset="0.7567" stop-color="#ee5b5e"/><stop offset="0.8200" stop-color="#de4968"/><stop offset="0.8700" stop-color="#c73d73"/><stop offset="0.9067" stop-color="#ab337c"/><stop offset="0.9333" stop-color="#902a81"/><stop offset="0.9667" stop-color="#601880"/><stop offset="0.9800" stop-color="#471078"/><stop offset="0.9833" stop-color="#400f74"/><stop offset="0.9841" stop-color="#3f0f72"/><stop offset="0.9900" stop-color="#2f1163"/><stop offset="0.9913" stop-color="#2c115f"/><stop offset="0.9933" stop-color="#241253"/><stop offset="0.9936" stop-color="#241253"/><stop offset="0.9957" stop-color="#1a1042"/><stop offset="0.9967" stop-color="#150e38"/><stop offset="0.9971" stop-color="#130d34"/><stop offset="0.9994" stop-color="#02020d"/><stop offset="0.9999" stop-color="#010005"/></linearGradient><linearGradient id="g81" gradientUnits="userSpaceOnUse" spreadMethod="reflect" x1="548.95" x2="1000.53" y1="0" y2="0"><stop offset="0.0000" stop-color="#fcfdbf"/><stop offset="0.0600" stop-color="#fcf9bb"/><stop offset="0.1633" stop-color="#fde5a7"/><stop offset="0.3067" stop-color="#fec287"/><stop offset="0.4667" stop-color="#fe9f6d"/><stop offset="0.6333" stop-color="#f9795d"/><stop offset="0.7367" stop-color="#f1605d"/><stop offset="0.8033" stop-color="#e34e65"/><stop offset="0.8567" stop-color="#cf4070"/><stop offset="0.9033" stop-color="#ae347b"/><stop offset="0.9333" stop-color="#902a81"/><stop offset="0.9667" stop-color="#601880"/><stop offset="0.9800" stop-color="#471078"/><stop offset="0.9833" stop-color="#400f74"/><stop offset="0.9841" stop-color="#3f0f72"/><stop offset="0.9900" stop-color="#2f1163"/><stop offset="0.9913" stop-color="#2c115f"/><stop offset="0.9933" stop-color="#241253"/><stop offset="0.9936" stop-color="#241253"/><stop offset="0.9957" stop-color="#1a1042"/><stop offset="0.9967" stop-color="#150e38"/><stop offset="0.9971" stop-color="#130d34"/><stop offset="0.9994" stop-color="#02020d"/><stop offset="0.9999" stop-color="#010005"/></linearGradient><linearGradient id="g82" gradientUnits="userSpaceOnUse" spreadMethod="reflect" x1="548.95" x2="1000.58" y1="0" y2="0"><stop offset="0.0000" stop-color="#fcfdbf"/><stop offset="0.0467" stop-color="#fcfbbd"/><stop offset="0.1400" stop-color="#fdebac"/><stop offset="0.3000" stop-color="#fec488"/><stop offset="0.4567" stop-color="#fea16e"/><stop offset="0.6267" stop-color="#f97b5d"/><stop offset="0.7367" stop-color="#f1605d"/><stop offset="0.8033" stop-color="#e34e65"/><stop offset="0.8533" stop-color="#d0416f"/><stop offset="0.8867" stop-color="#bc3978"/><stop offset="0.9200" stop-color="#9e2f7f"/><stop offset="0.9500" stop-color="#792282"/><stop offset="0.9700" stop-color="#5a167e"/><stop offset="0.9833" stop-color="#400f74"/><stop offset="0.9841" stop-color="#3f0f72"/><stop offset="0.9900" stop-color="#2f1163"/><stop offset="0.9913" stop-color="#2c115f"/><stop offset="0.9933" stop-color="#241253"/><stop offset="0.9936" stop-color="#241253"/><stop offset="0.9957" stop-color="#1a1042"/><stop offset="0.9967" stop-color="#150e38"/><stop offset="0.9971" stop-color="#130d34"/><stop offset="0.9994" stop-color="#02020d"/><stop offset="0.9999" stop-color="#010005"/></linearGradient><linearGradient id="g83" gradientUnits="userSpaceOnUse" spreadMethod="reflect" x1="548.95" x2="1000.61" y1="0" y2="0"><stop offset="0.0000" stop-color="#fcfdbf"/><stop offset="0.0500" stop-color="#fcfbbd"/><stop offset="0.1400" stop-color="#fdebac"/><stop offset="0.3000" stop-color="#fec488"/><stop offset="0.4567" stop-color="#fea16e"/><stop offset="0.6267" stop-color="#f97b5d"/><stop offset="0.7367" stop-color="#f1605d"/><stop offset="0.8033" stop-color="#e34e65"/><stop offset="0.8533" stop-color="#d0416f"/><stop offset="0.8867" stop-color="#bc3978"/><stop offset="0.9200" stop-color="#9e2f7f"/><stop offset="0.9500" stop-color="#792282"/><stop offset="0.9700" stop-color="#5a167e"/><stop offset="0.9833" stop-color="#400f74"/><stop offset="0.9841" stop-color="#3f0f72"/><stop offset="0.9900" stop-color="#2f1163"/><stop offset="0.9913" stop-color="#2c115f"/><stop offset="0.9933" stop-color="#241253"/><stop offset="0.9936" stop-color="#241253"/><stop offset="0.9957" stop-color="#1a1042"/><stop offset="0.9967" stop-color="#150e38"/><stop offset="0.9971" stop-color="#130d34"/><stop offset="0.9994" stop-color="#02020d"/><stop offset="0.9999" stop-color="#010005"/></linearGradient><linearGradient id="g84" gradientUnits="userSpaceOnUse" spreadMethod="reflect" x1="548.95" x2="1000.64" y1="0" y2="0"><stop offset="0.0000" stop-color="#fcfdbf"/><stop offset="0.0500" stop-color="#fcfbbd"/><stop offset="0.1400" stop-color="#fdebac"/><stop offset="0.3000" stop-color="#fec488"/><stop offset="0.4667" stop-color="#fe9f6d"/><stop offset="0.6300" stop-color="#f97b5d"/><stop offset="0.7433" stop-color="#f05f5e"/><stop offset="0.8033" stop-color="#e34e65"/><stop offset="0.8533" stop-color="#d0416f"/><stop offset="0.8867" stop-color="#bc3978"/><stop offset="0.9200" stop-color="#9e2f7f"/><stop offset="0.9500" stop-color="#792282"/><stop offset="0.9700" stop-color="#5a167e"/><stop offset="0.9833" stop-color="#400f74"/><stop offset="0.9841" stop-color="#3f0f72"/><stop offset="0.9900" stop-color="#2f1163"/><stop offset="0.9913" stop-color="#2c115f"/><stop offset="0.9933" stop-color="#241253"/><stop offset="0.9936" stop-color="#241253"/><stop offset="0.9957" stop-color="#1a1042"/><stop offset="0.9967" stop-color="#150e38"/><stop offset="0.9971" stop-color="#130d34"/><stop offset="0.9994" stop-color="#02020d"/><stop offset="0.9999" stop-color="#010005"/></linearGradient><linearGradient id="g85" gradientUnits="userSpaceOnUse" spreadMethod="reflect" x1="548.95" x2="1000.67" y1="0" y2="0"><stop offset="0.0000" stop-color="#fcfdbf"/><stop offset="0.0533" stop-color="#fcfbbd"/><stop offset="0.1500" stop-color="#fde9aa"/><stop offset="0.3000" stop-color="#fec488"/><stop offset="0.4667" stop-color="#fe9f6d"/><stop offset="0.6300" stop-color="#f97b5d"/><stop offset="0.7433" stop-color="#f05f5e"/><stop offset="0.8033" stop-color="#e34e65"/><stop offset="0.8533" stop-color="#d0416f"/><stop offset="0.8867" stop-color="#bc3978"/><stop offset="0.9200" stop-color="#9e2f7f"/><stop offset="0.9500" stop-color="#792282"/><stop offset="0.9700" stop-color="#5a167e"/><stop offset="0.9833" stop-color="#400f74"/><stop offset="0.9841" stop-color="#3f0f72"/><stop offset="0.9900" stop-color="#2f1163"/><stop offset="0.9913" stop-color="#2c115f"/><stop offset="0.9933" stop-color="#241253"/><stop offset="0.9936" stop-color="#241253"/><stop offset="0.9957" stop-color="#1a1042"/><stop offset="0.9967" stop-color="#150e38"/><stop offset="0.9971" stop-color="#130d34"/><stop offset="0.9994" stop-color="#02020d"/><stop offset="0.9999" stop-color="#010005"/></linearGradient><linearGradient id="g86" gradientUnits="userSpaceOnUse" spreadMethod="reflect" x1="548.95" x2="1000.69" y1="0" y2="0"><stop offset="0.0000" stop-color="#fcfdbf"/><stop offset="0.0533" stop-color="#fcfbbd"/><stop offset="0.1500" stop-color="#fde9aa"/><stop offset="0.3000" stop-color="#fec488"/><stop offset="0.4667" stop-color="#fe9f6d"/><stop offset="0.6300" stop-color="#f97b5d"/><stop offset="0.7433" stop-color="#f05f5e"/><stop offset="0.8033" stop-color="#e34e65"/><stop offset="0.8533" stop-color="#d0416f"/><stop offset="0.8867" stop-color="#bc3978"/><stop offset="0.9200" stop-color="#9e2f7f"/><stop offset="0.9500" stop-color="#792282"/><stop offset="0.9700" stop-color="#5a167e"/><stop offset="0.9833" stop-color="#400f74"/><stop offset="0.9841" stop-color="#3f0f72"/><stop offset="0.9900" stop-color="#2f1163"/><stop offset="0.9913" stop-color="#2c115f"/><stop offset="0.9933" stop-color="#241253"/><stop offset="0.9936" stop-color="#241253"/><stop offset="0.9957" stop-color="#1a1042"/><stop offset="0.9967" stop-color="#150e38"/><stop offset="0.9971" stop-color="#130d34"/><stop offset="0.9994" stop-color="#02020d"/><stop offset="0.9999" stop-color="#010005"/></linearGradient><linearGradient id="g87" gradientUnits="userSpaceOnUse" spreadMethod="reflect" x1="548.95" x2="1000.71" y1="0" y2="0"><stop offset="0.0000" stop-color="#fcfdbf"/><stop offset="0.0533" stop-color="#fcfbbd"/><stop offset="0.1333" stop-color="#fcecae"/><stop offset="0.3000" stop-color="#fec488"/><stop offset="0.4667" stop-color="#fe9f6d"/><stop offset="0.6300" stop-color="#f97b5d"/><stop offset="0.7433" stop-color="#f05f5e"/><stop offset="0.8033" stop-color="#e34e65"/><stop offset="0.8533" stop-color="#d0416f"/><stop offset="0.8867" stop-color="#bc3978"/><stop offset="0.9200" stop-color="#9e2f7f"/><stop offset="0.9500" stop-color="#792282"/><stop offset="0.9700" stop-color="#5a167e"/><stop offset="0.9833" stop-color="#400f74"/><stop offset="0.9841" stop-color="#3f0f72"/><stop offset="0.9900" stop-color="#2f1163"/><stop offset="0.9913" stop-color="#2c115f"/><stop offset="0.9933" stop-color="#241253"/><stop offset="0.9936" stop-color="#241253"/><stop offset="0.9957" stop-color="#1a1042"/><stop offset="0.9967" stop-color="#150e38"/><stop offset="0.9971" stop-color="#130d34"/><stop offset="0.9994" stop-color="#02020d"/><stop offset="0.9999" stop-color="#010005"/></linearGradient><linearGradient id="g88" gradientUnits="userSpaceOnUse" spreadMethod="reflect" x1="548.95" x2="1000.72" y1="0" y2="0"><stop offset="0.0000" stop-color="#fcfdbf"/><stop offset="0.0533" stop-color="#fcfbbd"/><stop offset="0.1333" stop-color="#fcecae"/><stop offset="0.3000" stop-color="#fec488"/><stop offset="0.4667" stop-color="#fe9f6d"/><stop offset="0.6300" stop-color="#f97b5d"/><stop offset="0.7433" stop-color="#f05f5e"/><stop offset="0.8133" stop-color="#e04c67"/><stop offset="0.8667" stop-color="#c83e73"/><stop offset="0.9067" stop-color="#ab337c"/><stop offset="0.9333" stop-color="#902a81"/><stop offset="0.9667" stop-color="#601880"/><stop offset="0.9800" stop-color="#471078"/><stop offset="0.9833" stop-color="#400f74"/><stop offset="0.9841" stop-color="#3f0f72"/><stop offset="0.9900" stop-color="#2f1163"/><stop offset="0.9913" stop-color="#2c115f"/><stop offset="0.9933" stop-color="#241253"/><stop offset="0.9936" stop-color="#241253"/><stop offset="0.9957" stop-color="#1a1042"/><stop offset="0.9967" stop-color="#150e38"/><stop offset="0.9971" stop-color="#130d34"/><stop offset="0.9994" stop-color="#02020d"/><stop offset="0.9999" stop-color="#010005"/></linearGradient><linearGradient id="g89" gradientUnits="userSpaceOnUse" spreadMethod="reflect" x1="548.95" x2="1000.73" y1="0" y2="0"><stop offset="0.0000" stop-color="#fcfdbf"/><stop offset="0.0533" stop-color="#fcfbbd"/><stop offset="0.1333" stop-color="#fcecae"/><stop offset="0.2933" stop-color="#fec68a"/><stop offset="0.4500" stop-color="#fea36f"/><stop offset="0.6133" stop-color="#fa7f5e"/><stop offset="0.7367" stop-color="#f1605d"/><stop offset="0.8100" stop-color="#e24d66"/><stop offset="0.8600" stop-color="#cc3f71"/><stop offset="0.8867" stop-color="#bc3978"/><stop offset="0.9200" stop-color="#9e2f7f"/><stop offset="0.9500" stop-color="#792282"/><stop offset="0.9700" stop-color="#5a167e"/><stop offset="0.9833" stop-color="#400f74"/><stop offset="0.9841" stop-color="#3f0f72"/><stop offset="0.9900" stop-color="#2f1163"/><stop offset="0.9913" stop-color="#2c115f"/><stop offset="0.9933" stop-color="#241253"/><stop offset="0.9936" stop-color="#241253"/><stop offset="0.9957" stop-color="#1a1042"/><stop offset="0.9967" stop-color="#150e38"/><stop offset="0.9971" stop-color="#130d34"/><stop offset="0.9994" stop-color="#02020d"/><stop offset="0.9999" stop-color="#010005"/></linearGradient><clipPath id="ca"><rect x="97.70" y="161.90" width="902.50" height="475.50"/></clipPath><clipPath id="cbp"><rect x="97.70" y="680.00" width="902.50" height="474.90"/></clipPath></defs>
<g clip-path="url(#ca)" shape-rendering="crispEdges"><rect x="412.57" y="627.28" width="272.75" height="5.31" fill="url(#g1)"/><rect x="360.69" y="622.00" width="376.51" height="5.31" fill="url(#g2)"/><rect x="323.83" y="616.72" width="450.24" height="5.31" fill="url(#g3)"/><rect x="295.07" y="611.43" width="507.76" height="5.31" fill="url(#g4)"/><rect x="271.63" y="606.15" width="554.63" height="5.31" fill="url(#g5)"/><rect x="252.05" y="600.87" width="593.79" height="5.31" fill="url(#g6)"/><rect x="235.42" y="595.58" width="627.05" height="5.31" fill="url(#g7)"/><rect x="221.13" y="590.30" width="655.64" height="5.31" fill="url(#g8)"/><rect x="208.74" y="585.02" width="680.43" height="5.31" fill="url(#g9)"/><rect x="197.92" y="579.73" width="702.07" height="5.31" fill="url(#g10)"/><rect x="188.42" y="574.45" width="721.06" height="5.31" fill="url(#g11)"/><rect x="180.04" y="569.17" width="737.83" height="5.31" fill="url(#g12)"/><rect x="172.61" y="563.88" width="752.67" height="5.31" fill="url(#g13)"/><rect x="166.01" y="558.60" width="765.88" height="5.31" fill="url(#g14)"/><rect x="160.12" y="553.32" width="777.66" height="5.31" fill="url(#g15)"/><rect x="154.85" y="548.03" width="788.20" height="5.31" fill="url(#g16)"/><rect x="150.12" y="542.75" width="797.66" height="5.31" fill="url(#g17)"/><rect x="145.86" y="537.47" width="806.18" height="5.31" fill="url(#g18)"/><rect x="142.02" y="532.18" width="813.86" height="5.31" fill="url(#g19)"/><rect x="138.55" y="526.90" width="820.81" height="5.31" fill="url(#g20)"/><rect x="135.40" y="521.62" width="827.10" height="5.31" fill="url(#g21)"/><rect x="132.54" y="516.33" width="832.83" height="5.31" fill="url(#g22)"/><rect x="129.93" y="511.05" width="838.04" height="5.31" fill="url(#g23)"/><rect x="127.55" y="505.77" width="842.79" height="5.31" fill="url(#g24)"/><rect x="125.38" y="500.48" width="847.14" height="5.31" fill="url(#g25)"/><rect x="123.39" y="495.20" width="851.11" height="5.31" fill="url(#g26)"/><rect x="121.57" y="489.92" width="854.77" height="5.31" fill="url(#g27)"/><rect x="119.89" y="484.63" width="858.12" height="5.31" fill="url(#g28)"/><rect x="118.34" y="479.35" width="861.21" height="5.31" fill="url(#g29)"/><rect x="116.92" y="474.07" width="864.06" height="5.31" fill="url(#g30)"/><rect x="115.60" y="468.78" width="866.70" height="5.31" fill="url(#g31)"/><rect x="114.38" y="463.50" width="869.13" height="5.31" fill="url(#g32)"/><rect x="113.26" y="458.22" width="871.39" height="5.31" fill="url(#g33)"/><rect x="112.21" y="452.93" width="873.48" height="5.31" fill="url(#g34)"/><rect x="111.24" y="447.65" width="875.43" height="5.31" fill="url(#g35)"/><rect x="110.33" y="442.37" width="877.24" height="5.31" fill="url(#g36)"/><rect x="109.49" y="437.08" width="878.92" height="5.31" fill="url(#g37)"/><rect x="108.70" y="431.80" width="880.50" height="5.31" fill="url(#g38)"/><rect x="107.97" y="426.52" width="881.96" height="5.31" fill="url(#g39)"/><rect x="107.28" y="421.23" width="883.33" height="5.31" fill="url(#g40)"/><rect x="106.64" y="415.95" width="884.62" height="5.31" fill="url(#g41)"/><rect x="106.04" y="410.67" width="885.82" height="5.31" fill="url(#g42)"/><rect x="105.48" y="405.38" width="886.94" height="5.31" fill="url(#g43)"/><rect x="104.95" y="400.10" width="888.00" height="5.31" fill="url(#g44)"/><rect x="104.45" y="394.82" width="888.99" height="5.31" fill="url(#g45)"/><rect x="103.99" y="389.53" width="889.92" height="5.31" fill="url(#g46)"/><rect x="103.55" y="384.25" width="890.80" height="5.31" fill="url(#g47)"/><rect x="103.14" y="378.97" width="891.62" height="5.31" fill="url(#g48)"/><rect x="102.75" y="373.68" width="892.40" height="5.31" fill="url(#g49)"/><rect x="102.39" y="368.40" width="893.13" height="5.31" fill="url(#g50)"/><rect x="102.04" y="363.12" width="893.82" height="5.31" fill="url(#g51)"/><rect x="101.72" y="357.83" width="894.47" height="5.31" fill="url(#g52)"/><rect x="101.41" y="352.55" width="895.08" height="5.31" fill="url(#g53)"/><rect x="101.12" y="347.27" width="895.66" height="5.31" fill="url(#g54)"/><rect x="100.85" y="341.98" width="896.21" height="5.31" fill="url(#g55)"/><rect x="100.59" y="336.70" width="896.72" height="5.31" fill="url(#g56)"/><rect x="100.35" y="331.42" width="897.21" height="5.31" fill="url(#g57)"/><rect x="100.12" y="326.13" width="897.67" height="5.31" fill="url(#g58)"/><rect x="99.90" y="320.85" width="898.10" height="5.31" fill="url(#g59)"/><rect x="99.69" y="315.57" width="898.51" height="5.31" fill="url(#g60)"/><rect x="99.50" y="310.28" width="898.90" height="5.31" fill="url(#g61)"/><rect x="99.32" y="305.00" width="899.27" height="5.31" fill="url(#g62)"/><rect x="99.14" y="299.72" width="899.61" height="5.31" fill="url(#g63)"/><rect x="98.98" y="294.43" width="899.94" height="5.31" fill="url(#g64)"/><rect x="98.83" y="289.15" width="900.24" height="5.31" fill="url(#g65)"/><rect x="98.68" y="283.87" width="900.53" height="5.31" fill="url(#g66)"/><rect x="98.55" y="278.58" width="900.81" height="5.31" fill="url(#g67)"/><rect x="98.42" y="273.30" width="901.06" height="5.31" fill="url(#g68)"/><rect x="98.30" y="268.02" width="901.30" height="5.31" fill="url(#g69)"/><rect x="98.19" y="262.73" width="901.53" height="5.31" fill="url(#g70)"/><rect x="98.08" y="257.45" width="901.74" height="5.31" fill="url(#g71)"/><rect x="97.98" y="252.17" width="901.94" height="5.31" fill="url(#g72)"/><rect x="97.89" y="246.88" width="902.12" height="5.31" fill="url(#g73)"/><rect x="97.80" y="241.60" width="902.29" height="5.31" fill="url(#g74)"/><rect x="97.72" y="236.32" width="902.45" height="5.31" fill="url(#g75)"/><rect x="97.65" y="231.03" width="902.60" height="5.31" fill="url(#g76)"/><rect x="97.58" y="225.75" width="902.74" height="5.31" fill="url(#g77)"/><rect x="97.52" y="220.47" width="902.86" height="5.31" fill="url(#g78)"/><rect x="97.46" y="215.18" width="902.97" height="5.31" fill="url(#g79)"/><rect x="97.41" y="209.90" width="903.08" height="5.31" fill="url(#g80)"/><rect x="97.37" y="204.62" width="903.17" height="5.31" fill="url(#g81)"/><rect x="97.32" y="199.33" width="903.25" height="5.31" fill="url(#g82)"/><rect x="97.29" y="194.05" width="903.32" height="5.31" fill="url(#g83)"/><rect x="97.26" y="188.77" width="903.39" height="5.31" fill="url(#g84)"/><rect x="97.23" y="183.48" width="903.44" height="5.31" fill="url(#g85)"/><rect x="97.21" y="178.20" width="903.48" height="5.31" fill="url(#g86)"/><rect x="97.19" y="172.92" width="903.51" height="5.31" fill="url(#g87)"/><rect x="97.18" y="167.63" width="903.54" height="5.31" fill="url(#g88)"/><rect x="97.17" y="162.35" width="903.55" height="5.31" fill="url(#g89)"/></g>
<g clip-path="url(#ca)" fill="none" stroke="#fff" stroke-width="2.96"><style>.dd{stroke-dasharray:18.95 4.74 2.96 4.74}</style><path d="M670.2 164.5 L670.2 169.8 L670.1 175.1 L670.1 180.4 L670.1 180.6 L670.0 185.7 L669.9 191.0 L669.8 196.2 L669.6 201.5 L669.5 206.6" class=""/><path d="M667.8 242.5 L667.7 243.8 L667.5 247.9 L667.4 249.1 L667.0 254.4 L666.8 257.1 L666.6 259.6 L666.2 264.9 L666.2 265.3 L665.7 270.2 L665.5 272.7 L665.2 275.5 L664.9 279.5 L664.7 280.8 L664.2 285.7 L664.2 286.1 L663.6 291.3 L663.6 291.5 L662.9 296.6 L662.9 297.0 L662.3 301.9 L662.3 302.0 L661.6 306.8 L661.5 307.2 L660.9 311.3 L660.8 312.5 L660.3 315.6 L660.0 317.8 L659.6 319.7 L659.1 323.0 L659.0 323.6 L658.3 327.3 L658.2 328.3 L657.7 330.8 L657.2 333.6 L657.0 334.2 L656.4 337.4 L656.1 338.9 L655.7 340.6 L655.1 343.6 L655.0 344.2 L654.4 346.5 L653.8 349.3 L653.7 349.5 L653.1 351.9 L652.5 354.6 L652.4 354.7 L651.8 357.1 L651.2 359.5 L651.0 360.0 L650.5 361.8 L649.9 364.1 L649.5 365.3 L649.2 366.3 L648.6 368.5 L647.9 370.6 L647.9 370.6 L647.3 372.6 L646.6 374.5 L646.2 375.9 L646.0 376.5 L645.3 378.3 L644.7 380.1 L644.3 381.2 L644.0 381.9 L643.4 383.6 L642.7 385.3 L642.3 386.4 L642.1 386.9 L641.4 388.5 L640.8 390.0 L640.1 391.5 L640.0 391.7 L639.5 393.0 L638.8 394.4 L638.2 395.8 L637.6 397.0 L637.5 397.2 L636.9 398.6 L636.2 399.9 L635.6 401.2 L635.0 402.3 L634.9 402.4 L634.3 403.6 L633.6 404.8 L632.9 406.0 L632.3 407.2 L632.1 407.6 L631.6 408.3 L631.0 409.4 L630.3 410.5 L629.7 411.5 L629.0 412.6 L628.9 412.9 L628.4 413.6 L627.7 414.6 L627.1 415.5 L626.4 416.5 L625.8 417.4 L625.3 418.1 L625.1 418.4 L624.5 419.2 L623.8 420.1 L623.2 421.0 L622.5 421.8 L621.9 422.7 L621.3 423.4 L621.2 423.5 L620.6 424.3 L619.9 425.1 L619.3 425.8 L618.6 426.6 L618.0 427.3 L617.3 428.1 L616.8 428.7 L616.7 428.8 L616.0 429.5 L615.4 430.2 L614.7 430.9 L614.1 431.5 L613.4 432.2 L612.8 432.8 L612.1 433.5 L611.6 434.0 L611.5 434.1 L610.8 434.7 L610.2 435.3 L609.5 435.9 L608.9 436.4 L608.2 437.0 L607.6 437.6 L606.9 438.1 L606.3 438.7 L605.6 439.2 L605.5 439.3 L604.9 439.7 L604.3 440.2 L603.6 440.7 L603.0 441.2 L602.3 441.7 L601.7 442.1 L601.0 442.6 L600.4 443.0 L599.7 443.5 L599.1 443.9 L598.4 444.4 L598.2 444.6 L597.8 444.8 L597.1 445.2 L596.5 445.6 L595.8 446.0 L595.2 446.4 L594.5 446.8 L593.9 447.1 L593.2 447.5 L592.6 447.9 L591.9 448.2 L591.3 448.6 L590.6 448.9 L590.0 449.3 L589.3 449.6 L588.8 449.8 L588.7 449.9 L588.0 450.2 L587.4 450.5 L586.7 450.8 L586.1 451.1 L585.4 451.4 L584.8 451.7 L584.1 452.0 L583.5 452.2 L582.8 452.5 L582.2 452.8 L581.5 453.0 L580.9 453.3 L580.2 453.5 L579.6 453.7 L578.9 454.0 L578.3 454.2 L577.6 454.4 L576.9 454.6 L576.3 454.8 L575.6 455.0 L575.4 455.1 L575.0 455.2 L574.3 455.4 L573.7 455.6 L573.0 455.8 L572.4 456.0 L571.7 456.1 L571.1 456.3 L570.4 456.4 L569.8 456.6 L569.1 456.8 L568.5 456.9 L567.8 457.0 L567.2 457.2 L566.5 457.3 L565.9 457.4 L565.2 457.5 L564.6 457.7 L563.9 457.8 L563.3 457.9 L562.6 458.0 L562.0 458.1 L561.3 458.2 L560.7 458.2 L560.0 458.3 L559.4 458.4 L558.7 458.5 L558.1 458.5 L557.4 458.6 L556.8 458.7 L556.1 458.7 L555.5 458.8 L554.8 458.8 L554.2 458.8 L553.5 458.9 L552.9 458.9 L552.2 458.9 L551.6 459.0 L550.9 459.0 L550.3 459.0 L549.6 459.0 L549.0 459.0 L548.3 459.0 L547.6 459.0 L547.0 459.0 L546.3 459.0 L545.7 458.9 L545.0 458.9 L544.4 458.9 L543.7 458.8 L543.1 458.8 L542.4 458.8 L541.8 458.7 L541.1 458.7 L540.5 458.6 L539.8 458.5 L539.2 458.5 L538.5 458.4 L537.9 458.3 L537.2 458.2 L536.6 458.2 L535.9 458.1 L535.3 458.0 L534.6 457.9 L534.0 457.8 L533.3 457.7 L532.7 457.5 L532.0 457.4 L531.4 457.3 L530.7 457.2 L530.1 457.0 L529.4 456.9 L528.8 456.8 L528.1 456.6 L527.5 456.4 L526.8 456.3 L526.2 456.1 L525.5 456.0 L524.9 455.8 L524.2 455.6 L523.6 455.4 L522.9 455.2 L522.5 455.1 L522.3 455.0 L521.6 454.8 L521.0 454.6 L520.3 454.4 L519.6 454.2 L519.0 454.0 L518.3 453.7 L517.7 453.5 L517.0 453.3 L516.4 453.0 L515.7 452.8 L515.1 452.5 L514.4 452.2 L513.8 452.0 L513.1 451.7 L512.5 451.4 L511.8 451.1 L511.2 450.8 L510.5 450.5 L509.9 450.2 L509.2 449.9 L509.1 449.8 L508.6 449.6 L507.9 449.3 L507.3 448.9 L506.6 448.6 L506.0 448.2 L505.3 447.9 L504.7 447.5 L504.0 447.1 L503.4 446.8 L502.7 446.4 L502.1 446.0 L501.4 445.6 L500.8 445.2 L500.1 444.8 L499.7 444.6 L499.5 444.4 L498.8 443.9 L498.2 443.5 L497.5 443.0 L496.9 442.6 L496.2 442.1 L495.6 441.7 L494.9 441.2 L494.3 440.7 L493.6 440.2 L493.0 439.7 L492.4 439.3 L492.3 439.2 L491.6 438.7 L491.0 438.1 L490.3 437.6 L489.7 437.0 L489.0 436.4 L488.4 435.9 L487.7 435.3 L487.1 434.7 L486.4 434.1 L486.3 434.0 L485.8 433.5 L485.1 432.8 L484.5 432.2 L483.8 431.5 L483.2 430.9 L482.5 430.2 L481.9 429.5 L481.2 428.8 L481.1 428.7 L480.6 428.1 L479.9 427.3 L479.3 426.6 L478.6 425.8 L478.0 425.1 L477.3 424.3 L476.7 423.5 L476.6 423.4 L476.0 422.7 L475.4 421.8 L474.7 421.0 L474.1 420.1 L473.4 419.2 L472.8 418.4 L472.6 418.1 L472.1 417.4 L471.5 416.5 L470.8 415.5 L470.2 414.6 L469.5 413.6 L469.0 412.9 L468.9 412.6 L468.2 411.5 L467.6 410.5 L466.9 409.4 L466.3 408.3 L465.8 407.6 L465.6 407.2 L465.0 406.0 L464.3 404.8 L463.6 403.6 L463.0 402.4 L462.9 402.3 L462.3 401.2 L461.7 399.9 L461.0 398.6 L460.4 397.2 L460.3 397.0 L459.7 395.8 L459.1 394.4 L458.4 393.0 L457.9 391.7 L457.8 391.5 L457.1 390.0 L456.5 388.5 L455.8 386.9 L455.6 386.4 L455.2 385.3 L454.5 383.6 L453.9 381.9 L453.6 381.2 L453.2 380.1 L452.6 378.3 L451.9 376.5 L451.7 375.9 L451.3 374.5 L450.6 372.6 L450.0 370.6 L450.0 370.6 L449.3 368.5 L448.7 366.3 L448.4 365.3 L448.0 364.1 L447.4 361.8 L446.9 360.0 L446.7 359.5 L446.1 357.1 L445.5 354.7 L445.4 354.6 L444.8 351.9 L444.2 349.5 L444.1 349.3 L443.5 346.5 L442.9 344.2 L442.8 343.6 L442.2 340.6 L441.8 338.9 L441.5 337.4 L440.9 334.2 L440.7 333.6 L440.2 330.8 L439.7 328.3 L439.6 327.3 L438.9 323.6 L438.8 323.0 L438.3 319.7 L437.9 317.8 L437.6 315.6 L437.1 312.5 L437.0 311.3 L436.4 307.2 L436.3 306.8 L435.6 302.0 L435.6 301.9 L435.0 297.0 L435.0 296.6 L434.3 291.5 L434.3 291.3 L433.7 286.1 L433.7 285.7 L433.2 280.8 L433.0 279.5 L432.7 275.5 L432.4 272.7 L432.2 270.2 L431.7 265.3 L431.7 264.9 L431.3 259.6 L431.1 257.1 L430.9 254.4 L430.5 249.1 L430.4 247.9 L430.2 243.8 L429.9 238.5 L429.8 237.3 L429.6 233.2 L429.3 227.9 L429.1 224.6 L429.0 222.7 L428.8 217.4 L428.6 212.1 L428.5 208.1 L428.4 206.8 L428.3 201.5 L428.1 196.2 L428.0 191.0 L427.9 185.7 L427.8 180.6 L427.8 180.4 L427.8 175.1 L427.7 169.8 L427.7 164.5" class=""/><path d="M772.2 164.5 L772.2 169.8 L772.2 175.1 L772.2 180.4 L772.1 185.7 L772.1 191.0 L772.0 196.2 L771.9 201.5 L771.8 206.8 L771.7 212.1 L771.6 216.9 L771.6 217.4 L771.5 222.7 L771.4 227.9 L771.2 233.2 L771.1 238.5 L771.0 241.4 L770.9 243.8 L770.7 249.1 L770.5 254.4 L770.3 259.4 L770.3 259.6 L770.1 264.9 L769.9 270.2 L769.7 273.9 L769.6 275.5 L769.3 280.8 L769.1 286.1 L769.0 286.3 L768.7 291.3 L768.4 296.6 L768.4 297.0 L768.1 301.9 L767.7 306.7 L767.7 307.2 L767.3 312.5 L767.1 315.3 L766.9 317.8 L766.5 323.0 L766.4 323.3 L766.0 328.3 L765.8 330.5 L765.5 333.6 L765.1 337.2 L765.0 338.9 L764.5 343.5 L764.4 344.2 L763.8 349.4 L763.8 349.5 L763.2 354.7 L763.2 354.9 L762.5 360.0 L762.5 360.0 L761.9 364.9 L761.8 365.3 L761.2 369.5 L761.1 370.6 L760.6 373.8 L760.3 375.9 L759.9 378.0 L759.4 381.2 L759.3 382.0 L758.6 385.8 L758.5 386.4 L758.0 389.4 L757.5 391.7 L757.3 392.8 L756.7 396.1 L756.5 397.0 L756.0 399.3 L755.4 402.3 L755.4 402.4 L754.7 405.3 L754.2 407.6 L754.1 408.2 L753.4 410.9 L752.9 412.9 L752.8 413.6 L752.1 416.1 L751.6 418.1 L751.5 418.6 L750.8 421.0 L750.2 423.3 L750.1 423.4 L749.5 425.5 L748.9 427.7 L748.6 428.7 L748.2 429.8 L747.6 431.9 L746.9 433.9 L746.9 434.0 L746.2 435.8 L745.6 437.7 L745.0 439.3 L744.9 439.5 L744.3 441.3 L743.6 443.0 L743.1 444.6 L743.0 444.7 L742.3 446.4 L741.7 448.0 L741.0 449.6 L740.9 449.8 L740.4 451.1 L739.7 452.6 L739.1 454.1 L738.6 455.1 L738.4 455.5 L737.8 456.9 L737.1 458.3 L736.5 459.6 L736.1 460.4 L735.8 460.9 L735.2 462.2 L734.5 463.4 L733.9 464.7 L733.4 465.7 L733.2 465.9 L732.6 467.1 L731.9 468.2 L731.3 469.4 L730.6 470.5 L730.3 471.0 L730.0 471.6 L729.3 472.6 L728.7 473.7 L728.0 474.7 L727.4 475.8 L727.1 476.3 L726.7 476.8 L726.1 477.7 L725.4 478.7 L724.8 479.6 L724.1 480.6 L723.5 481.5 L723.4 481.5 L722.8 482.4 L722.2 483.2 L721.5 484.1 L720.9 485.0 L720.2 485.8 L719.6 486.7 L719.4 486.8 L718.9 487.5 L718.3 488.2 L717.6 489.0 L716.9 489.8 L716.3 490.6 L715.6 491.3 L715.0 492.1 L715.0 492.1 L714.3 492.8 L713.7 493.5 L713.0 494.2 L712.4 494.9 L711.7 495.6 L711.1 496.3 L710.4 497.0 L710.0 497.4 L709.8 497.6 L709.1 498.3 L708.5 498.9 L707.8 499.5 L707.2 500.1 L706.5 500.8 L705.9 501.4 L705.2 502.0 L704.6 502.6 L704.5 502.7 L703.9 503.2 L703.3 503.7 L702.6 504.3 L702.0 504.8 L701.3 505.4 L700.7 505.9 L700.0 506.5 L699.4 507.0 L698.7 507.6 L698.2 508.0 L698.1 508.1 L697.4 508.6 L696.8 509.1 L696.1 509.6 L695.5 510.1 L694.8 510.5 L694.2 511.0 L693.5 511.5 L692.9 512.0 L692.2 512.5 L691.6 512.9 L691.1 513.2 L690.9 513.4 L690.3 513.8 L689.6 514.2 L688.9 514.7 L688.3 515.1 L687.6 515.5 L687.0 515.9 L686.3 516.4 L685.7 516.8 L685.0 517.2 L684.4 517.6 L683.7 518.0 L683.1 518.4 L682.9 518.5 L682.4 518.8 L681.8 519.2 L681.1 519.6 L680.5 519.9 L679.8 520.3 L679.2 520.7 L678.5 521.0 L677.9 521.4 L677.2 521.7 L676.6 522.1 L675.9 522.4 L675.3 522.8 L674.6 523.1 L674.0 523.5 L673.4 523.8 L673.3 523.8 L672.7 524.1 L672.0 524.5 L671.4 524.8 L670.7 525.1 L670.1 525.4 L669.4 525.7 L668.8 526.0 L668.1 526.3 L667.5 526.6 L666.8 526.9 L666.2 527.2 L665.5 527.5 L664.9 527.8 L664.2 528.1 L663.6 528.4 L662.9 528.7 L662.3 529.0 L662.0 529.1 L661.6 529.3 L660.9 529.5 L660.3 529.8 L659.6 530.0 L659.0 530.3 L658.3 530.6 L657.7 530.8 L657.0 531.1 L656.4 531.3 L655.7 531.6 L655.1 531.8 L654.4 532.1 L653.8 532.3 L653.1 532.6 L652.5 532.8 L651.8 533.0 L651.2 533.3 L650.5 533.5 L649.9 533.7 L649.2 534.0 L648.6 534.2 L648.1 534.4 L647.9 534.4 L647.3 534.6 L646.6 534.9 L646.0 535.1 L645.3 535.3 L644.7 535.5 L644.0 535.7 L643.4 535.9 L642.7 536.1 L642.1 536.3 L641.4 536.5 L640.8 536.7 L640.1 536.9 L639.5 537.1 L638.8 537.3 L638.2 537.5 L637.5 537.6 L636.9 537.8 L636.2 538.0 L635.6 538.2 L634.9 538.4 L634.3 538.6 L633.6 538.7 L632.9 538.9 L632.3 539.1 L631.6 539.3 L631.0 539.4 L630.3 539.6 L630.2 539.7 L629.7 539.8 L629.0 539.9 L628.4 540.1 L627.7 540.2 L627.1 540.4 L626.4 540.6 L625.8 540.7 L625.1 540.9 L624.5 541.0 L623.8 541.2 L623.2 541.3 L622.5 541.4 L621.9 541.6 L621.2 541.7 L620.6 541.9 L619.9 542.0 L619.3 542.1 L618.6 542.3 L618.0 542.4 L617.3 542.5 L616.7 542.7 L616.0 542.8 L615.4 542.9 L614.7 543.1 L614.1 543.2 L613.4 543.3 L612.8 543.4 L612.1 543.6 L611.5 543.7 L610.8 543.8 L610.2 543.9 L609.5 544.0 L608.9 544.1 L608.2 544.3 L607.6 544.4 L606.9 544.5 L606.3 544.6 L605.6 544.7 L604.9 544.8 L604.3 544.9 L604.2 544.9 L603.6 545.0 L603.0 545.1 L602.3 545.2 L601.7 545.3 L601.0 545.4 L600.4 545.5 L599.7 545.6 L599.1 545.7 L598.4 545.8 L597.8 545.9 L597.1 545.9 L596.5 546.0 L595.8 546.1 L595.2 546.2 L594.5 546.3 L593.9 546.4 L593.2 546.4 L592.6 546.5 L591.9 546.6 L591.3 546.7 L590.6 546.7 L590.0 546.8 L589.3 546.9 L588.7 547.0 L588.0 547.0 L587.4 547.1 L586.7 547.2 L586.1 547.2 L585.4 547.3 L584.8 547.4 L584.1 547.4 L583.5 547.5 L582.8 547.5 L582.2 547.6 L581.5 547.7 L580.9 547.7 L580.2 547.8 L579.6 547.8 L578.9 547.9 L578.3 547.9 L577.6 548.0 L576.9 548.0 L576.3 548.1 L575.6 548.1 L575.0 548.2 L574.3 548.2 L573.7 548.3 L573.0 548.3 L572.4 548.4 L571.7 548.4 L571.1 548.4 L570.4 548.5 L569.8 548.5 L569.1 548.5 L568.5 548.6 L567.8 548.6 L567.2 548.6 L566.5 548.7 L565.9 548.7 L565.2 548.7 L564.6 548.8 L563.9 548.8 L563.3 548.8 L562.6 548.8 L562.0 548.9 L561.3 548.9 L560.7 548.9 L560.0 548.9 L559.4 548.9 L558.7 549.0 L558.1 549.0 L557.4 549.0 L556.8 549.0 L556.1 549.0 L555.5 549.0 L554.8 549.0 L554.2 549.1 L553.5 549.1 L552.9 549.1 L552.7 549.1" class="dd"/><path d="M512.7 547.3 L512.5 547.3 L511.8 547.2 L511.2 547.2 L510.5 547.1 L509.9 547.0 L509.2 547.0 L508.6 546.9 L507.9 546.8 L507.3 546.7 L506.6 546.7 L506.0 546.6 L505.3 546.5 L504.7 546.4 L504.0 546.4 L503.4 546.3 L502.7 546.2 L502.1 546.1 L501.4 546.0 L500.8 545.9 L500.1 545.9 L499.5 545.8 L498.8 545.7 L498.2 545.6 L497.5 545.5 L496.9 545.4 L496.2 545.3 L495.6 545.2 L494.9 545.1 L494.3 545.0 L493.7 544.9 L493.6 544.9 L493.0 544.8 L492.3 544.7 L491.6 544.6 L491.0 544.5 L490.3 544.4 L489.7 544.3 L489.0 544.1 L488.4 544.0 L487.7 543.9 L487.1 543.8 L486.4 543.7 L485.8 543.6 L485.1 543.4 L484.5 543.3 L483.8 543.2 L483.2 543.1 L482.5 542.9 L481.9 542.8 L481.2 542.7 L480.6 542.5 L479.9 542.4 L479.3 542.3 L478.6 542.1 L478.0 542.0 L477.3 541.9 L476.7 541.7 L476.0 541.6 L475.4 541.4 L474.7 541.3 L474.1 541.2 L473.4 541.0 L472.8 540.9 L472.1 540.7 L471.5 540.6 L470.8 540.4 L470.2 540.2 L469.5 540.1 L468.9 539.9 L468.2 539.8 L467.7 539.7 L467.6 539.6 L466.9 539.4 L466.3 539.3 L465.6 539.1 L465.0 538.9 L464.3 538.7 L463.6 538.6 L463.0 538.4 L462.3 538.2 L461.7 538.0 L461.0 537.8 L460.4 537.6 L459.7 537.5 L459.1 537.3 L458.4 537.1 L457.8 536.9 L457.1 536.7 L456.5 536.5 L455.8 536.3 L455.2 536.1 L454.5 535.9 L453.9 535.7 L453.2 535.5 L452.6 535.3 L451.9 535.1 L451.3 534.9 L450.6 534.6 L450.0 534.4 L449.8 534.4 L449.3 534.2 L448.7 534.0 L448.0 533.7 L447.4 533.5 L446.7 533.3 L446.1 533.0 L445.4 532.8 L444.8 532.6 L444.1 532.3 L443.5 532.1 L442.8 531.8 L442.2 531.6 L441.5 531.3 L440.9 531.1 L440.2 530.8 L439.6 530.6 L438.9 530.3 L438.3 530.0 L437.6 529.8 L437.0 529.5 L436.3 529.3 L435.9 529.1 L435.6 529.0 L435.0 528.7 L434.3 528.4 L433.7 528.1 L433.0 527.8 L432.4 527.5 L431.7 527.2 L431.1 526.9 L430.4 526.6 L429.8 526.3 L429.1 526.0 L428.5 525.7 L427.8 525.4 L427.2 525.1 L426.5 524.8 L425.9 524.5 L425.2 524.1 L424.6 523.8 L424.5 523.8 L423.9 523.5 L423.3 523.1 L422.6 522.8 L422.0 522.4 L421.3 522.1 L420.7 521.7 L420.0 521.4 L419.4 521.0 L418.7 520.7 L418.1 520.3 L417.4 519.9 L416.8 519.6 L416.1 519.2 L415.5 518.8 L415.0 518.5 L414.8 518.4 L414.2 518.0 L413.5 517.6 L412.9 517.2 L412.2 516.8 L411.6 516.4 L410.9 515.9 L410.3 515.5 L409.6 515.1 L409.0 514.7 L408.3 514.2 L407.6 513.8 L407.0 513.4 L406.8 513.2 L406.3 512.9 L405.7 512.5 L405.0 512.0 L404.4 511.5 L403.7 511.0 L403.1 510.5 L402.4 510.1 L401.8 509.6 L401.1 509.1 L400.5 508.6 L399.8 508.1 L399.7 508.0 L399.2 507.6 L398.5 507.0 L397.9 506.5 L397.2 505.9 L396.6 505.4 L395.9 504.8 L395.3 504.3 L394.6 503.7 L394.0 503.2 L393.4 502.7 L393.3 502.6 L392.7 502.0 L392.0 501.4 L391.4 500.8 L390.7 500.1 L390.1 499.5 L389.4 498.9 L388.8 498.3 L388.1 497.6 L387.9 497.4 L387.5 497.0 L386.8 496.3 L386.2 495.6 L385.5 494.9 L384.9 494.2 L384.2 493.5 L383.6 492.8 L382.9 492.1 L382.9 492.1 L382.3 491.3 L381.6 490.6 L381.0 489.8 L380.3 489.0 L379.6 488.2 L379.0 487.5 L378.5 486.8 L378.3 486.7 L377.7 485.8 L377.0 485.0 L376.4 484.1 L375.7 483.2 L375.1 482.4 L374.5 481.5 L374.4 481.5 L373.8 480.6 L373.1 479.6 L372.5 478.7 L371.8 477.7 L371.2 476.8 L370.8 476.3 L370.5 475.8 L369.9 474.7 L369.2 473.7 L368.6 472.6 L367.9 471.6 L367.6 471.0 L367.3 470.5 L366.6 469.4 L366.0 468.2 L365.3 467.1 L364.7 465.9 L364.5 465.7 L364.0 464.7 L363.4 463.4 L362.7 462.2 L362.1 460.9 L361.8 460.4 L361.4 459.6 L360.8 458.3 L360.1 456.9 L359.5 455.5 L359.3 455.1 L358.8 454.1 L358.2 452.6 L357.5 451.1 L357.0 449.8 L356.9 449.6 L356.2 448.0 L355.6 446.4 L354.9 444.7 L354.8 444.6 L354.3 443.0 L353.6 441.3 L353.0 439.5 L352.9 439.3 L352.3 437.7 L351.7 435.8 L351.0 434.0 L351.0 433.9 L350.3 431.9 L349.7 429.8 L349.3 428.7 L349.0 427.7 L348.4 425.5 L347.8 423.4 L347.7 423.3 L347.1 421.0 L346.4 418.6 L346.3 418.1 L345.8 416.1 L345.1 413.6 L345.0 412.9 L344.5 410.9 L343.8 408.2 L343.7 407.6 L343.2 405.3 L342.5 402.4 L342.5 402.3 L341.9 399.3 L341.4 397.0 L341.2 396.1 L340.6 392.8 L340.4 391.7 L339.9 389.4 L339.4 386.4 L339.3 385.8 L338.6 382.0 L338.5 381.2 L338.0 378.0 L337.6 375.9 L337.3 373.8 L336.8 370.6 L336.7 369.5 L336.1 365.3 L336.0 364.9 L335.4 360.0 L335.4 360.0 L334.7 354.9 L334.7 354.7 L334.1 349.5 L334.1 349.4 L333.5 344.2 L333.4 343.5 L332.9 338.9 L332.8 337.2 L332.4 333.6 L332.1 330.5 L331.9 328.3 L331.5 323.3 L331.4 323.0 L331.0 317.8 L330.8 315.3 L330.6 312.5 L330.2 307.2 L330.2 306.7 L329.8 301.9 L329.5 297.0 L329.5 296.6 L329.2 291.3 L328.9 286.3 L328.8 286.1 L328.6 280.8 L328.3 275.5 L328.2 273.9 L328.0 270.2 L327.8 264.9 L327.6 259.6 L327.6 259.4 L327.4 254.4 L327.2 249.1 L327.0 243.8 L326.9 241.4 L326.8 238.5 L326.7 233.2 L326.5 227.9 L326.4 222.7 L326.3 217.4 L326.3 216.9 L326.2 212.1 L326.1 206.8 L326.0 201.5 L325.9 196.2 L325.8 191.0 L325.8 185.7 L325.7 180.4 L325.7 175.1 L325.7 169.8 L325.7 164.5" class="dd"/><path d="M871.7 164.5 L871.7 169.8 L871.7 175.1 L871.6 180.4 L871.6 185.7 L871.6 191.0 L871.5 196.2 L871.5 201.5 L871.4 206.8 L871.3 212.1 L871.3 217.4 L871.3 217.7 L871.2 222.7 L871.1 227.9 L871.0 233.2 L870.9 238.5 L870.8 243.8 L870.7 249.1 L870.6 250.8 L870.5 254.4 L870.4 259.6 L870.2 264.9 L870.1 270.2 L870.0 273.4 L869.9 275.5 L869.7 280.8 L869.5 286.1 L869.3 291.2 L869.3 291.3 L869.1 296.6 L868.9 301.9 L868.7 305.9 L868.6 307.2 L868.3 312.5 L868.1 317.8 L868.0 318.6 L867.8 323.0 L867.5 328.3 L867.4 329.7 L867.1 333.6 L866.8 338.9 L866.7 339.7 L866.4 344.2 L866.1 348.6 L866.0 349.5 L865.6 354.7 L865.4 356.8 L865.1 360.0 L864.8 364.2 L864.7 365.3 L864.2 370.6 L864.1 371.1 L863.6 375.9 L863.5 377.5 L863.1 381.2 L862.8 383.5 L862.5 386.4 L862.2 389.0 L861.8 391.7 L861.5 394.3 L861.1 397.0 L860.9 399.2 L860.4 402.3 L860.2 403.8 L859.7 407.6 L859.6 408.2 L858.9 412.4 L858.8 412.9 L858.2 416.3 L857.9 418.1 L857.6 420.1 L857.0 423.4 L856.9 423.7 L856.3 427.1 L856.0 428.7 L855.6 430.4 L855.0 433.6 L854.9 434.0 L854.3 436.6 L853.8 439.3 L853.7 439.5 L853.0 442.3 L852.5 444.6 L852.4 445.0 L851.7 447.6 L851.2 449.8 L851.1 450.1 L850.4 452.5 L849.8 454.9 L849.7 455.1 L849.1 457.1 L848.5 459.3 L848.2 460.4 L847.8 461.4 L847.2 463.5 L846.5 465.5 L846.5 465.7 L845.9 467.4 L845.2 469.3 L844.6 471.0 L844.6 471.2 L843.9 472.9 L843.3 474.6 L842.7 476.3 L842.6 476.3 L842.0 477.9 L841.3 479.5 L840.7 481.1 L840.5 481.5 L840.0 482.6 L839.4 484.1 L838.7 485.6 L838.2 486.8 L838.1 487.0 L837.4 488.4 L836.8 489.7 L836.1 491.1 L835.6 492.1 L835.5 492.4 L834.8 493.6 L834.2 494.8 L833.5 496.1 L832.9 497.3 L832.8 497.4 L832.2 498.4 L831.6 499.5 L830.9 500.7 L830.2 501.8 L829.7 502.7 L829.6 502.9 L828.9 503.9 L828.3 504.9 L827.6 505.9 L827.0 507.0 L826.4 508.0 L826.3 508.0 L825.7 508.9 L825.0 509.8 L824.4 510.8 L823.7 511.7 L823.1 512.6 L822.6 513.2 L822.4 513.5 L821.8 514.3 L821.1 515.2 L820.5 516.0 L819.8 516.9 L819.2 517.7 L818.5 518.5 L818.5 518.5 L817.9 519.3 L817.2 520.0 L816.6 520.8 L815.9 521.5 L815.3 522.3 L814.6 523.1 L814.0 523.8 L814.0 523.8 L813.3 524.5 L812.7 525.2 L812.0 525.9 L811.4 526.5 L810.7 527.2 L810.1 527.9 L809.4 528.6 L808.9 529.1 L808.8 529.2 L808.1 529.8 L807.5 530.4 L806.8 531.1 L806.2 531.7 L805.5 532.3 L804.9 532.9 L804.2 533.5 L803.6 534.1 L803.2 534.4 L802.9 534.7 L802.2 535.2 L801.6 535.7 L800.9 536.3 L800.3 536.8 L799.6 537.4 L799.0 537.9 L798.3 538.5 L797.7 539.0 L797.0 539.5 L796.9 539.7 L796.4 540.0 L795.7 540.5 L795.1 541.0 L794.4 541.5 L793.8 542.0 L793.1 542.4 L792.5 542.9 L791.8 543.4 L791.2 543.9 L790.5 544.4 L789.9 544.8 L789.7 544.9 L789.2 545.3 L788.6 545.7 L787.9 546.1 L787.3 546.5 L786.6 547.0 L786.0 547.4 L785.3 547.8 L784.7 548.2 L784.0 548.7 L783.4 549.1 L782.7 549.5 L782.1 549.9 L781.6 550.2 L781.4 550.3 L780.8 550.7 L780.1 551.1 L779.5 551.4 L778.8 551.8 L778.2 552.2 L777.5 552.6 L776.9 552.9 L776.2 553.3 L775.6 553.7 L774.9 554.0 L774.2 554.4 L773.6 554.8 L772.9 555.2 L772.3 555.5 L772.3 555.5 L771.6 555.8 L771.0 556.2 L770.3 556.5 L769.7 556.8 L769.0 557.1 L768.4 557.5 L767.7 557.8 L767.1 558.1 L766.4 558.4 L765.8 558.8 L765.1 559.1 L764.5 559.4 L763.8 559.7 L763.2 560.0 L762.5 560.3 L761.9 560.7 L761.6 560.8 L761.2 561.0 L760.6 561.2 L759.9 561.5 L759.3 561.8 L758.6 562.1 L758.0 562.4 L757.3 562.6 L756.7 562.9 L756.0 563.2 L755.4 563.5 L754.7 563.7 L754.1 564.0 L753.4 564.3 L752.8 564.6 L752.1 564.8 L751.5 565.1 L750.8 565.4 L750.2 565.7 L749.5 565.9 L749.2 566.1 L748.9 566.2 L748.2 566.4 L747.6 566.7 L746.9 566.9 L746.2 567.1 L745.6 567.4 L744.9 567.6 L744.3 567.9 L743.6 568.1 L743.0 568.3 L742.3 568.6 L741.7 568.8 L741.0 569.0 L740.4 569.3 L739.7 569.5 L739.1 569.7 L738.4 570.0 L737.8 570.2 L737.1 570.4 L736.5 570.6 L735.8 570.9 L735.2 571.1 L734.5 571.3 L734.5 571.4 L733.9 571.5 L733.2 571.7 L732.6 571.9 L731.9 572.1 L731.3 572.3 L730.6 572.5 L730.0 572.7 L729.3 572.9 L728.7 573.1 L728.0 573.3 L727.4 573.5 L726.7 573.7 L726.1 573.9 L725.4 574.1 L724.8 574.3 L724.1 574.5 L723.5 574.7 L722.8 574.9 L722.2 575.1 L721.5 575.3 L720.9 575.4 L720.2 575.6 L719.6 575.8 L718.9 576.0 L718.3 576.2 L717.6 576.4 L716.9 576.6 L716.7 576.6 L716.3 576.7 L715.6 576.9 L715.0 577.1 L714.3 577.2 L713.7 577.4 L713.0 577.6 L712.4 577.7 L711.7 577.9 L711.1 578.0 L710.4 578.2 L709.8 578.4 L709.1 578.5 L708.5 578.7 L707.8 578.8 L707.2 579.0 L706.5 579.1 L705.9 579.3 L705.2 579.5 L704.6 579.6 L703.9 579.8 L703.3 579.9 L702.6 580.1 L702.0 580.2 L701.3 580.4 L700.7 580.5 L700.0 580.7 L699.4 580.8 L698.7 581.0 L698.1 581.1 L697.4 581.3 L696.8 581.4 L696.1 581.6 L695.5 581.7 L694.8 581.9 L694.6 581.9 L694.2 582.0 L693.5 582.1 L692.9 582.3 L692.2 582.4 L691.6 582.5 L690.9 582.6 L690.3 582.8 L689.6 582.9 L688.9 583.0 L688.3 583.1 L687.6 583.3 L687.0 583.4 L686.3 583.5 L685.7 583.6 L685.0 583.8 L684.4 583.9 L683.7 584.0 L683.1 584.1 L682.4 584.2 L681.8 584.4 L681.1 584.5 L680.5 584.6 L679.8 584.7 L679.2 584.8 L678.5 584.9 L677.9 585.1 L677.2 585.2 L676.6 585.3 L675.9 585.4 L675.3 585.5 L674.6 585.6 L674.0 585.8 L673.3 585.9 L672.7 586.0 L672.0 586.1 L671.4 586.2 L670.7 586.3 L670.1 586.4 L669.4 586.5 L668.8 586.6 L668.1 586.7 L667.5 586.9 L666.8 587.0 L666.2 587.1 L665.5 587.2 L665.3 587.2 L664.9 587.3 L664.2 587.4 L663.6 587.5 L662.9 587.5 L662.3 587.6 L661.6 587.7 L660.9 587.8 L660.3 587.9 L659.6 588.0 L659.0 588.1 L658.3 588.2 L657.7 588.3 L657.0 588.3 L656.4 588.4 L655.7 588.5 L655.1 588.6 L654.4 588.7 L653.8 588.8 L653.1 588.9 L652.5 588.9 L651.8 589.0 L651.2 589.1 L650.5 589.2 L649.9 589.3 L649.2 589.3 L648.6 589.4 L647.9 589.5 L647.3 589.6 L646.6 589.7 L646.0 589.7 L645.3 589.8 L644.7 589.9 L644.0 590.0 L643.4 590.1 L642.7 590.1 L642.1 590.2 L641.4 590.3 L640.8 590.4 L640.1 590.4 L639.5 590.5 L638.8 590.6 L638.2 590.7 L637.5 590.7 L636.9 590.8 L636.2 590.9 L635.6 590.9 L634.9 591.0 L634.3 591.1 L633.6 591.2 L632.9 591.2 L632.3 591.3 L631.6 591.4 L631.0 591.4 L630.3 591.5 L629.7 591.6 L629.0 591.6 L628.4 591.7 L627.7 591.8 L627.1 591.8 L626.4 591.9 L625.8 592.0 L625.1 592.0 L624.5 592.1 L623.8 592.1 L623.2 592.2 L622.5 592.3 L621.9 592.3 L621.2 592.4 L620.6 592.4 L620.1 592.5 L619.9 592.5 L619.3 592.6 L618.6 592.6 L618.0 592.7 L617.3 592.7 L616.7 592.7 L616.0 592.8 L615.4 592.8 L614.7 592.9 L614.1 592.9 L613.4 593.0 L612.8 593.0 L612.1 593.1 L611.5 593.1 L610.8 593.2 L610.2 593.2 L609.5 593.3 L608.9 593.3 L608.2 593.3 L607.6 593.4 L606.9 593.4 L606.3 593.5 L605.6 593.5 L604.9 593.5 L604.3 593.6 L603.6 593.6 L603.0 593.7 L602.3 593.7 L601.7 593.7 L601.0 593.8 L600.4 593.8 L599.7 593.9 L599.1 593.9 L598.4 593.9 L597.8 594.0 L597.1 594.0 L596.5 594.0 L595.8 594.1 L595.2 594.1 L594.5 594.1 L593.9 594.2 L593.2 594.2 L592.6 594.2 L591.9 594.3 L591.3 594.3 L590.6 594.3 L590.0 594.4 L589.3 594.4 L588.7 594.4 L588.0 594.4 L587.4 594.5 L586.7 594.5 L586.1 594.5 L585.4 594.6 L584.8 594.6 L584.1 594.6 L583.5 594.6 L582.8 594.7 L582.2 594.7 L581.5 594.7 L580.9 594.7 L580.2 594.7 L579.6 594.8 L578.9 594.8 L578.3 594.8 L577.6 594.8 L576.9 594.9 L576.3 594.9 L575.6 594.9 L575.0 594.9 L574.3 594.9 L573.7 595.0 L573.0 595.0 L572.4 595.0 L571.7 595.0 L571.1 595.0 L570.4 595.0 L569.8 595.1 L569.1 595.1 L568.5 595.1 L567.8 595.1 L567.2 595.1 L566.5 595.1 L565.9 595.1 L565.2 595.1 L564.6 595.2 L563.9 595.2 L563.3 595.2 L562.6 595.2 L562.0 595.2 L561.3 595.2 L560.7 595.2 L560.0 595.2 L559.4 595.2 L558.7 595.2 L558.1 595.3 L557.4 595.3 L556.8 595.3 L556.1 595.3 L555.5 595.3 L554.8 595.3 L554.2 595.3 L553.5 595.3 L552.9 595.3 L552.2 595.3 L551.6 595.3 L550.9 595.3 L550.3 595.3 L549.6 595.3 L549.0 595.3 L548.3 595.3 L547.6 595.3 L547.0 595.3 L546.3 595.3 L545.7 595.3 L545.0 595.3 L544.4 595.3 L543.7 595.3 L543.1 595.3 L542.4 595.3 L541.8 595.3 L541.1 595.3 L540.5 595.3 L539.8 595.3 L539.2 595.2 L538.5 595.2 L537.9 595.2 L537.2 595.2 L536.6 595.2 L535.9 595.2 L535.3 595.2 L534.6 595.2 L534.0 595.2 L533.3 595.2 L532.7 595.1 L532.0 595.1 L531.4 595.1 L530.7 595.1 L530.1 595.1 L529.4 595.1 L528.8 595.1 L528.1 595.1 L527.5 595.0 L526.8 595.0 L526.2 595.0 L525.5 595.0 L524.9 595.0 L524.2 595.0 L523.6 594.9 L523.2 594.9" class=""/><path d="M482.3 592.8 L481.9 592.8 L481.2 592.7 L480.6 592.7 L479.9 592.7 L479.3 592.6 L478.6 592.6 L478.0 592.5 L477.8 592.5 L477.3 592.4 L476.7 592.4 L476.0 592.3 L475.4 592.3 L474.7 592.2 L474.1 592.1 L473.4 592.1 L472.8 592.0 L472.1 592.0 L471.5 591.9 L470.8 591.8 L470.2 591.8 L469.5 591.7 L468.9 591.6 L468.2 591.6 L467.6 591.5 L466.9 591.4 L466.3 591.4 L465.6 591.3 L465.0 591.2 L464.3 591.2 L463.6 591.1 L463.0 591.0 L462.3 590.9 L461.7 590.9 L461.0 590.8 L460.4 590.7 L459.7 590.7 L459.1 590.6 L458.4 590.5 L457.8 590.4 L457.1 590.4 L456.5 590.3 L455.8 590.2 L455.2 590.1 L454.5 590.1 L453.9 590.0 L453.2 589.9 L452.6 589.8 L451.9 589.7 L451.3 589.7 L450.6 589.6 L450.0 589.5 L449.3 589.4 L448.7 589.3 L448.0 589.3 L447.4 589.2 L446.7 589.1 L446.1 589.0 L445.4 588.9 L444.8 588.9 L444.1 588.8 L443.5 588.7 L442.8 588.6 L442.2 588.5 L441.5 588.4 L440.9 588.3 L440.2 588.3 L439.6 588.2 L438.9 588.1 L438.3 588.0 L437.6 587.9 L437.0 587.8 L436.3 587.7 L435.6 587.6 L435.0 587.5 L434.3 587.5 L433.7 587.4 L433.0 587.3 L432.6 587.2 L432.4 587.2 L431.7 587.1 L431.1 587.0 L430.4 586.9 L429.8 586.7 L429.1 586.6 L428.5 586.5 L427.8 586.4 L427.2 586.3 L426.5 586.2 L425.9 586.1 L425.2 586.0 L424.6 585.9 L423.9 585.8 L423.3 585.6 L422.6 585.5 L422.0 585.4 L421.3 585.3 L420.7 585.2 L420.0 585.1 L419.4 584.9 L418.7 584.8 L418.1 584.7 L417.4 584.6 L416.8 584.5 L416.1 584.4 L415.5 584.2 L414.8 584.1 L414.2 584.0 L413.5 583.9 L412.9 583.8 L412.2 583.6 L411.6 583.5 L410.9 583.4 L410.3 583.3 L409.6 583.1 L409.0 583.0 L408.3 582.9 L407.6 582.8 L407.0 582.6 L406.3 582.5 L405.7 582.4 L405.0 582.3 L404.4 582.1 L403.7 582.0 L403.3 581.9 L403.1 581.9 L402.4 581.7 L401.8 581.6 L401.1 581.4 L400.5 581.3 L399.8 581.1 L399.2 581.0 L398.5 580.8 L397.9 580.7 L397.2 580.5 L396.6 580.4 L395.9 580.2 L395.3 580.1 L394.6 579.9 L394.0 579.8 L393.3 579.6 L392.7 579.5 L392.0 579.3 L391.4 579.1 L390.7 579.0 L390.1 578.8 L389.4 578.7 L388.8 578.5 L388.1 578.4 L387.5 578.2 L386.8 578.0 L386.2 577.9 L385.5 577.7 L384.9 577.6 L384.2 577.4 L383.6 577.2 L382.9 577.1 L382.3 576.9 L381.6 576.7 L381.2 576.6 L381.0 576.6 L380.3 576.4 L379.6 576.2 L379.0 576.0 L378.3 575.8 L377.7 575.6 L377.0 575.4 L376.4 575.3 L375.7 575.1 L375.1 574.9 L374.4 574.7 L373.8 574.5 L373.1 574.3 L372.5 574.1 L371.8 573.9 L371.2 573.7 L370.5 573.5 L369.9 573.3 L369.2 573.1 L368.6 572.9 L367.9 572.7 L367.3 572.5 L366.6 572.3 L366.0 572.1 L365.3 571.9 L364.7 571.7 L364.0 571.5 L363.4 571.4 L363.4 571.3 L362.7 571.1 L362.1 570.9 L361.4 570.6 L360.8 570.4 L360.1 570.2 L359.5 570.0 L358.8 569.7 L358.2 569.5 L357.5 569.3 L356.9 569.0 L356.2 568.8 L355.6 568.6 L354.9 568.3 L354.3 568.1 L353.6 567.9 L353.0 567.6 L352.3 567.4 L351.7 567.1 L351.0 566.9 L350.3 566.7 L349.7 566.4 L349.0 566.2 L348.7 566.1 L348.4 565.9 L347.7 565.7 L347.1 565.4 L346.4 565.1 L345.8 564.8 L345.1 564.6 L344.5 564.3 L343.8 564.0 L343.2 563.7 L342.5 563.5 L341.9 563.2 L341.2 562.9 L340.6 562.6 L339.9 562.4 L339.3 562.1 L338.6 561.8 L338.0 561.5 L337.3 561.2 L336.7 561.0 L336.3 560.8 L336.0 560.7 L335.4 560.3 L334.7 560.0 L334.1 559.7 L333.4 559.4 L332.8 559.1 L332.1 558.8 L331.5 558.4 L330.8 558.1 L330.2 557.8 L329.5 557.5 L328.9 557.1 L328.2 556.8 L327.6 556.5 L326.9 556.2 L326.3 555.8 L325.6 555.5 L325.6 555.5 L325.0 555.2 L324.3 554.8 L323.7 554.4 L323.0 554.0 L322.3 553.7 L321.7 553.3 L321.0 552.9 L320.4 552.6 L319.7 552.2 L319.1 551.8 L318.4 551.4 L317.8 551.1 L317.1 550.7 L316.5 550.3 L316.3 550.2 L315.8 549.9 L315.2 549.5 L314.5 549.1 L313.9 548.7 L313.2 548.2 L312.6 547.8 L311.9 547.4 L311.3 547.0 L310.6 546.5 L310.0 546.1 L309.3 545.7 L308.7 545.3 L308.2 544.9 L308.0 544.8 L307.4 544.4 L306.7 543.9 L306.1 543.4 L305.4 542.9 L304.8 542.4 L304.1 542.0 L303.5 541.5 L302.8 541.0 L302.2 540.5 L301.5 540.0 L301.0 539.7 L300.9 539.5 L300.2 539.0 L299.6 538.5 L298.9 537.9 L298.3 537.4 L297.6 536.8 L297.0 536.3 L296.3 535.7 L295.7 535.2 L295.0 534.7 L294.7 534.4 L294.3 534.1 L293.7 533.5 L293.0 532.9 L292.4 532.3 L291.7 531.7 L291.1 531.1 L290.4 530.4 L289.8 529.8 L289.1 529.2 L289.0 529.1 L288.5 528.6 L287.8 527.9 L287.2 527.2 L286.5 526.5 L285.9 525.9 L285.2 525.2 L284.6 524.5 L283.9 523.8 L283.9 523.8 L283.3 523.1 L282.6 522.3 L282.0 521.5 L281.3 520.8 L280.7 520.0 L280.0 519.3 L279.4 518.5 L279.4 518.5 L278.7 517.7 L278.1 516.9 L277.4 516.0 L276.8 515.2 L276.1 514.3 L275.5 513.5 L275.3 513.2 L274.8 512.6 L274.2 511.7 L273.5 510.8 L272.9 509.8 L272.2 508.9 L271.6 508.0 L271.5 508.0 L270.9 507.0 L270.3 505.9 L269.6 504.9 L269.0 503.9 L268.3 502.9 L268.2 502.7 L267.7 501.8 L267.0 500.7 L266.3 499.5 L265.7 498.4 L265.1 497.4 L265.0 497.3 L264.4 496.1 L263.7 494.8 L263.1 493.6 L262.4 492.4 L262.3 492.1 L261.8 491.1 L261.1 489.7 L260.5 488.4 L259.8 487.0 L259.7 486.8 L259.2 485.6 L258.5 484.1 L257.9 482.6 L257.4 481.5 L257.2 481.1 L256.6 479.5 L255.9 477.9 L255.3 476.3 L255.2 476.3 L254.6 474.6 L254.0 472.9 L253.3 471.2 L253.3 471.0 L252.7 469.3 L252.0 467.4 L251.4 465.7 L251.4 465.5 L250.7 463.5 L250.1 461.4 L249.7 460.4 L249.4 459.3 L248.8 457.1 L248.2 455.1 L248.1 454.9 L247.5 452.5 L246.8 450.1 L246.7 449.8 L246.2 447.6 L245.5 445.0 L245.4 444.6 L244.9 442.3 L244.2 439.5 L244.1 439.3 L243.6 436.6 L243.0 434.0 L242.9 433.6 L242.3 430.4 L241.9 428.7 L241.6 427.1 L241.0 423.7 L240.9 423.4 L240.3 420.1 L240.0 418.1 L239.7 416.3 L239.1 412.9 L239.0 412.4 L238.3 408.2 L238.2 407.6 L237.7 403.8 L237.5 402.3 L237.0 399.2 L236.8 397.0 L236.4 394.3 L236.1 391.7 L235.7 389.0 L235.4 386.4 L235.1 383.5 L234.8 381.2 L234.4 377.5 L234.3 375.9 L233.8 371.1 L233.7 370.6 L233.2 365.3 L233.1 364.2 L232.8 360.0 L232.5 356.8 L232.3 354.7 L231.9 349.5 L231.8 348.6 L231.5 344.2 L231.2 339.7 L231.1 338.9 L230.8 333.6 L230.5 329.7 L230.4 328.3 L230.1 323.0 L229.9 318.6 L229.8 317.8 L229.6 312.5 L229.3 307.2 L229.2 305.9 L229.0 301.9 L228.8 296.6 L228.6 291.3 L228.6 291.2 L228.4 286.1 L228.2 280.8 L228.0 275.5 L227.9 273.4 L227.8 270.2 L227.7 264.9 L227.5 259.6 L227.4 254.4 L227.3 250.8 L227.2 249.1 L227.1 243.8 L227.0 238.5 L226.9 233.2 L226.8 227.9 L226.7 222.7 L226.6 217.7 L226.6 217.4 L226.6 212.1 L226.5 206.8 L226.4 201.5 L226.4 196.2 L226.3 191.0 L226.3 185.7 L226.3 180.4 L226.2 175.1 L226.2 169.8 L226.2 164.5" class=""/><path d="M930.9 164.5 L930.9 169.8 L930.9 175.1 L930.9 180.4 L930.8 185.7 L930.8 191.0 L930.8 196.2 L930.7 201.5 L930.7 206.8 L930.6 212.1 L930.6 217.4 L930.5 220.3 L930.5 222.7 L930.4 227.9 L930.3 233.2 L930.2 238.5 L930.2 243.8 L930.1 249.1 L929.9 254.4 L929.9 257.3 L929.8 259.6 L929.7 264.9 L929.6 270.2 L929.4 275.5 L929.3 280.8 L929.2 282.0 L929.1 286.1 L928.9 291.3 L928.7 296.6 L928.6 301.1 L928.5 301.9 L928.3 307.2 L928.1 312.5 L927.9 316.9 L927.9 317.8 L927.6 323.0 L927.4 328.3 L927.3 330.3 L927.1 333.6 L926.8 338.9 L926.6 342.0 L926.5 344.2 L926.2 349.5 L926.0 352.4 L925.8 354.7 L925.4 360.0 L925.3 361.8 L925.1 365.3 L924.7 370.2 L924.6 370.6 L924.2 375.9 L924.0 377.9 L923.7 381.2 L923.4 385.0 L923.2 386.4 L922.7 391.6 L922.7 391.7 L922.1 397.0 L922.1 397.7 L921.5 402.3 L921.4 403.4 L920.9 407.6 L920.8 408.7 L920.2 412.9 L920.1 413.7 L919.5 418.1 L919.5 418.4 L918.8 422.8 L918.7 423.4 L918.2 427.0 L917.9 428.7 L917.5 431.0 L917.0 434.0 L916.9 434.8 L916.2 438.4 L916.0 439.3 L915.5 441.8 L915.0 444.6 L914.9 445.1 L914.2 448.2 L913.9 449.8 L913.6 451.3 L912.9 454.2 L912.7 455.1 L912.3 456.9 L911.6 459.6 L911.5 460.4 L911.0 462.2 L910.3 464.7 L910.1 465.7 L909.7 467.1 L909.0 469.4 L908.6 471.0 L908.4 471.6 L907.7 473.8 L907.1 475.9 L907.0 476.3 L906.4 477.9 L905.8 479.9 L905.2 481.5 L905.1 481.8 L904.5 483.6 L903.8 485.4 L903.3 486.8 L903.2 487.2 L902.5 488.9 L901.9 490.5 L901.3 492.1 L901.2 492.2 L900.6 493.7 L899.9 495.3 L899.3 496.8 L899.0 497.4 L898.6 498.2 L898.0 499.6 L897.3 501.0 L896.7 502.4 L896.6 502.7 L896.0 503.7 L895.4 505.0 L894.7 506.3 L894.1 507.6 L893.9 508.0 L893.4 508.8 L892.8 509.9 L892.1 511.1 L891.5 512.3 L890.9 513.2 L890.8 513.4 L890.2 514.5 L889.5 515.5 L888.9 516.6 L888.2 517.7 L887.7 518.5 L887.6 518.7 L886.9 519.7 L886.2 520.6 L885.6 521.6 L884.9 522.5 L884.3 523.5 L884.1 523.8 L883.6 524.4 L883.0 525.3 L882.3 526.1 L881.7 527.0 L881.0 527.9 L880.4 528.8 L880.1 529.1 L879.7 529.6 L879.1 530.3 L878.4 531.1 L877.8 531.9 L877.1 532.7 L876.5 533.5 L875.8 534.3 L875.8 534.4 L875.2 535.0 L874.5 535.7 L873.9 536.4 L873.2 537.1 L872.6 537.8 L871.9 538.5 L871.3 539.2 L870.9 539.7 L870.6 539.9 L870.0 540.5 L869.3 541.2 L868.7 541.8 L868.0 542.4 L867.4 543.1 L866.7 543.7 L866.1 544.4 L865.5 544.9 L865.4 545.0 L864.8 545.5 L864.1 546.1 L863.5 546.7 L862.8 547.2 L862.2 547.8 L861.5 548.4 L860.9 548.9 L860.2 549.5 L859.6 550.1 L859.4 550.2 L858.9 550.6 L858.2 551.1 L857.6 551.6 L856.9 552.1 L856.3 552.6 L855.6 553.1 L855.0 553.6 L854.3 554.1 L853.7 554.6 L853.0 555.1 L852.6 555.5 L852.4 555.6 L851.7 556.1 L851.1 556.5 L850.4 556.9 L849.8 557.4 L849.1 557.8 L848.5 558.3 L847.8 558.7 L847.2 559.2 L846.5 559.6 L845.9 560.1 L845.2 560.5 L844.9 560.8 L844.6 561.0 L843.9 561.4 L843.3 561.7 L842.6 562.1 L842.0 562.5 L841.3 562.9 L840.7 563.3 L840.0 563.7 L839.4 564.1 L838.7 564.5 L838.1 564.9 L837.4 565.3 L836.8 565.7 L836.2 566.1 L836.1 566.1 L835.5 566.4 L834.8 566.8 L834.2 567.1 L833.5 567.4 L832.9 567.8 L832.2 568.1 L831.6 568.5 L830.9 568.8 L830.2 569.2 L829.6 569.5 L828.9 569.9 L828.3 570.2 L827.6 570.6 L827.0 570.9 L826.3 571.3 L826.2 571.4 L825.7 571.6 L825.0 571.9 L824.4 572.2 L823.7 572.5 L823.1 572.8 L822.4 573.1 L821.8 573.4 L821.1 573.7 L820.5 574.0 L819.8 574.3 L819.2 574.6 L818.5 574.9 L817.9 575.2 L817.2 575.5 L816.6 575.8 L815.9 576.1 L815.3 576.4 L814.8 576.6 L814.6 576.7 L814.0 577.0 L813.3 577.2 L812.7 577.5 L812.0 577.7 L811.4 578.0 L810.7 578.2 L810.1 578.5 L809.4 578.7 L808.8 579.0 L808.1 579.3 L807.5 579.5 L806.8 579.8 L806.2 580.0 L805.5 580.3 L804.9 580.6 L804.2 580.8 L803.6 581.1 L802.9 581.4 L802.2 581.6 L801.6 581.9 L801.6 581.9 L800.9 582.1 L800.3 582.3 L799.6 582.6 L799.0 582.8 L798.3 583.0 L797.7 583.2 L797.0 583.4 L796.4 583.6 L795.7 583.9 L795.1 584.1 L794.4 584.3 L793.8 584.5 L793.1 584.7 L792.5 585.0 L791.8 585.2 L791.2 585.4 L790.5 585.6 L789.9 585.9 L789.2 586.1 L788.6 586.3 L787.9 586.6 L787.3 586.8 L786.6 587.0 L786.1 587.2 L786.0 587.2 L785.3 587.4 L784.7 587.6 L784.0 587.8 L783.4 588.0 L782.7 588.1 L782.1 588.3 L781.4 588.5 L780.8 588.7 L780.1 588.9 L779.5 589.0 L778.8 589.2 L778.2 589.4 L777.5 589.6 L776.9 589.8 L776.2 590.0 L775.6 590.2 L774.9 590.4 L774.2 590.5 L773.6 590.7 L772.9 590.9 L772.3 591.1 L771.6 591.3 L771.0 591.5 L770.3 591.7 L769.7 591.9 L769.0 592.1 L768.4 592.3 L767.7 592.5 L767.6 592.5 L767.1 592.6 L766.4 592.8 L765.8 592.9 L765.1 593.1 L764.5 593.2 L763.8 593.4 L763.2 593.5 L762.5 593.7 L761.9 593.8 L761.2 594.0 L760.6 594.1 L759.9 594.3 L759.3 594.4 L758.6 594.6 L758.0 594.7 L757.3 594.9 L756.7 595.0 L756.0 595.2 L755.4 595.3 L754.7 595.5 L754.1 595.6 L753.4 595.8 L752.8 596.0 L752.1 596.1 L751.5 596.3 L750.8 596.4 L750.2 596.6 L749.5 596.7 L748.9 596.9 L748.2 597.0 L747.6 597.2 L746.9 597.4 L746.2 597.5 L745.6 597.7 L745.2 597.8 L744.9 597.8 L744.3 597.9 L743.6 598.1 L743.0 598.2 L742.3 598.3 L741.7 598.4 L741.0 598.5 L740.4 598.7 L739.7 598.8 L739.1 598.9 L738.4 599.0 L737.8 599.1 L737.1 599.3 L736.5 599.4 L735.8 599.5 L735.2 599.6 L734.5 599.7 L733.9 599.9 L733.2 600.0 L732.6 600.1 L731.9 600.2 L731.3 600.4 L730.6 600.5 L730.0 600.6 L729.3 600.7 L728.7 600.8 L728.0 601.0 L727.4 601.1 L726.7 601.2 L726.1 601.3 L725.4 601.5 L724.8 601.6 L724.1 601.7 L723.5 601.8 L722.8 601.9 L722.2 602.1 L721.5 602.2 L720.9 602.3 L720.2 602.4 L719.6 602.6 L718.9 602.7 L718.3 602.8 L717.6 602.9 L716.9 603.1 L716.9 603.1 L716.3 603.1 L715.6 603.2 L715.0 603.3 L714.3 603.4 L713.7 603.5 L713.0 603.6 L712.4 603.7 L711.7 603.8 L711.1 603.9 L710.4 604.0 L709.8 604.0 L709.1 604.1 L708.5 604.2 L707.8 604.3 L707.2 604.4 L706.5 604.5 L705.9 604.6 L705.2 604.7 L704.6 604.8 L703.9 604.9 L703.3 605.0 L702.6 605.0 L702.0 605.1 L701.3 605.2 L700.7 605.3 L700.0 605.4 L699.4 605.5 L698.7 605.6 L698.1 605.7 L697.4 605.8 L696.8 605.9 L696.1 606.0 L695.5 606.0 L694.8 606.1 L694.2 606.2 L693.5 606.3 L692.9 606.4 L692.2 606.5 L691.6 606.6 L690.9 606.7 L690.3 606.8 L689.6 606.9 L688.9 606.9 L688.3 607.0 L687.6 607.1 L687.0 607.2 L686.3 607.3 L685.7 607.4 L685.0 607.5 L684.4 607.6 L683.7 607.7 L683.1 607.7 L682.4 607.8 L681.8 607.9 L681.1 608.0 L680.5 608.1 L679.8 608.2 L679.2 608.3 L678.6 608.3 L678.5 608.3 L677.9 608.4 L677.2 608.5 L676.6 608.5 L675.9 608.6 L675.3 608.7 L674.6 608.7 L674.0 608.8 L673.3 608.8 L672.7 608.9 L672.0 609.0 L671.4 609.0 L670.7 609.1 L670.1 609.1 L669.4 609.2 L668.8 609.3 L668.1 609.3 L667.5 609.4 L666.8 609.4 L666.2 609.5 L665.5 609.6 L664.9 609.6 L664.2 609.7 L663.6 609.7 L662.9 609.8 L662.3 609.9 L661.6 609.9 L660.9 610.0 L660.3 610.0 L659.6 610.1 L659.0 610.2 L658.3 610.2 L657.7 610.3 L657.0 610.3 L656.4 610.4 L655.7 610.4 L655.1 610.5 L654.4 610.6 L653.8 610.6 L653.1 610.7 L652.5 610.7 L651.8 610.8 L651.2 610.8 L650.5 610.9 L649.9 611.0 L649.2 611.0 L648.6 611.1 L647.9 611.1 L647.3 611.2 L646.6 611.2 L646.0 611.3 L645.3 611.3 L644.7 611.4 L644.0 611.4 L643.4 611.5 L642.7 611.5 L642.1 611.6 L641.4 611.7 L640.8 611.7 L640.1 611.8 L639.5 611.8 L638.8 611.9 L638.2 611.9 L637.5 612.0 L636.9 612.0 L636.2 612.1 L635.6 612.1 L634.9 612.2 L634.3 612.2 L633.6 612.3 L632.9 612.3 L632.3 612.4 L631.6 612.4 L631.0 612.5 L630.3 612.5 L629.7 612.5 L629.0 612.6 L628.4 612.6 L627.7 612.7 L627.1 612.7 L626.4 612.8 L625.8 612.8 L625.1 612.9 L624.5 612.9 L623.8 613.0 L623.2 613.0 L622.5 613.1 L621.9 613.1 L621.2 613.1 L620.6 613.2 L619.9 613.2 L619.3 613.3 L618.6 613.3 L618.0 613.3 L617.3 613.4 L616.7 613.4 L616.0 613.5 L615.4 613.5 L614.7 613.6 L614.1 613.6 L613.5 613.6 L613.4 613.6 L612.8 613.7 L612.1 613.7 L611.5 613.7 L610.8 613.7 L610.2 613.8 L609.5 613.8 L608.9 613.8 L608.2 613.8 L607.6 613.9 L606.9 613.9 L606.3 613.9 L605.6 613.9 L604.9 614.0 L604.3 614.0 L603.6 614.0 L603.0 614.0 L602.3 614.1 L601.7 614.1 L601.0 614.1 L600.4 614.1 L599.7 614.2 L599.1 614.2 L598.4 614.2 L597.8 614.2 L597.1 614.2 L596.5 614.3 L595.8 614.3 L595.2 614.3 L594.5 614.3 L593.9 614.3 L593.2 614.4 L592.6 614.4 L591.9 614.4 L591.3 614.4 L590.6 614.4 L590.0 614.5 L589.3 614.5 L588.7 614.5 L588.0 614.5 L587.4 614.5 L586.7 614.6 L586.1 614.6 L585.4 614.6 L584.8 614.6 L584.1 614.6 L583.5 614.6 L582.8 614.6 L582.2 614.7 L581.5 614.7 L580.9 614.7 L580.2 614.7 L579.6 614.7 L578.9 614.7 L578.3 614.7 L577.6 614.8 L576.9 614.8 L576.3 614.8 L575.6 614.8 L575.0 614.8 L574.3 614.8 L573.7 614.8 L573.0 614.8 L572.4 614.9 L571.7 614.9 L571.1 614.9 L570.4 614.9 L569.8 614.9 L569.1 614.9 L568.5 614.9 L567.8 614.9 L567.2 614.9 L566.5 614.9 L565.9 615.0 L565.2 615.0 L564.6 615.0 L563.9 615.0 L563.3 615.0 L562.6 615.0 L562.0 615.0 L561.3 615.0 L560.7 615.0 L560.0 615.0 L559.4 615.0 L558.7 615.0 L558.1 615.0 L557.4 615.0 L556.8 615.0 L556.1 615.0 L555.5 615.0 L554.8 615.0 L554.2 615.0 L553.5 615.0 L552.9 615.0 L552.2 615.1 L551.6 615.1 L550.9 615.1 L550.3 615.1 L549.6 615.1 L549.0 615.1 L548.3 615.1 L547.6 615.1 L547.0 615.1 L546.3 615.1 L545.7 615.1 L545.0 615.0 L544.4 615.0 L543.7 615.0 L543.1 615.0 L542.4 615.0 L541.8 615.0 L541.1 615.0 L540.5 615.0 L539.8 615.0 L539.2 615.0 L538.5 615.0 L537.9 615.0 L537.2 615.0 L536.6 615.0 L535.9 615.0 L535.3 615.0 L534.6 615.0 L534.0 615.0 L533.3 615.0 L532.7 615.0 L532.0 615.0 L531.4 614.9 L530.7 614.9 L530.1 614.9 L529.4 614.9 L528.8 614.9 L528.1 614.9 L527.5 614.9 L526.8 614.9 L526.2 614.9 L525.5 614.9 L524.9 614.8 L524.2 614.8 L523.6 614.8 L522.9 614.8 L522.3 614.8 L521.6 614.8 L521.0 614.8 L520.3 614.8 L519.6 614.7 L519.0 614.7 L518.3 614.7 L517.7 614.7 L517.0 614.7 L516.4 614.7 L515.7 614.7 L515.1 614.6 L514.4 614.6 L513.8 614.6 L513.1 614.6 L512.5 614.6 L511.8 614.6 L511.2 614.6 L510.5 614.5 L509.9 614.5 L509.2 614.5 L508.6 614.5 L507.9 614.5 L507.3 614.4 L506.6 614.4 L506.0 614.4 L505.3 614.4 L504.7 614.4 L504.0 614.3 L503.4 614.3 L502.7 614.3 L502.1 614.3 L501.4 614.3 L500.8 614.2 L500.1 614.2 L499.5 614.2 L498.8 614.2 L498.2 614.2 L497.5 614.1 L496.9 614.1 L496.2 614.1 L495.6 614.1 L494.9 614.0 L494.3 614.0 L493.6 614.0 L493.0 614.0 L492.3 613.9 L491.6 613.9 L491.0 613.9 L490.3 613.9 L489.7 613.8 L489.0 613.8 L488.4 613.8 L487.7 613.8 L487.1 613.7 L486.4 613.7 L485.8 613.7 L485.1 613.7 L484.5 613.6 L484.4 613.6 L483.8 613.6 L483.2 613.6 L482.5 613.5 L481.9 613.5 L481.2 613.4 L480.6 613.4 L479.9 613.3 L479.3 613.3 L478.6 613.3 L478.0 613.2 L477.3 613.2 L476.7 613.1 L476.0 613.1 L475.4 613.1 L474.7 613.0 L474.1 613.0 L473.4 612.9 L472.8 612.9 L472.1 612.8 L471.5 612.8 L470.8 612.7 L470.2 612.7 L469.5 612.6 L468.9 612.6 L468.2 612.5 L467.6 612.5 L466.9 612.5 L466.3 612.4 L465.6 612.4 L465.0 612.3 L464.3 612.3 L463.6 612.2 L463.0 612.2 L462.3 612.1 L461.7 612.1 L461.0 612.0 L460.4 612.0 L459.7 611.9 L459.1 611.9 L458.4 611.8 L457.8 611.8 L457.1 611.7 L456.5 611.7 L455.8 611.6 L455.2 611.5 L454.5 611.5 L453.9 611.4 L453.2 611.4 L452.6 611.3 L451.9 611.3 L451.3 611.2 L450.6 611.2 L450.0 611.1 L449.3 611.1 L448.7 611.0 L448.0 611.0 L447.4 610.9 L446.7 610.8 L446.1 610.8 L445.4 610.7 L444.8 610.7 L444.1 610.6 L443.5 610.6 L442.8 610.5 L442.2 610.4 L441.5 610.4 L440.9 610.3 L440.2 610.3 L439.6 610.2 L438.9 610.2 L438.3 610.1 L437.6 610.0 L437.0 610.0 L436.3 609.9 L435.6 609.9 L435.0 609.8 L434.3 609.7 L433.7 609.7 L433.0 609.6 L432.4 609.6 L431.7 609.5 L431.1 609.4 L430.4 609.4 L429.8 609.3 L429.1 609.3 L428.5 609.2 L427.8 609.1 L427.2 609.1 L426.5 609.0 L425.9 609.0 L425.2 608.9 L424.6 608.8 L423.9 608.8 L423.3 608.7 L422.6 608.7 L422.0 608.6 L421.3 608.5 L420.7 608.5 L420.0 608.4 L419.4 608.3 L419.3 608.3 L418.7 608.3 L418.1 608.2 L417.4 608.1 L416.8 608.0 L416.1 607.9 L415.5 607.8 L415.4 607.8" class="dd"/><path d="M373.9 601.7 L373.8 601.7 L373.1 601.6 L372.5 601.5 L371.8 601.3 L371.2 601.2 L370.5 601.1 L369.9 601.0 L369.2 600.8 L368.6 600.7 L367.9 600.6 L367.3 600.5 L366.6 600.4 L366.0 600.2 L365.3 600.1 L364.7 600.0 L364.0 599.9 L363.4 599.7 L362.7 599.6 L362.1 599.5 L361.4 599.4 L360.8 599.3 L360.1 599.1 L359.5 599.0 L358.8 598.9 L358.2 598.8 L357.5 598.7 L356.9 598.5 L356.2 598.4 L355.6 598.3 L354.9 598.2 L354.3 598.1 L353.6 597.9 L353.0 597.8 L352.7 597.8 L352.3 597.7 L351.7 597.5 L351.0 597.4 L350.3 597.2 L349.7 597.0 L349.0 596.9 L348.4 596.7 L347.7 596.6 L347.1 596.4 L346.4 596.3 L345.8 596.1 L345.1 596.0 L344.5 595.8 L343.8 595.6 L343.2 595.5 L342.5 595.3 L341.9 595.2 L341.2 595.0 L340.6 594.9 L339.9 594.7 L339.3 594.6 L338.6 594.4 L338.0 594.3 L337.3 594.1 L336.7 594.0 L336.0 593.8 L335.4 593.7 L334.7 593.5 L334.1 593.4 L333.4 593.2 L332.8 593.1 L332.1 592.9 L331.5 592.8 L330.8 592.6 L330.3 592.5 L330.2 592.5 L329.5 592.3 L328.9 592.1 L328.2 591.9 L327.6 591.7 L326.9 591.5 L326.3 591.3 L325.6 591.1 L325.0 590.9 L324.3 590.7 L323.7 590.5 L323.0 590.4 L322.3 590.2 L321.7 590.0 L321.0 589.8 L320.4 589.6 L319.7 589.4 L319.1 589.2 L318.4 589.0 L317.8 588.9 L317.1 588.7 L316.5 588.5 L315.8 588.3 L315.2 588.1 L314.5 588.0 L313.9 587.8 L313.2 587.6 L312.6 587.4 L311.9 587.2 L311.8 587.2 L311.3 587.0 L310.6 586.8 L310.0 586.6 L309.3 586.3 L308.7 586.1 L308.0 585.9 L307.4 585.6 L306.7 585.4 L306.1 585.2 L305.4 585.0 L304.8 584.7 L304.1 584.5 L303.5 584.3 L302.8 584.1 L302.2 583.9 L301.5 583.6 L300.9 583.4 L300.2 583.2 L299.6 583.0 L298.9 582.8 L298.3 582.6 L297.6 582.3 L297.0 582.1 L296.3 581.9 L296.3 581.9 L295.7 581.6 L295.0 581.4 L294.3 581.1 L293.7 580.8 L293.0 580.6 L292.4 580.3 L291.7 580.0 L291.1 579.8 L290.4 579.5 L289.8 579.3 L289.1 579.0 L288.5 578.7 L287.8 578.5 L287.2 578.2 L286.5 578.0 L285.9 577.7 L285.2 577.5 L284.6 577.2 L283.9 577.0 L283.3 576.7 L283.1 576.6 L282.6 576.4 L282.0 576.1 L281.3 575.8 L280.7 575.5 L280.0 575.2 L279.4 574.9 L278.7 574.6 L278.1 574.3 L277.4 574.0 L276.8 573.7 L276.1 573.4 L275.5 573.1 L274.8 572.8 L274.2 572.5 L273.5 572.2 L272.9 571.9 L272.2 571.6 L271.7 571.4 L271.6 571.3 L270.9 570.9 L270.3 570.6 L269.6 570.2 L269.0 569.9 L268.3 569.5 L267.7 569.2 L267.0 568.8 L266.3 568.5 L265.7 568.1 L265.0 567.8 L264.4 567.4 L263.7 567.1 L263.1 566.8 L262.4 566.4 L261.8 566.1 L261.7 566.1 L261.1 565.7 L260.5 565.3 L259.8 564.9 L259.2 564.5 L258.5 564.1 L257.9 563.7 L257.2 563.3 L256.6 562.9 L255.9 562.5 L255.3 562.1 L254.6 561.7 L254.0 561.4 L253.3 561.0 L253.0 560.8 L252.7 560.5 L252.0 560.1 L251.4 559.6 L250.7 559.2 L250.1 558.7 L249.4 558.3 L248.8 557.8 L248.1 557.4 L247.5 556.9 L246.8 556.5 L246.2 556.1 L245.5 555.6 L245.3 555.5 L244.9 555.1 L244.2 554.6 L243.6 554.1 L242.9 553.6 L242.3 553.1 L241.6 552.6 L241.0 552.1 L240.3 551.6 L239.7 551.1 L239.0 550.6 L238.5 550.2 L238.3 550.1 L237.7 549.5 L237.0 548.9 L236.4 548.4 L235.7 547.8 L235.1 547.2 L234.4 546.7 L233.8 546.1 L233.1 545.5 L232.5 545.0 L232.4 544.9 L231.8 544.4 L231.2 543.7 L230.5 543.1 L229.9 542.4 L229.2 541.8 L228.6 541.2 L227.9 540.5 L227.3 539.9 L227.0 539.7 L226.6 539.2 L226.0 538.5 L225.3 537.8 L224.7 537.1 L224.0 536.4 L223.4 535.7 L222.7 535.0 L222.1 534.4 L222.1 534.3 L221.4 533.5 L220.8 532.7 L220.1 531.9 L219.5 531.1 L218.8 530.3 L218.2 529.6 L217.8 529.1 L217.5 528.8 L216.9 527.9 L216.2 527.0 L215.6 526.1 L214.9 525.3 L214.3 524.4 L213.8 523.8 L213.6 523.5 L213.0 522.5 L212.3 521.6 L211.7 520.6 L211.0 519.7 L210.3 518.7 L210.2 518.5 L209.7 517.7 L209.0 516.6 L208.4 515.5 L207.7 514.5 L207.1 513.4 L207.0 513.2 L206.4 512.3 L205.8 511.1 L205.1 509.9 L204.5 508.8 L204.0 508.0 L203.8 507.6 L203.2 506.3 L202.5 505.0 L201.9 503.7 L201.3 502.7 L201.2 502.4 L200.6 501.0 L199.9 499.6 L199.3 498.2 L198.9 497.4 L198.6 496.8 L198.0 495.3 L197.3 493.7 L196.7 492.2 L196.6 492.1 L196.0 490.5 L195.4 488.9 L194.7 487.2 L194.6 486.8 L194.1 485.4 L193.4 483.6 L192.8 481.8 L192.7 481.5 L192.1 479.9 L191.5 477.9 L190.9 476.3 L190.8 475.9 L190.2 473.8 L189.5 471.6 L189.3 471.0 L188.9 469.4 L188.2 467.1 L187.8 465.7 L187.6 464.7 L186.9 462.2 L186.4 460.4 L186.3 459.6 L185.6 456.9 L185.2 455.1 L185.0 454.2 L184.3 451.3 L184.0 449.8 L183.7 448.2 L183.0 445.1 L182.9 444.6 L182.4 441.8 L181.9 439.3 L181.7 438.4 L181.0 434.8 L180.9 434.0 L180.4 431.0 L180.0 428.7 L179.7 427.0 L179.2 423.4 L179.1 422.8 L178.4 418.4 L178.4 418.1 L177.8 413.7 L177.7 412.9 L177.1 408.7 L177.0 407.6 L176.5 403.4 L176.4 402.3 L175.8 397.7 L175.8 397.0 L175.2 391.7 L175.2 391.6 L174.7 386.4 L174.5 385.0 L174.2 381.2 L173.9 377.9 L173.7 375.9 L173.3 370.6 L173.2 370.2 L172.8 365.3 L172.6 361.8 L172.5 360.0 L172.1 354.7 L171.9 352.4 L171.7 349.5 L171.4 344.2 L171.3 342.0 L171.1 338.9 L170.8 333.6 L170.6 330.3 L170.5 328.3 L170.3 323.0 L170.0 317.8 L170.0 316.9 L169.8 312.5 L169.6 307.2 L169.4 301.9 L169.3 301.1 L169.2 296.6 L169.0 291.3 L168.8 286.1 L168.7 282.0 L168.6 280.8 L168.5 275.5 L168.3 270.2 L168.2 264.9 L168.1 259.6 L168.0 257.3 L168.0 254.4 L167.8 249.1 L167.7 243.8 L167.7 238.5 L167.6 233.2 L167.5 227.9 L167.4 222.7 L167.4 220.3 L167.3 217.4 L167.3 212.1 L167.2 206.8 L167.2 201.5 L167.1 196.2 L167.1 191.0 L167.1 185.7 L167.0 180.4 L167.0 175.1 L167.0 169.8 L167.0 164.5" class="dd"/><path d="M977.5 164.5 L977.5 169.8 L977.5 175.1 L977.5 180.4 L977.5 185.7 L977.5 191.0 L977.4 196.2 L977.4 198.4 L977.4 201.5 L977.3 206.8 L977.3 212.1 L977.2 217.4 L977.2 222.7 L977.1 227.9 L977.0 233.2 L977.0 238.5 L976.9 243.8 L976.8 249.1 L976.8 250.7 L976.7 254.4 L976.6 259.6 L976.5 264.9 L976.4 270.2 L976.2 275.5 L976.1 280.1 L976.1 280.8 L975.9 286.1 L975.8 291.3 L975.6 296.6 L975.5 301.9 L975.5 302.0 L975.3 307.2 L975.1 312.5 L974.9 317.8 L974.8 319.5 L974.7 323.0 L974.4 328.3 L974.2 333.6 L974.2 334.2 L973.9 338.9 L973.7 344.2 L973.5 346.9 L973.4 349.5 L973.1 354.7 L972.9 358.1 L972.7 360.0 L972.4 365.3 L972.2 368.0 L972.0 370.6 L971.6 375.9 L971.5 376.9 L971.2 381.2 L970.9 385.1 L970.8 386.4 L970.3 391.7 L970.2 392.5 L969.8 397.0 L969.6 399.3 L969.3 402.3 L968.9 405.6 L968.7 407.6 L968.3 411.5 L968.1 412.9 L967.6 417.0 L967.5 418.1 L967.0 422.1 L966.8 423.4 L966.3 426.9 L966.1 428.7 L965.7 431.4 L965.3 434.0 L965.0 435.7 L964.5 439.3 L964.4 439.8 L963.7 443.6 L963.6 444.6 L963.1 447.3 L962.6 449.8 L962.4 450.8 L961.8 454.1 L961.6 455.1 L961.1 457.3 L960.5 460.4 L960.5 460.4 L959.8 463.2 L959.3 465.7 L959.2 466.1 L958.5 468.7 L958.0 471.0 L957.9 471.3 L957.2 473.8 L956.6 476.2 L956.6 476.3 L955.9 478.5 L955.3 480.8 L955.0 481.5 L954.6 482.9 L954.0 485.0 L953.4 486.8 L953.3 487.1 L952.7 489.0 L952.0 490.9 L951.6 492.1 L951.4 492.8 L950.7 494.5 L950.1 496.3 L949.7 497.4 L949.4 498.0 L948.8 499.6 L948.1 501.2 L947.5 502.7 L947.5 502.9 L946.8 504.3 L946.2 505.8 L945.5 507.3 L945.2 508.0 L944.9 508.7 L944.2 510.0 L943.5 511.4 L942.9 512.8 L942.7 513.2 L942.2 514.0 L941.6 515.3 L940.9 516.5 L940.3 517.7 L939.9 518.5 L939.6 518.9 L939.0 520.0 L938.3 521.2 L937.7 522.3 L937.0 523.4 L936.8 523.8 L936.4 524.5 L935.7 525.5 L935.1 526.5 L934.4 527.5 L933.8 528.5 L933.4 529.1 L933.1 529.5 L932.5 530.4 L931.8 531.3 L931.2 532.3 L930.5 533.2 L929.9 534.1 L929.7 534.4 L929.2 535.0 L928.6 535.8 L927.9 536.6 L927.3 537.5 L926.6 538.3 L926.0 539.2 L925.6 539.7 L925.3 540.0 L924.7 540.7 L924.0 541.4 L923.4 542.2 L922.7 542.9 L922.1 543.7 L921.4 544.5 L921.0 544.9 L920.8 545.2 L920.1 545.8 L919.5 546.5 L918.8 547.2 L918.2 547.8 L917.5 548.5 L916.9 549.2 L916.2 549.9 L915.9 550.2 L915.5 550.5 L914.9 551.1 L914.2 551.7 L913.6 552.3 L912.9 552.9 L912.3 553.5 L911.6 554.1 L911.0 554.7 L910.3 555.4 L910.2 555.5 L909.7 555.9 L909.0 556.4 L908.4 557.0 L907.7 557.5 L907.1 558.0 L906.4 558.6 L905.8 559.1 L905.1 559.7 L904.5 560.2 L903.8 560.8 L903.8 560.8 L903.2 561.2 L902.5 561.7 L901.9 562.2 L901.2 562.6 L900.6 563.1 L899.9 563.6 L899.3 564.1 L898.6 564.6 L898.0 565.1 L897.3 565.6 L896.7 566.1 L896.6 566.1 L896.0 566.5 L895.4 566.9 L894.7 567.3 L894.1 567.7 L893.4 568.1 L892.8 568.5 L892.1 569.0 L891.5 569.4 L890.8 569.8 L890.2 570.3 L889.5 570.7 L888.9 571.2 L888.6 571.4 L888.2 571.6 L887.6 571.9 L886.9 572.3 L886.2 572.6 L885.6 573.0 L884.9 573.4 L884.3 573.7 L883.6 574.1 L883.0 574.5 L882.3 574.9 L881.7 575.2 L881.0 575.6 L880.4 576.0 L879.7 576.4 L879.4 576.6 L879.1 576.8 L878.4 577.1 L877.8 577.4 L877.1 577.7 L876.5 578.0 L875.8 578.4 L875.2 578.7 L874.5 579.0 L873.9 579.3 L873.2 579.7 L872.6 580.0 L871.9 580.3 L871.3 580.7 L870.6 581.0 L870.0 581.4 L869.3 581.7 L868.9 581.9 L868.7 582.0 L868.0 582.3 L867.4 582.6 L866.7 582.8 L866.1 583.1 L865.4 583.4 L864.8 583.7 L864.1 584.0 L863.5 584.2 L862.8 584.5 L862.2 584.8 L861.5 585.1 L860.9 585.4 L860.2 585.7 L859.6 586.0 L858.9 586.3 L858.2 586.6 L857.6 586.9 L857.0 587.2 L856.9 587.2 L856.3 587.4 L855.6 587.7 L855.0 587.9 L854.3 588.1 L853.7 588.4 L853.0 588.6 L852.4 588.9 L851.7 589.1 L851.1 589.3 L850.4 589.6 L849.8 589.8 L849.1 590.1 L848.5 590.3 L847.8 590.6 L847.2 590.9 L846.5 591.1 L845.9 591.4 L845.2 591.6 L844.6 591.9 L843.9 592.2 L843.3 592.4 L843.1 592.5 L842.6 592.7 L842.0 592.8 L841.3 593.0 L840.7 593.2 L840.0 593.4 L839.4 593.6 L838.7 593.9 L838.1 594.1 L837.4 594.3 L836.8 594.5 L836.1 594.7 L835.5 594.9 L834.8 595.1 L834.2 595.3 L833.5 595.5 L832.9 595.8 L832.2 596.0 L831.6 596.2 L830.9 596.4 L830.2 596.6 L829.6 596.9 L828.9 597.1 L828.3 597.3 L827.6 597.6 L827.0 597.8 L827.0 597.8 L826.3 598.0 L825.7 598.1 L825.0 598.3 L824.4 598.5 L823.7 598.6 L823.1 598.8 L822.4 599.0 L821.8 599.1 L821.1 599.3 L820.5 599.5 L819.8 599.7 L819.2 599.8 L818.5 600.0 L817.9 600.2 L817.2 600.4 L816.6 600.6 L815.9 600.7 L815.3 600.9 L814.6 601.1 L814.0 601.3 L813.3 601.5 L812.7 601.7 L812.0 601.9 L811.4 602.1 L810.7 602.3 L810.1 602.4 L809.4 602.6 L808.8 602.8 L808.1 603.0 L808.1 603.1 L807.5 603.2 L806.8 603.3 L806.2 603.5 L805.5 603.6 L804.9 603.7 L804.2 603.9 L803.6 604.0 L802.9 604.2 L802.2 604.3 L801.6 604.4 L800.9 604.6 L800.3 604.7 L799.6 604.9 L799.0 605.0 L798.3 605.2 L797.7 605.3 L797.0 605.5 L796.4 605.6 L795.7 605.8 L795.1 605.9 L794.4 606.1 L793.8 606.2 L793.1 606.4 L792.5 606.5 L791.8 606.7 L791.2 606.9 L790.5 607.0 L789.9 607.2 L789.2 607.3 L788.6 607.5 L787.9 607.7 L787.3 607.8 L786.6 608.0 L786.0 608.2 L785.3 608.3 L785.2 608.3 L784.7 608.4 L784.0 608.5 L783.4 608.7 L782.7 608.8 L782.1 608.9 L781.4 609.0 L780.8 609.1 L780.1 609.2 L779.5 609.3 L778.8 609.5 L778.2 609.6 L777.5 609.7 L776.9 609.8 L776.2 609.9 L775.6 610.0 L774.9 610.2 L774.2 610.3 L773.6 610.4 L772.9 610.5 L772.3 610.6 L771.6 610.8 L771.0 610.9 L770.3 611.0 L769.7 611.1 L769.0 611.3 L768.4 611.4 L767.7 611.5 L767.1 611.6 L766.4 611.8 L765.8 611.9 L765.1 612.0 L764.5 612.1 L763.8 612.3 L763.2 612.4 L762.5 612.5 L761.9 612.7 L761.2 612.8 L760.6 612.9 L759.9 613.0 L759.3 613.2 L758.6 613.3 L758.0 613.4 L757.3 613.6 L757.1 613.6 L756.7 613.7 L756.0 613.8 L755.4 613.9 L754.7 613.9 L754.1 614.0 L753.4 614.1 L752.8 614.2 L752.1 614.3 L751.5 614.4 L750.8 614.5 L750.2 614.6 L749.5 614.7 L748.9 614.7 L748.2 614.8 L747.6 614.9 L746.9 615.0 L746.2 615.1 L745.6 615.2 L744.9 615.3 L744.3 615.4 L743.6 615.5 L743.0 615.6 L742.3 615.7 L741.7 615.7 L741.0 615.8 L740.4 615.9 L739.7 616.0 L739.1 616.1 L738.4 616.2 L737.8 616.3 L737.1 616.4 L736.5 616.5 L735.8 616.6 L735.2 616.7 L734.5 616.8 L733.9 616.9 L733.2 617.0 L732.6 617.1 L731.9 617.2 L731.3 617.3 L730.6 617.4 L730.0 617.5 L729.3 617.6 L728.7 617.7 L728.0 617.8 L727.4 617.9 L726.7 618.0 L726.1 618.1 L725.4 618.2 L724.8 618.3 L724.1 618.4 L723.5 618.5 L722.8 618.6 L722.2 618.7 L721.5 618.8 L720.9 618.9 L720.6 618.9 L720.2 618.9 L719.6 619.0 L718.9 619.1 L718.3 619.1 L717.6 619.2 L716.9 619.3 L716.3 619.3 L715.6 619.4 L715.0 619.5 L714.3 619.5 L713.7 619.6 L713.0 619.7 L712.4 619.7 L711.7 619.8 L711.1 619.8 L710.4 619.9 L709.8 620.0 L709.1 620.0 L708.5 620.1 L707.8 620.2 L707.2 620.2 L706.5 620.3 L705.9 620.4 L705.2 620.4 L704.6 620.5 L703.9 620.6 L703.3 620.6 L702.6 620.7 L702.0 620.8 L701.3 620.8 L700.7 620.9 L700.0 621.0 L699.4 621.0 L698.7 621.1 L698.1 621.1 L697.4 621.2 L696.8 621.3 L696.1 621.3 L695.5 621.4 L694.8 621.5 L694.2 621.5 L693.5 621.6 L692.9 621.7 L692.2 621.7 L691.6 621.8 L690.9 621.9 L690.3 621.9 L689.6 622.0 L688.9 622.1 L688.3 622.1 L687.6 622.2 L687.0 622.3 L686.3 622.3 L685.7 622.4 L685.0 622.5 L684.4 622.5 L683.7 622.6 L683.1 622.7 L682.4 622.7 L681.8 622.8 L681.1 622.9 L680.5 622.9 L679.8 623.0 L679.2 623.1 L678.5 623.1 L677.9 623.2 L677.2 623.3 L676.6 623.3 L675.9 623.4 L675.3 623.5 L674.6 623.5 L674.0 623.6 L673.3 623.7 L672.7 623.7 L672.0 623.8 L671.4 623.8 L670.7 623.9 L670.1 624.0 L669.4 624.0 L668.8 624.1 L668.1 624.2 L667.9 624.2 L667.5 624.2 L666.8 624.3 L666.2 624.3 L665.5 624.3 L664.9 624.4 L664.2 624.4 L663.6 624.5 L662.9 624.5 L662.3 624.5 L661.6 624.6 L660.9 624.6 L660.3 624.6 L659.6 624.7 L659.0 624.7 L658.3 624.8 L657.7 624.8 L657.0 624.8 L656.4 624.9 L655.7 624.9 L655.1 624.9 L654.4 625.0 L653.8 625.0 L653.1 625.1 L652.5 625.1 L651.8 625.1 L651.2 625.2 L650.5 625.2 L649.9 625.2 L649.2 625.3 L648.6 625.3 L647.9 625.3 L647.3 625.4 L646.6 625.4 L646.0 625.5 L645.3 625.5 L644.7 625.5 L644.0 625.6 L643.4 625.6 L642.7 625.6 L642.1 625.7 L641.4 625.7 L640.8 625.7 L640.1 625.8 L639.5 625.8 L638.8 625.8 L638.2 625.9 L637.5 625.9 L636.9 625.9 L636.2 626.0 L635.6 626.0 L634.9 626.0 L634.3 626.1 L633.6 626.1 L632.9 626.1 L632.3 626.2 L631.6 626.2 L631.0 626.2 L630.3 626.3 L629.7 626.3 L629.0 626.3 L628.4 626.4 L627.7 626.4 L627.1 626.4 L626.4 626.5 L625.8 626.5 L625.1 626.5 L624.5 626.5 L623.8 626.6 L623.2 626.6 L622.5 626.6 L621.9 626.7 L621.2 626.7 L620.6 626.7 L619.9 626.8 L619.3 626.8 L618.6 626.8 L618.0 626.8 L617.3 626.9 L616.7 626.9 L616.0 626.9 L615.4 626.9 L614.7 627.0 L614.1 627.0 L613.4 627.0 L612.8 627.1 L612.1 627.1 L611.5 627.1 L610.8 627.1 L610.2 627.2 L609.5 627.2 L608.9 627.2 L608.2 627.2 L607.6 627.3 L606.9 627.3 L606.3 627.3 L605.6 627.3 L604.9 627.4 L604.3 627.4 L603.6 627.4 L603.0 627.4 L602.3 627.5 L601.7 627.5 L601.0 627.5 L600.4 627.5 L599.7 627.5 L599.1 627.6 L598.4 627.6 L597.8 627.6 L597.1 627.6 L596.5 627.7 L595.8 627.7 L595.2 627.7 L594.5 627.7 L593.9 627.7 L593.2 627.8 L592.6 627.8 L591.9 627.8 L591.3 627.8 L590.6 627.8 L590.0 627.9 L589.3 627.9 L588.7 627.9 L588.0 627.9 L587.4 627.9 L586.7 627.9 L586.1 628.0 L585.4 628.0 L584.8 628.0 L584.1 628.0 L583.5 628.0 L582.8 628.0 L582.2 628.1 L581.5 628.1 L580.9 628.1 L580.2 628.1 L579.6 628.1 L578.9 628.1 L578.3 628.1 L577.6 628.2 L576.9 628.2 L576.3 628.2 L575.6 628.2 L575.0 628.2 L574.3 628.2 L573.7 628.2 L573.0 628.2 L572.4 628.2 L571.7 628.3 L571.1 628.3 L570.4 628.3 L569.8 628.3 L569.1 628.3 L568.5 628.3 L567.8 628.3 L567.2 628.3 L567.0 628.3" class=""/><path d="M527.0 628.3 L526.8 628.3 L526.2 628.3 L525.5 628.2 L524.9 628.2 L524.2 628.2 L523.6 628.2 L522.9 628.2 L522.3 628.2 L521.6 628.2 L521.0 628.2 L520.3 628.2 L519.6 628.1 L519.0 628.1 L518.3 628.1 L517.7 628.1 L517.0 628.1 L516.4 628.1 L515.7 628.1 L515.1 628.0 L514.4 628.0 L513.8 628.0 L513.1 628.0 L512.5 628.0 L511.8 628.0 L511.2 627.9 L510.5 627.9 L509.9 627.9 L509.2 627.9 L508.6 627.9 L507.9 627.9 L507.3 627.8 L506.6 627.8 L506.0 627.8 L505.3 627.8 L504.7 627.8 L504.0 627.7 L503.4 627.7 L502.7 627.7 L502.1 627.7 L501.4 627.7 L500.8 627.6 L500.1 627.6 L499.5 627.6 L498.8 627.6 L498.2 627.5 L497.5 627.5 L496.9 627.5 L496.2 627.5 L495.6 627.5 L494.9 627.4 L494.3 627.4 L493.6 627.4 L493.0 627.4 L492.3 627.3 L491.6 627.3 L491.0 627.3 L490.3 627.3 L489.7 627.2 L489.0 627.2 L488.4 627.2 L487.7 627.2 L487.1 627.1 L486.4 627.1 L485.8 627.1 L485.1 627.1 L484.5 627.0 L483.8 627.0 L483.2 627.0 L482.5 626.9 L481.9 626.9 L481.2 626.9 L480.6 626.9 L479.9 626.8 L479.3 626.8 L478.6 626.8 L478.0 626.8 L477.3 626.7 L476.7 626.7 L476.0 626.7 L475.4 626.6 L474.7 626.6 L474.1 626.6 L473.4 626.5 L472.8 626.5 L472.1 626.5 L471.5 626.5 L470.8 626.4 L470.2 626.4 L469.5 626.4 L468.9 626.3 L468.2 626.3 L467.6 626.3 L466.9 626.2 L466.3 626.2 L465.6 626.2 L465.0 626.1 L464.3 626.1 L463.6 626.1 L463.0 626.0 L462.3 626.0 L461.7 626.0 L461.0 625.9 L460.4 625.9 L459.7 625.9 L459.1 625.8 L458.4 625.8 L457.8 625.8 L457.1 625.7 L456.5 625.7 L455.8 625.7 L455.2 625.6 L454.5 625.6 L453.9 625.6 L453.2 625.5 L452.6 625.5 L451.9 625.5 L451.3 625.4 L450.6 625.4 L450.0 625.3 L449.3 625.3 L448.7 625.3 L448.0 625.2 L447.4 625.2 L446.7 625.2 L446.1 625.1 L445.4 625.1 L444.8 625.1 L444.1 625.0 L443.5 625.0 L442.8 624.9 L442.2 624.9 L441.5 624.9 L440.9 624.8 L440.2 624.8 L439.6 624.8 L438.9 624.7 L438.3 624.7 L437.6 624.6 L437.0 624.6 L436.3 624.6 L435.6 624.5 L435.0 624.5 L434.3 624.5 L433.7 624.4 L433.0 624.4 L432.4 624.3 L431.7 624.3 L431.1 624.3 L430.4 624.2 L430.0 624.2 L429.8 624.2 L429.1 624.1 L428.5 624.0 L427.8 624.0 L427.2 623.9 L426.5 623.8 L425.9 623.8 L425.2 623.7 L424.6 623.7 L423.9 623.6 L423.3 623.5 L422.6 623.5 L422.0 623.4 L421.3 623.3 L420.7 623.3 L420.0 623.2 L419.4 623.1 L418.7 623.1 L418.1 623.0 L417.4 622.9 L416.8 622.9 L416.1 622.8 L415.5 622.7 L414.8 622.7 L414.2 622.6 L413.5 622.5 L412.9 622.5 L412.2 622.4 L411.6 622.3 L410.9 622.3 L410.3 622.2 L409.6 622.1 L409.0 622.1 L408.3 622.0 L407.6 621.9 L407.0 621.9 L406.3 621.8 L405.7 621.7 L405.0 621.7 L404.4 621.6 L403.7 621.5 L403.1 621.5 L402.4 621.4 L401.8 621.3 L401.1 621.3 L400.5 621.2 L399.8 621.1 L399.2 621.1 L398.5 621.0 L397.9 621.0 L397.2 620.9 L396.6 620.8 L395.9 620.8 L395.3 620.7 L394.6 620.6 L394.0 620.6 L393.3 620.5 L392.7 620.4 L392.0 620.4 L391.4 620.3 L390.7 620.2 L390.1 620.2 L389.4 620.1 L388.8 620.0 L388.1 620.0 L387.5 619.9 L386.8 619.8 L386.2 619.8 L385.5 619.7 L384.9 619.7 L384.2 619.6 L383.6 619.5 L382.9 619.5 L382.3 619.4 L381.6 619.3 L381.0 619.3 L380.3 619.2 L379.6 619.1 L379.0 619.1 L378.3 619.0 L377.7 618.9 L377.3 618.9 L377.0 618.9 L376.4 618.8 L375.7 618.7 L375.1 618.6 L374.4 618.5 L373.8 618.4 L373.1 618.3 L372.5 618.2 L371.8 618.1 L371.2 618.0 L370.5 617.9 L369.9 617.8 L369.2 617.7 L368.6 617.6 L367.9 617.5 L367.3 617.4 L366.6 617.3 L366.0 617.2 L365.3 617.1 L364.7 617.0 L364.0 616.9 L363.4 616.8 L362.7 616.7 L362.1 616.6 L361.4 616.5 L360.8 616.4 L360.1 616.3 L359.5 616.2 L358.8 616.1 L358.2 616.0 L357.5 615.9 L356.9 615.8 L356.2 615.7 L355.6 615.7 L354.9 615.6 L354.3 615.5 L353.6 615.4 L353.0 615.3 L352.3 615.2 L351.7 615.1 L351.0 615.0 L350.3 614.9 L349.7 614.8 L349.0 614.7 L348.4 614.7 L347.7 614.6 L347.1 614.5 L346.4 614.4 L345.8 614.3 L345.1 614.2 L344.5 614.1 L343.8 614.0 L343.2 613.9 L342.5 613.9 L341.9 613.8 L341.2 613.7 L340.8 613.6 L340.6 613.6 L339.9 613.4 L339.3 613.3 L338.6 613.2 L338.0 613.0 L337.3 612.9 L336.7 612.8 L336.0 612.7 L335.4 612.5 L334.7 612.4 L334.1 612.3 L333.4 612.1 L332.8 612.0 L332.1 611.9 L331.5 611.8 L330.8 611.6 L330.2 611.5 L329.5 611.4 L328.9 611.3 L328.2 611.1 L327.6 611.0 L326.9 610.9 L326.3 610.8 L325.6 610.6 L325.0 610.5 L324.3 610.4 L323.7 610.3 L323.0 610.2 L322.3 610.0 L321.7 609.9 L321.0 609.8 L320.4 609.7 L319.7 609.6 L319.1 609.5 L318.4 609.3 L317.8 609.2 L317.1 609.1 L316.5 609.0 L315.8 608.9 L315.2 608.8 L314.5 608.7 L313.9 608.5 L313.2 608.4 L312.7 608.3 L312.6 608.3 L311.9 608.2 L311.3 608.0 L310.6 607.8 L310.0 607.7 L309.3 607.5 L308.7 607.3 L308.0 607.2 L307.4 607.0 L306.7 606.9 L306.1 606.7 L305.4 606.5 L304.8 606.4 L304.1 606.2 L303.5 606.1 L302.8 605.9 L302.2 605.8 L301.5 605.6 L300.9 605.5 L300.2 605.3 L299.6 605.2 L298.9 605.0 L298.3 604.9 L297.6 604.7 L297.0 604.6 L296.3 604.4 L295.7 604.3 L295.0 604.2 L294.3 604.0 L293.7 603.9 L293.0 603.7 L292.4 603.6 L291.7 603.5 L291.1 603.3 L290.4 603.2 L289.8 603.1 L289.8 603.0 L289.1 602.8 L288.5 602.6 L287.8 602.4 L287.2 602.3 L286.5 602.1 L285.9 601.9 L285.2 601.7 L284.6 601.5 L283.9 601.3 L283.3 601.1 L282.6 600.9 L282.0 600.7 L281.3 600.6 L280.7 600.4 L280.0 600.2 L279.4 600.0 L278.7 599.8 L278.1 599.7 L277.4 599.5 L276.8 599.3 L276.1 599.1 L275.5 599.0 L274.8 598.8 L274.2 598.6 L273.5 598.5 L272.9 598.3 L272.2 598.1 L271.6 598.0 L270.9 597.8 L270.9 597.8 L270.3 597.6 L269.6 597.3 L269.0 597.1 L268.3 596.9 L267.7 596.6 L267.0 596.4 L266.3 596.2 L265.7 596.0 L265.0 595.8 L264.4 595.5 L263.7 595.3 L263.1 595.1 L262.4 594.9 L261.8 594.7 L261.1 594.5 L260.5 594.3 L259.8 594.1 L259.2 593.9 L258.5 593.6 L257.9 593.4 L257.2 593.2 L256.6 593.0 L255.9 592.8 L255.3 592.7 L254.8 592.5 L254.6 592.4 L254.0 592.2 L253.3 591.9 L252.7 591.6 L252.0 591.4 L251.4 591.1 L250.7 590.9 L250.1 590.6 L249.4 590.3 L248.8 590.1 L248.1 589.8 L247.5 589.6 L246.8 589.3 L246.2 589.1 L245.5 588.9 L244.9 588.6 L244.2 588.4 L243.6 588.1 L242.9 587.9 L242.3 587.7 L241.6 587.4 L241.0 587.2 L240.9 587.2 L240.3 586.9 L239.7 586.6 L239.0 586.3 L238.3 586.0 L237.7 585.7 L237.0 585.4 L236.4 585.1 L235.7 584.8 L235.1 584.5 L234.4 584.2 L233.8 584.0 L233.1 583.7 L232.5 583.4 L231.8 583.1 L231.2 582.8 L230.5 582.6 L229.9 582.3 L229.2 582.0 L229.0 581.9 L228.6 581.7 L227.9 581.4 L227.3 581.0 L226.6 580.7 L226.0 580.3 L225.3 580.0 L224.7 579.7 L224.0 579.3 L223.4 579.0 L222.7 578.7 L222.1 578.4 L221.4 578.0 L220.8 577.7 L220.1 577.4 L219.5 577.1 L218.8 576.8 L218.5 576.6 L218.2 576.4 L217.5 576.0 L216.9 575.6 L216.2 575.2 L215.6 574.9 L214.9 574.5 L214.3 574.1 L213.6 573.7 L213.0 573.4 L212.3 573.0 L211.7 572.6 L211.0 572.3 L210.3 571.9 L209.7 571.6 L209.3 571.4 L209.0 571.2 L208.4 570.7 L207.7 570.3 L207.1 569.8 L206.4 569.4 L205.8 569.0 L205.1 568.5 L204.5 568.1 L203.8 567.7 L203.2 567.3 L202.5 566.9 L201.9 566.5 L201.3 566.1 L201.2 566.1 L200.6 565.6 L199.9 565.1 L199.3 564.6 L198.6 564.1 L198.0 563.6 L197.3 563.1 L196.7 562.6 L196.0 562.2 L195.4 561.7 L194.7 561.2 L194.1 560.8 L194.1 560.8 L193.4 560.2 L192.8 559.7 L192.1 559.1 L191.5 558.6 L190.8 558.0 L190.2 557.5 L189.5 557.0 L188.9 556.4 L188.2 555.9 L187.7 555.5 L187.6 555.4 L186.9 554.7 L186.3 554.1 L185.6 553.5 L185.0 552.9 L184.3 552.3 L183.7 551.7 L183.0 551.1 L182.4 550.5 L182.0 550.2 L181.7 549.9 L181.0 549.2 L180.4 548.5 L179.7 547.8 L179.1 547.2 L178.4 546.5 L177.8 545.8 L177.1 545.2 L176.9 544.9 L176.5 544.5 L175.8 543.7 L175.2 542.9 L174.5 542.2 L173.9 541.4 L173.2 540.7 L172.6 540.0 L172.3 539.7 L171.9 539.2 L171.3 538.3 L170.6 537.5 L170.0 536.6 L169.3 535.8 L168.7 535.0 L168.2 534.4 L168.0 534.1 L167.4 533.2 L166.7 532.3 L166.1 531.3 L165.4 530.4 L164.8 529.5 L164.5 529.1 L164.1 528.5 L163.5 527.5 L162.8 526.5 L162.2 525.5 L161.5 524.5 L161.1 523.8 L160.9 523.4 L160.2 522.3 L159.6 521.2 L158.9 520.0 L158.3 518.9 L158.0 518.5 L157.6 517.7 L157.0 516.5 L156.3 515.3 L155.7 514.0 L155.2 513.2 L155.0 512.8 L154.4 511.4 L153.7 510.0 L153.0 508.7 L152.7 508.0 L152.4 507.3 L151.7 505.8 L151.1 504.3 L150.4 502.9 L150.4 502.7 L149.8 501.2 L149.1 499.6 L148.5 498.0 L148.2 497.4 L147.8 496.3 L147.2 494.5 L146.5 492.8 L146.3 492.1 L145.9 490.9 L145.2 489.0 L144.6 487.1 L144.5 486.8 L143.9 485.0 L143.3 482.9 L142.9 481.5 L142.6 480.8 L142.0 478.5 L141.3 476.3 L141.3 476.2 L140.7 473.8 L140.0 471.3 L139.9 471.0 L139.4 468.7 L138.7 466.1 L138.6 465.7 L138.1 463.2 L137.4 460.4 L137.4 460.4 L136.8 457.3 L136.3 455.1 L136.1 454.1 L135.5 450.8 L135.3 449.8 L134.8 447.3 L134.3 444.6 L134.2 443.6 L133.5 439.8 L133.4 439.3 L132.9 435.7 L132.6 434.0 L132.2 431.4 L131.8 428.7 L131.6 426.9 L131.1 423.4 L130.9 422.1 L130.4 418.1 L130.3 417.0 L129.8 412.9 L129.6 411.5 L129.2 407.6 L129.0 405.6 L128.6 402.3 L128.3 399.3 L128.1 397.0 L127.7 392.5 L127.6 391.7 L127.1 386.4 L127.0 385.1 L126.7 381.2 L126.4 376.9 L126.3 375.9 L125.9 370.6 L125.7 368.0 L125.5 365.3 L125.2 360.0 L125.0 358.1 L124.8 354.7 L124.5 349.5 L124.4 346.9 L124.2 344.2 L124.0 338.9 L123.7 334.2 L123.7 333.6 L123.5 328.3 L123.2 323.0 L123.1 319.5 L123.0 317.8 L122.8 312.5 L122.6 307.2 L122.4 302.0 L122.4 301.9 L122.3 296.6 L122.1 291.3 L122.0 286.1 L121.8 280.8 L121.8 280.1 L121.7 275.5 L121.5 270.2 L121.4 264.9 L121.3 259.6 L121.2 254.4 L121.1 250.7 L121.1 249.1 L121.0 243.8 L120.9 238.5 L120.9 233.2 L120.8 227.9 L120.7 222.7 L120.7 217.4 L120.6 212.1 L120.6 206.8 L120.5 201.5 L120.5 198.4 L120.5 196.2 L120.4 191.0 L120.4 185.7 L120.4 180.4 L120.4 175.1 L120.4 169.8 L120.4 164.5" class=""/></g>
<text class="r" x="0" y="-2.5" transform="translate(668.8 224.6) rotate(-87.2)" text-anchor="middle" dominant-baseline="central" font-size="29" fill="#fff">45</text>
<text class="r" x="0" y="-2.5" transform="translate(532.7 548.7) rotate(2.6)" text-anchor="middle" dominant-baseline="central" font-size="29" fill="#fff">50</text>
<text class="r" x="0" y="-2.5" transform="translate(502.7 594.1) rotate(3.0)" text-anchor="middle" dominant-baseline="central" font-size="29" fill="#fff">55</text>
<text class="r" x="0" y="-2.5" transform="translate(394.6 605.0) rotate(7.9)" text-anchor="middle" dominant-baseline="central" font-size="29" fill="#fff">60</text>
<text class="r" x="0" y="-2.5" transform="translate(547.0 628.4) rotate(0.1)" text-anchor="middle" dominant-baseline="central" font-size="29" fill="#fff">70</text>
<rect x="97.70" y="83.00" width="902.50" height="42.90" fill="url(#cb)"/>
<rect x="97.70" y="83.00" width="902.50" height="42.90" fill="none" stroke="#000" stroke-width="2.20"/>
<line x1="97.70" x2="97.70" y1="72.00" y2="83.00" stroke="#000" stroke-width="2.20"/>
<text class="r" x="97.70" y="55.2" text-anchor="middle" font-size="34">40</text>
<line x1="290.40" x2="290.40" y1="72.00" y2="83.00" stroke="#000" stroke-width="2.20"/>
<text class="r" x="290.40" y="55.2" text-anchor="middle" font-size="34">50</text>
<line x1="483.10" x2="483.10" y1="72.00" y2="83.00" stroke="#000" stroke-width="2.20"/>
<text class="r" x="483.10" y="55.2" text-anchor="middle" font-size="34">60</text>
<line x1="675.80" x2="675.80" y1="72.00" y2="83.00" stroke="#000" stroke-width="2.20"/>
<text class="r" x="675.80" y="55.2" text-anchor="middle" font-size="34">70</text>
<line x1="868.50" x2="868.50" y1="72.00" y2="83.00" stroke="#000" stroke-width="2.20"/>
<text class="r" x="868.50" y="55.2" text-anchor="middle" font-size="34">80</text>
<text class="s" x="548.2" y="21.6" text-anchor="middle" font-size="29">Transmission Loss (dB)</text>
<rect x="97.70" y="161.90" width="902.50" height="475.50" fill="none" stroke="#000" stroke-width="2.20"/>
<line x1="124.93" x2="124.93" y1="637.40" y2="643.80" stroke="#000" stroke-width="2.20"/>
<line x1="157.55" x2="157.55" y1="637.40" y2="648.00" stroke="#000" stroke-width="2.20"/>
<line x1="190.16" x2="190.16" y1="637.40" y2="643.80" stroke="#000" stroke-width="2.20"/>
<line x1="222.78" x2="222.78" y1="637.40" y2="643.80" stroke="#000" stroke-width="2.20"/>
<line x1="255.40" x2="255.40" y1="637.40" y2="643.80" stroke="#000" stroke-width="2.20"/>
<line x1="288.01" x2="288.01" y1="637.40" y2="648.00" stroke="#000" stroke-width="2.20"/>
<line x1="320.63" x2="320.63" y1="637.40" y2="643.80" stroke="#000" stroke-width="2.20"/>
<line x1="353.25" x2="353.25" y1="637.40" y2="643.80" stroke="#000" stroke-width="2.20"/>
<line x1="385.86" x2="385.86" y1="637.40" y2="643.80" stroke="#000" stroke-width="2.20"/>
<line x1="418.48" x2="418.48" y1="637.40" y2="648.00" stroke="#000" stroke-width="2.20"/>
<line x1="451.10" x2="451.10" y1="637.40" y2="643.80" stroke="#000" stroke-width="2.20"/>
<line x1="483.72" x2="483.72" y1="637.40" y2="643.80" stroke="#000" stroke-width="2.20"/>
<line x1="516.33" x2="516.33" y1="637.40" y2="643.80" stroke="#000" stroke-width="2.20"/>
<line x1="548.95" x2="548.95" y1="637.40" y2="648.00" stroke="#000" stroke-width="2.20"/>
<line x1="581.57" x2="581.57" y1="637.40" y2="643.80" stroke="#000" stroke-width="2.20"/>
<line x1="614.18" x2="614.18" y1="637.40" y2="643.80" stroke="#000" stroke-width="2.20"/>
<line x1="646.80" x2="646.80" y1="637.40" y2="643.80" stroke="#000" stroke-width="2.20"/>
<line x1="679.42" x2="679.42" y1="637.40" y2="648.00" stroke="#000" stroke-width="2.20"/>
<line x1="712.04" x2="712.04" y1="637.40" y2="643.80" stroke="#000" stroke-width="2.20"/>
<line x1="744.65" x2="744.65" y1="637.40" y2="643.80" stroke="#000" stroke-width="2.20"/>
<line x1="777.27" x2="777.27" y1="637.40" y2="643.80" stroke="#000" stroke-width="2.20"/>
<line x1="809.89" x2="809.89" y1="637.40" y2="648.00" stroke="#000" stroke-width="2.20"/>
<line x1="842.50" x2="842.50" y1="637.40" y2="643.80" stroke="#000" stroke-width="2.20"/>
<line x1="875.12" x2="875.12" y1="637.40" y2="643.80" stroke="#000" stroke-width="2.20"/>
<line x1="907.74" x2="907.74" y1="637.40" y2="643.80" stroke="#000" stroke-width="2.20"/>
<line x1="940.35" x2="940.35" y1="637.40" y2="648.00" stroke="#000" stroke-width="2.20"/>
<line x1="972.97" x2="972.97" y1="637.40" y2="643.80" stroke="#000" stroke-width="2.20"/>
<line x1="87.10" x2="97.70" y1="637.40" y2="637.40" stroke="#000" stroke-width="2.20"/>
<text class="r" x="77.8" y="649.00" text-anchor="end" font-size="34">0</text>
<line x1="91.30" x2="97.70" y1="584.57" y2="584.57" stroke="#000" stroke-width="2.20"/>
<line x1="91.30" x2="97.70" y1="531.73" y2="531.73" stroke="#000" stroke-width="2.20"/>
<line x1="87.10" x2="97.70" y1="478.90" y2="478.90" stroke="#000" stroke-width="2.20"/>
<text class="r" x="77.8" y="490.50" text-anchor="end" font-size="34">30</text>
<line x1="91.30" x2="97.70" y1="426.07" y2="426.07" stroke="#000" stroke-width="2.20"/>
<line x1="91.30" x2="97.70" y1="373.23" y2="373.23" stroke="#000" stroke-width="2.20"/>
<line x1="87.10" x2="97.70" y1="320.40" y2="320.40" stroke="#000" stroke-width="2.20"/>
<text class="r" x="77.8" y="332.00" text-anchor="end" font-size="34">60</text>
<line x1="91.30" x2="97.70" y1="267.57" y2="267.57" stroke="#000" stroke-width="2.20"/>
<line x1="91.30" x2="97.70" y1="214.73" y2="214.73" stroke="#000" stroke-width="2.20"/>
<line x1="87.10" x2="97.70" y1="161.90" y2="161.90" stroke="#000" stroke-width="2.20"/>
<text class="r" x="77.8" y="173.50" text-anchor="end" font-size="34">90</text>
<text class="s" x="-2.8" y="169.5" font-size="30" font-weight="bold" stroke="#000" stroke-width="0.7">a</text>
<text class="s" transform="translate(26 399.85) rotate(-90)" text-anchor="middle" font-size="29.3"><tspan class="r" font-style="italic" font-size="33.5">θ</tspan><tspan font-size="21" dy="5.6">max</tspan><tspan dy="-5.6" dx="2" font-size="28.8"> (deg)</tspan></text>
<g clip-path="url(#cbp)"><path d="M97.7 1154.9 L98.5 1154.9 L99.2 1154.9 L100.0 1154.9 L100.7 1154.9 L101.5 1154.9 L102.2 1154.9 L103.0 1154.9 L103.7 1154.9 L104.5 1154.9 L105.2 1154.9 L106.0 1154.9 L106.7 1154.9 L107.5 1154.9 L108.2 1154.9 L109.0 1154.9 L109.7 1154.9 L110.5 1154.9 L111.2 1154.9 L112.0 1154.9 L112.8 1154.9 L113.5 1154.9 L114.3 1154.9 L115.0 1154.9 L115.8 1154.9 L116.5 1154.9 L117.3 1154.9 L118.0 1154.9 L118.8 1154.9 L119.5 1154.9 L120.3 1154.9 L121.0 1154.8 L121.8 1154.8 L122.5 1154.8 L123.3 1154.8 L124.0 1154.8 L124.8 1154.8 L125.6 1154.8 L126.3 1154.8 L127.1 1154.8 L127.8 1154.8 L128.6 1154.8 L129.3 1154.8 L130.1 1154.7 L130.8 1154.7 L131.6 1154.7 L132.3 1154.7 L133.1 1154.7 L133.8 1154.7 L134.6 1154.6 L135.3 1154.6 L136.1 1154.6 L136.8 1154.6 L137.6 1154.6 L138.3 1154.5 L139.1 1154.5 L139.9 1154.5 L140.6 1154.5 L141.4 1154.5 L142.1 1154.4 L142.9 1154.4 L143.6 1154.4 L144.4 1154.3 L145.1 1154.3 L145.9 1154.3 L146.6 1154.2 L147.4 1154.2 L148.1 1154.2 L148.9 1154.1 L149.6 1154.1 L150.4 1154.1 L151.1 1154.0 L151.9 1154.0 L152.6 1153.9 L153.4 1153.9 L154.2 1153.8 L154.9 1153.8 L155.7 1153.7 L156.4 1153.7 L157.2 1153.7 L157.9 1153.6 L158.7 1153.5 L159.4 1153.5 L160.2 1153.4 L160.9 1153.4 L161.7 1153.3 L162.4 1153.3 L163.2 1153.2 L163.9 1153.2 L164.7 1153.1 L165.4 1153.0 L166.2 1153.0 L166.9 1152.9 L167.7 1152.8 L168.5 1152.8 L169.2 1152.7 L170.0 1152.6 L170.7 1152.6 L171.5 1152.5 L172.2 1152.4 L173.0 1152.4 L173.7 1152.3 L174.5 1152.2 L175.2 1152.1 L176.0 1152.1 L176.7 1152.0 L177.5 1151.9 L178.2 1151.8 L179.0 1151.8 L179.7 1151.7 L180.5 1151.6 L181.3 1151.5 L182.0 1151.4 L182.8 1151.4 L183.5 1151.3 L184.3 1151.2 L185.0 1151.1 L185.8 1151.0 L186.5 1150.9 L187.3 1150.9 L188.0 1150.8 L188.8 1150.7 L189.5 1150.6 L190.3 1150.5 L191.0 1150.4 L191.8 1150.3 L192.5 1150.2 L193.3 1150.2 L194.0 1150.1 L194.8 1150.0 L195.6 1149.9 L196.3 1149.8 L197.1 1149.7 L197.8 1149.6 L198.6 1149.5 L199.3 1149.4 L200.1 1149.3 L200.8 1149.2 L201.6 1149.1 L202.3 1149.0 L203.1 1148.9 L203.8 1148.8 L204.6 1148.7 L205.3 1148.6 L206.1 1148.5 L206.8 1148.4 L207.6 1148.3 L208.3 1148.2 L209.1 1148.1 L209.9 1148.0 L210.6 1147.9 L211.4 1147.8 L212.1 1147.7 L212.9 1147.6 L213.6 1147.5 L214.4 1147.4 L215.1 1147.3 L215.9 1147.1 L216.6 1147.0 L217.4 1146.9 L218.1 1146.8 L218.9 1146.7 L219.6 1146.6 L220.4 1146.5 L221.1 1146.4 L221.9 1146.3 L222.6 1146.1 L223.4 1146.0 L224.2 1145.9 L224.9 1145.8 L225.7 1145.7 L226.4 1145.6 L227.2 1145.5 L227.9 1145.3 L228.7 1145.2 L229.4 1145.1 L230.2 1145.0 L230.9 1144.9 L231.7 1144.8 L232.4 1144.6 L233.2 1144.5 L233.9 1144.4 L234.7 1144.3 L235.4 1144.2 L236.2 1144.0 L237.0 1143.9 L237.7 1143.8 L238.5 1143.7 L239.2 1143.5 L240.0 1143.4 L240.7 1143.3 L241.5 1143.2 L242.2 1143.0 L243.0 1142.9 L243.7 1142.8 L244.5 1142.7 L245.2 1142.5 L246.0 1142.4 L246.7 1142.3 L247.5 1142.1 L248.2 1142.0 L249.0 1141.9 L249.7 1141.8 L250.5 1141.6 L251.3 1141.5 L252.0 1141.4 L252.8 1141.2 L253.5 1141.1 L254.3 1141.0 L255.0 1140.8 L255.8 1140.7 L256.5 1140.6 L257.3 1140.4 L258.0 1140.3 L258.8 1140.1 L259.5 1140.0 L260.3 1139.9 L261.0 1139.7 L261.8 1139.6 L262.5 1139.4 L263.3 1139.3 L264.0 1139.2 L264.8 1139.0 L265.6 1138.9 L266.3 1138.7 L267.1 1138.6 L267.8 1138.4 L268.6 1138.3 L269.3 1138.1 L270.1 1138.0 L270.8 1137.8 L271.6 1137.7 L272.3 1137.6 L273.1 1137.4 L273.8 1137.3 L274.6 1137.1 L275.3 1136.9 L276.1 1136.8 L276.8 1136.6 L277.6 1136.5 L278.4 1136.3 L279.1 1136.2 L279.9 1136.0 L280.6 1135.9 L281.4 1135.7 L282.1 1135.6 L282.9 1135.4 L283.6 1135.2 L284.4 1135.1 L285.1 1134.9 L285.9 1134.7 L286.6 1134.6 L287.4 1134.4 L288.1 1134.3 L288.9 1134.1 L289.6 1133.9 L290.4 1133.8 L291.1 1133.6 L291.9 1133.4 L292.7 1133.3 L293.4 1133.1 L294.2 1132.9 L294.9 1132.7 L295.7 1132.6 L296.4 1132.4 L297.2 1132.2 L297.9 1132.1 L298.7 1131.9 L299.4 1131.7 L300.2 1131.5 L300.9 1131.3 L301.7 1131.2 L302.4 1131.0 L303.2 1130.8 L303.9 1130.6 L304.7 1130.4 L305.4 1130.3 L306.2 1130.1 L307.0 1129.9 L307.7 1129.7 L308.5 1129.5 L309.2 1129.3 L310.0 1129.1 L310.7 1129.0 L311.5 1128.8 L312.2 1128.6 L313.0 1128.4 L313.7 1128.2 L314.5 1128.0 L315.2 1127.8 L316.0 1127.6 L316.7 1127.4 L317.5 1127.2 L318.2 1127.0 L319.0 1126.8 L319.7 1126.6 L320.5 1126.4 L321.3 1126.2 L322.0 1126.0 L322.8 1125.8 L323.5 1125.6 L324.3 1125.4 L325.0 1125.2 L325.8 1125.0 L326.5 1124.7 L327.3 1124.5 L328.0 1124.3 L328.8 1124.1 L329.5 1123.9 L330.3 1123.7 L331.0 1123.5 L331.8 1123.2 L332.5 1123.0 L333.3 1122.8 L334.1 1122.6 L334.8 1122.4 L335.6 1122.1 L336.3 1121.9 L337.1 1121.7 L337.8 1121.5 L338.6 1121.2 L339.3 1121.0 L340.1 1120.8 L340.8 1120.5 L341.6 1120.3 L342.3 1120.1 L343.1 1119.8 L343.8 1119.6 L344.6 1119.4 L345.3 1119.1 L346.1 1118.9 L346.8 1118.6 L347.6 1118.4 L348.4 1118.2 L349.1 1117.9 L349.9 1117.7 L350.6 1117.4 L351.4 1117.2 L352.1 1116.9 L352.9 1116.7 L353.6 1116.4 L354.4 1116.2 L355.1 1115.9 L355.9 1115.6 L356.6 1115.4 L357.4 1115.1 L358.1 1114.9 L358.9 1114.6 L359.6 1114.3 L360.4 1114.1 L361.1 1113.8 L361.9 1113.5 L362.7 1113.3 L363.4 1113.0 L364.2 1112.7 L364.9 1112.5 L365.7 1112.2 L366.4 1111.9 L367.2 1111.6 L367.9 1111.4 L368.7 1111.1 L369.4 1110.8 L370.2 1110.5 L370.9 1110.2 L371.7 1109.9 L372.4 1109.7 L373.2 1109.4 L373.9 1109.1 L374.7 1108.8 L375.5 1108.5 L376.2 1108.2 L377.0 1107.9 L377.7 1107.6 L378.5 1107.3 L379.2 1107.0 L380.0 1106.7 L380.7 1106.4 L381.5 1106.1 L382.2 1105.8 L383.0 1105.5 L383.7 1105.2 L384.5 1104.9 L385.2 1104.6 L386.0 1104.2 L386.7 1103.9 L387.5 1103.6 L388.2 1103.3 L389.0 1103.0 L389.8 1102.7 L390.5 1102.3 L391.3 1102.0 L392.0 1101.7 L392.8 1101.4 L393.5 1101.0 L394.3 1100.7 L395.0 1100.4 L395.8 1100.1 L396.5 1099.7 L397.3 1099.4 L398.0 1099.1 L398.8 1098.7 L399.5 1098.4 L400.3 1098.0 L401.0 1097.7 L401.8 1097.4 L402.5 1097.0 L403.3 1096.7 L404.1 1096.3 L404.8 1096.0 L405.6 1095.6 L406.3 1095.3 L407.1 1094.9 L407.8 1094.6 L408.6 1094.2 L409.3 1093.8 L410.1 1093.5 L410.8 1093.1 L411.6 1092.8 L412.3 1092.4 L413.1 1092.0 L413.8 1091.7 L414.6 1091.3 L415.3 1090.9 L416.1 1090.6 L416.8 1090.2 L417.6 1089.8 L418.4 1089.5 L419.1 1089.1 L419.9 1088.7 L420.6 1088.3 L421.4 1087.9 L422.1 1087.6 L422.9 1087.2 L423.6 1086.8 L424.4 1086.4 L425.1 1086.0 L425.9 1085.7 L426.6 1085.3 L427.4 1084.9 L428.1 1084.5 L428.9 1084.1 L429.6 1083.7 L430.4 1083.3 L431.2 1082.9 L431.9 1082.5 L432.7 1082.1 L433.4 1081.7 L434.2 1081.3 L434.9 1080.9 L435.7 1080.5 L436.4 1080.1 L437.2 1079.7 L437.9 1079.3 L438.7 1078.9 L439.4 1078.5 L440.2 1078.1 L440.9 1077.7 L441.7 1077.3 L442.4 1076.9 L443.2 1076.5 L443.9 1076.1 L444.7 1075.7 L445.5 1075.3 L446.2 1074.9 L447.0 1074.5 L447.7 1074.1 L448.5 1073.7 L449.2 1073.3 L450.0 1072.8 L450.7 1072.4 L451.5 1072.0 L452.2 1071.6 L453.0 1071.2 L453.7 1070.8 L454.5 1070.4 L455.2 1070.0 L456.0 1069.6 L456.7 1069.1 L457.5 1068.7 L458.2 1068.3 L459.0 1067.9 L459.8 1067.5 L460.5 1067.1 L461.3 1066.7 L462.0 1066.3 L462.8 1065.9 L463.5 1065.4 L464.3 1065.0 L465.0 1064.6 L465.8 1064.2 L466.5 1063.8 L467.3 1063.4 L468.0 1063.0 L468.8 1062.6 L469.5 1062.2 L470.3 1061.8 L471.0 1061.4 L471.8 1061.0 L472.5 1060.6 L473.3 1060.2 L474.1 1059.8 L474.8 1059.4 L475.6 1059.0 L476.3 1058.6 L477.1 1058.2 L477.8 1057.8 L478.6 1057.4 L479.3 1057.0 L480.1 1056.6 L480.8 1056.2 L481.6 1055.8 L482.3 1055.5 L483.1 1055.1 L483.8 1054.7 L484.6 1054.3 L485.3 1053.9 L486.1 1053.6 L486.9 1053.2 L487.6 1052.8 L488.4 1052.5 L489.1 1052.1 L489.9 1051.7 L490.6 1051.4 L491.4 1051.0 L492.1 1050.7 L492.9 1050.3 L493.6 1050.0 L494.4 1049.6 L495.1 1049.3 L495.9 1048.9 L496.6 1048.6 L497.4 1048.2 L498.1 1047.9 L498.9 1047.6 L499.6 1047.3 L500.4 1046.9 L501.2 1046.6 L501.9 1046.3 L502.7 1046.0 L503.4 1045.7 L504.2 1045.4 L504.9 1045.1 L505.7 1044.8 L506.4 1044.5 L507.2 1044.2 L507.9 1043.9 L508.7 1043.6 L509.4 1043.3 L510.2 1043.1 L510.9 1042.8 L511.7 1042.5 L512.4 1042.3 L513.2 1042.0 L513.9 1041.7 L514.7 1041.5 L515.5 1041.2 L516.2 1041.0 L517.0 1040.8 L517.7 1040.5 L518.5 1040.3 L519.2 1040.1 L520.0 1039.9 L520.7 1039.7 L521.5 1039.5 L522.2 1039.2 L523.0 1039.1 L523.7 1038.9 L524.5 1038.7 L525.2 1038.5 L526.0 1038.3 L526.7 1038.1 L527.5 1038.0 L528.3 1037.8 L529.0 1037.7 L529.8 1037.5 L530.5 1037.4 L531.3 1037.2 L532.0 1037.1 L532.8 1037.0 L533.5 1036.8 L534.3 1036.7 L535.0 1036.6 L535.8 1036.5 L536.5 1036.4 L537.3 1036.3 L538.0 1036.2 L538.8 1036.1 L539.5 1036.1 L540.3 1036.0 L541.0 1035.9 L541.8 1035.9 L542.6 1035.8 L543.3 1035.8 L544.1 1035.7 L544.8 1035.7 L545.6 1035.7 L546.3 1035.6 L547.1 1035.6 L547.8 1035.6 L548.6 1035.6 L549.3 1035.6 L550.1 1035.6 L550.8 1035.6 L551.6 1035.6 L552.3 1035.7 L553.1 1035.7 L553.8 1035.7 L554.6 1035.8 L555.3 1035.8 L556.1 1035.9 L556.9 1035.9 L557.6 1036.0 L558.4 1036.1 L559.1 1036.1 L559.9 1036.2 L560.6 1036.3 L561.4 1036.4 L562.1 1036.5 L562.9 1036.6 L563.6 1036.7 L564.4 1036.8 L565.1 1037.0 L565.9 1037.1 L566.6 1037.2 L567.4 1037.4 L568.1 1037.5 L568.9 1037.7 L569.6 1037.8 L570.4 1038.0 L571.2 1038.1 L571.9 1038.3 L572.7 1038.5 L573.4 1038.7 L574.2 1038.9 L574.9 1039.1 L575.7 1039.2 L576.4 1039.5 L577.2 1039.7 L577.9 1039.9 L578.7 1040.1 L579.4 1040.3 L580.2 1040.5 L580.9 1040.8 L581.7 1041.0 L582.4 1041.2 L583.2 1041.5 L584.0 1041.7 L584.7 1042.0 L585.5 1042.3 L586.2 1042.5 L587.0 1042.8 L587.7 1043.1 L588.5 1043.3 L589.2 1043.6 L590.0 1043.9 L590.7 1044.2 L591.5 1044.5 L592.2 1044.8 L593.0 1045.1 L593.7 1045.4 L594.5 1045.7 L595.2 1046.0 L596.0 1046.3 L596.7 1046.6 L597.5 1046.9 L598.3 1047.3 L599.0 1047.6 L599.8 1047.9 L600.5 1048.2 L601.3 1048.6 L602.0 1048.9 L602.8 1049.3 L603.5 1049.6 L604.3 1050.0 L605.0 1050.3 L605.8 1050.7 L606.5 1051.0 L607.3 1051.4 L608.0 1051.7 L608.8 1052.1 L609.5 1052.5 L610.3 1052.8 L611.0 1053.2 L611.8 1053.6 L612.6 1053.9 L613.3 1054.3 L614.1 1054.7 L614.8 1055.1 L615.6 1055.5 L616.3 1055.8 L617.1 1056.2 L617.8 1056.6 L618.6 1057.0 L619.3 1057.4 L620.1 1057.8 L620.8 1058.2 L621.6 1058.6 L622.3 1059.0 L623.1 1059.4 L623.8 1059.8 L624.6 1060.2 L625.4 1060.6 L626.1 1061.0 L626.9 1061.4 L627.6 1061.8 L628.4 1062.2 L629.1 1062.6 L629.9 1063.0 L630.6 1063.4 L631.4 1063.8 L632.1 1064.2 L632.9 1064.6 L633.6 1065.0 L634.4 1065.4 L635.1 1065.9 L635.9 1066.3 L636.6 1066.7 L637.4 1067.1 L638.1 1067.5 L638.9 1067.9 L639.7 1068.3 L640.4 1068.7 L641.2 1069.1 L641.9 1069.6 L642.7 1070.0 L643.4 1070.4 L644.2 1070.8 L644.9 1071.2 L645.7 1071.6 L646.4 1072.0 L647.2 1072.4 L647.9 1072.8 L648.7 1073.3 L649.4 1073.7 L650.2 1074.1 L650.9 1074.5 L651.7 1074.9 L652.4 1075.3 L653.2 1075.7 L654.0 1076.1 L654.7 1076.5 L655.5 1076.9 L656.2 1077.3 L657.0 1077.7 L657.7 1078.1 L658.5 1078.5 L659.2 1078.9 L660.0 1079.3 L660.7 1079.7 L661.5 1080.1 L662.2 1080.5 L663.0 1080.9 L663.7 1081.3 L664.5 1081.7 L665.2 1082.1 L666.0 1082.5 L666.7 1082.9 L667.5 1083.3 L668.3 1083.7 L669.0 1084.1 L669.8 1084.5 L670.5 1084.9 L671.3 1085.3 L672.0 1085.7 L672.8 1086.0 L673.5 1086.4 L674.3 1086.8 L675.0 1087.2 L675.8 1087.6 L676.5 1087.9 L677.3 1088.3 L678.0 1088.7 L678.8 1089.1 L679.5 1089.5 L680.3 1089.8 L681.1 1090.2 L681.8 1090.6 L682.6 1090.9 L683.3 1091.3 L684.1 1091.7 L684.8 1092.0 L685.6 1092.4 L686.3 1092.8 L687.1 1093.1 L687.8 1093.5 L688.6 1093.8 L689.3 1094.2 L690.1 1094.6 L690.8 1094.9 L691.6 1095.3 L692.3 1095.6 L693.1 1096.0 L693.8 1096.3 L694.6 1096.7 L695.4 1097.0 L696.1 1097.4 L696.9 1097.7 L697.6 1098.0 L698.4 1098.4 L699.1 1098.7 L699.9 1099.1 L700.6 1099.4 L701.4 1099.7 L702.1 1100.1 L702.9 1100.4 L703.6 1100.7 L704.4 1101.0 L705.1 1101.4 L705.9 1101.7 L706.6 1102.0 L707.4 1102.3 L708.1 1102.7 L708.9 1103.0 L709.7 1103.3 L710.4 1103.6 L711.2 1103.9 L711.9 1104.2 L712.7 1104.6 L713.4 1104.9 L714.2 1105.2 L714.9 1105.5 L715.7 1105.8 L716.4 1106.1 L717.2 1106.4 L717.9 1106.7 L718.7 1107.0 L719.4 1107.3 L720.2 1107.6 L720.9 1107.9 L721.7 1108.2 L722.4 1108.5 L723.2 1108.8 L724.0 1109.1 L724.7 1109.4 L725.5 1109.7 L726.2 1109.9 L727.0 1110.2 L727.7 1110.5 L728.5 1110.8 L729.2 1111.1 L730.0 1111.4 L730.7 1111.6 L731.5 1111.9 L732.2 1112.2 L733.0 1112.5 L733.7 1112.7 L734.5 1113.0 L735.2 1113.3 L736.0 1113.5 L736.8 1113.8 L737.5 1114.1 L738.3 1114.3 L739.0 1114.6 L739.8 1114.9 L740.5 1115.1 L741.3 1115.4 L742.0 1115.6 L742.8 1115.9 L743.5 1116.2 L744.3 1116.4 L745.0 1116.7 L745.8 1116.9 L746.5 1117.2 L747.3 1117.4 L748.0 1117.7 L748.8 1117.9 L749.5 1118.2 L750.3 1118.4 L751.1 1118.6 L751.8 1118.9 L752.6 1119.1 L753.3 1119.4 L754.1 1119.6 L754.8 1119.8 L755.6 1120.1 L756.3 1120.3 L757.1 1120.5 L757.8 1120.8 L758.6 1121.0 L759.3 1121.2 L760.1 1121.5 L760.8 1121.7 L761.6 1121.9 L762.3 1122.1 L763.1 1122.4 L763.8 1122.6 L764.6 1122.8 L765.4 1123.0 L766.1 1123.2 L766.9 1123.5 L767.6 1123.7 L768.4 1123.9 L769.1 1124.1 L769.9 1124.3 L770.6 1124.5 L771.4 1124.7 L772.1 1125.0 L772.9 1125.2 L773.6 1125.4 L774.4 1125.6 L775.1 1125.8 L775.9 1126.0 L776.6 1126.2 L777.4 1126.4 L778.2 1126.6 L778.9 1126.8 L779.7 1127.0 L780.4 1127.2 L781.2 1127.4 L781.9 1127.6 L782.7 1127.8 L783.4 1128.0 L784.2 1128.2 L784.9 1128.4 L785.7 1128.6 L786.4 1128.8 L787.2 1129.0 L787.9 1129.1 L788.7 1129.3 L789.4 1129.5 L790.2 1129.7 L790.9 1129.9 L791.7 1130.1 L792.5 1130.3 L793.2 1130.4 L794.0 1130.6 L794.7 1130.8 L795.5 1131.0 L796.2 1131.2 L797.0 1131.3 L797.7 1131.5 L798.5 1131.7 L799.2 1131.9 L800.0 1132.1 L800.7 1132.2 L801.5 1132.4 L802.2 1132.6 L803.0 1132.7 L803.7 1132.9 L804.5 1133.1 L805.2 1133.3 L806.0 1133.4 L806.8 1133.6 L807.5 1133.8 L808.3 1133.9 L809.0 1134.1 L809.8 1134.3 L810.5 1134.4 L811.3 1134.6 L812.0 1134.7 L812.8 1134.9 L813.5 1135.1 L814.3 1135.2 L815.0 1135.4 L815.8 1135.6 L816.5 1135.7 L817.3 1135.9 L818.0 1136.0 L818.8 1136.2 L819.5 1136.3 L820.3 1136.5 L821.1 1136.6 L821.8 1136.8 L822.6 1136.9 L823.3 1137.1 L824.1 1137.3 L824.8 1137.4 L825.6 1137.6 L826.3 1137.7 L827.1 1137.8 L827.8 1138.0 L828.6 1138.1 L829.3 1138.3 L830.1 1138.4 L830.8 1138.6 L831.6 1138.7 L832.3 1138.9 L833.1 1139.0 L833.9 1139.2 L834.6 1139.3 L835.4 1139.4 L836.1 1139.6 L836.9 1139.7 L837.6 1139.9 L838.4 1140.0 L839.1 1140.1 L839.9 1140.3 L840.6 1140.4 L841.4 1140.6 L842.1 1140.7 L842.9 1140.8 L843.6 1141.0 L844.4 1141.1 L845.1 1141.2 L845.9 1141.4 L846.6 1141.5 L847.4 1141.6 L848.2 1141.8 L848.9 1141.9 L849.7 1142.0 L850.4 1142.1 L851.2 1142.3 L851.9 1142.4 L852.7 1142.5 L853.4 1142.7 L854.2 1142.8 L854.9 1142.9 L855.7 1143.0 L856.4 1143.2 L857.2 1143.3 L857.9 1143.4 L858.7 1143.5 L859.4 1143.7 L860.2 1143.8 L860.9 1143.9 L861.7 1144.0 L862.5 1144.2 L863.2 1144.3 L864.0 1144.4 L864.7 1144.5 L865.5 1144.6 L866.2 1144.8 L867.0 1144.9 L867.7 1145.0 L868.5 1145.1 L869.2 1145.2 L870.0 1145.3 L870.7 1145.5 L871.5 1145.6 L872.2 1145.7 L873.0 1145.8 L873.7 1145.9 L874.5 1146.0 L875.3 1146.1 L876.0 1146.3 L876.8 1146.4 L877.5 1146.5 L878.3 1146.6 L879.0 1146.7 L879.8 1146.8 L880.5 1146.9 L881.3 1147.0 L882.0 1147.1 L882.8 1147.3 L883.5 1147.4 L884.3 1147.5 L885.0 1147.6 L885.8 1147.7 L886.5 1147.8 L887.3 1147.9 L888.0 1148.0 L888.8 1148.1 L889.6 1148.2 L890.3 1148.3 L891.1 1148.4 L891.8 1148.5 L892.6 1148.6 L893.3 1148.7 L894.1 1148.8 L894.8 1148.9 L895.6 1149.0 L896.3 1149.1 L897.1 1149.2 L897.8 1149.3 L898.6 1149.4 L899.3 1149.5 L900.1 1149.6 L900.8 1149.7 L901.6 1149.8 L902.3 1149.9 L903.1 1150.0 L903.9 1150.1 L904.6 1150.2 L905.4 1150.2 L906.1 1150.3 L906.9 1150.4 L907.6 1150.5 L908.4 1150.6 L909.1 1150.7 L909.9 1150.8 L910.6 1150.9 L911.4 1150.9 L912.1 1151.0 L912.9 1151.1 L913.6 1151.2 L914.4 1151.3 L915.1 1151.4 L915.9 1151.4 L916.6 1151.5 L917.4 1151.6 L918.2 1151.7 L918.9 1151.8 L919.7 1151.8 L920.4 1151.9 L921.2 1152.0 L921.9 1152.1 L922.7 1152.1 L923.4 1152.2 L924.2 1152.3 L924.9 1152.4 L925.7 1152.4 L926.4 1152.5 L927.2 1152.6 L927.9 1152.6 L928.7 1152.7 L929.4 1152.8 L930.2 1152.8 L931.0 1152.9 L931.7 1153.0 L932.5 1153.0 L933.2 1153.1 L934.0 1153.2 L934.7 1153.2 L935.5 1153.3 L936.2 1153.3 L937.0 1153.4 L937.7 1153.4 L938.5 1153.5 L939.2 1153.5 L940.0 1153.6 L940.7 1153.7 L941.5 1153.7 L942.2 1153.7 L943.0 1153.8 L943.7 1153.8 L944.5 1153.9 L945.3 1153.9 L946.0 1154.0 L946.8 1154.0 L947.5 1154.1 L948.3 1154.1 L949.0 1154.1 L949.8 1154.2 L950.5 1154.2 L951.3 1154.2 L952.0 1154.3 L952.8 1154.3 L953.5 1154.3 L954.3 1154.4 L955.0 1154.4 L955.8 1154.4 L956.5 1154.5 L957.3 1154.5 L958.0 1154.5 L958.8 1154.5 L959.6 1154.5 L960.3 1154.6 L961.1 1154.6 L961.8 1154.6 L962.6 1154.6 L963.3 1154.6 L964.1 1154.7 L964.8 1154.7 L965.6 1154.7 L966.3 1154.7 L967.1 1154.7 L967.8 1154.7 L968.6 1154.8 L969.3 1154.8 L970.1 1154.8 L970.8 1154.8 L971.6 1154.8 L972.3 1154.8 L973.1 1154.8 L973.9 1154.8 L974.6 1154.8 L975.4 1154.8 L976.1 1154.8 L976.9 1154.8 L977.6 1154.9 L978.4 1154.9 L979.1 1154.9 L979.9 1154.9 L980.6 1154.9 L981.4 1154.9 L982.1 1154.9 L982.9 1154.9 L983.6 1154.9 L984.4 1154.9 L985.1 1154.9 L985.9 1154.9 L986.7 1154.9 L987.4 1154.9 L988.2 1154.9 L988.9 1154.9 L989.7 1154.9 L990.4 1154.9 L991.2 1154.9 L991.9 1154.9 L992.7 1154.9 L993.4 1154.9 L994.2 1154.9 L994.9 1154.9 L995.7 1154.9 L996.4 1154.9 L997.2 1154.9 L997.9 1154.9 L998.7 1154.9 L999.4 1154.9 L1000.2 1154.9" fill="none" stroke="#74ba78" stroke-width="4.5" stroke-dasharray="4.5 7.4" stroke-dashoffset="-4.7"/><path d="M97.7 1154.9 L98.5 1154.9 L99.2 1154.9 L100.0 1154.9 L100.7 1154.9 L101.5 1154.9 L102.2 1154.9 L103.0 1154.9 L103.7 1154.9 L104.5 1154.9 L105.2 1154.9 L106.0 1154.9 L106.7 1154.9 L107.5 1154.9 L108.2 1154.8 L109.0 1154.8 L109.7 1154.8 L110.5 1154.8 L111.2 1154.8 L112.0 1154.8 L112.8 1154.8 L113.5 1154.8 L114.3 1154.8 L115.0 1154.8 L115.8 1154.8 L116.5 1154.7 L117.3 1154.7 L118.0 1154.7 L118.8 1154.7 L119.5 1154.7 L120.3 1154.7 L121.0 1154.7 L121.8 1154.6 L122.5 1154.6 L123.3 1154.6 L124.0 1154.6 L124.8 1154.6 L125.6 1154.5 L126.3 1154.5 L127.1 1154.5 L127.8 1154.5 L128.6 1154.4 L129.3 1154.4 L130.1 1154.4 L130.8 1154.3 L131.6 1154.3 L132.3 1154.3 L133.1 1154.2 L133.8 1154.2 L134.6 1154.2 L135.3 1154.1 L136.1 1154.1 L136.8 1154.0 L137.6 1154.0 L138.3 1153.9 L139.1 1153.9 L139.9 1153.9 L140.6 1153.8 L141.4 1153.8 L142.1 1153.7 L142.9 1153.7 L143.6 1153.6 L144.4 1153.5 L145.1 1153.5 L145.9 1153.4 L146.6 1153.4 L147.4 1153.3 L148.1 1153.3 L148.9 1153.2 L149.6 1153.1 L150.4 1153.1 L151.1 1153.0 L151.9 1152.9 L152.6 1152.9 L153.4 1152.8 L154.2 1152.7 L154.9 1152.7 L155.7 1152.6 L156.4 1152.5 L157.2 1152.4 L157.9 1152.4 L158.7 1152.3 L159.4 1152.2 L160.2 1152.1 L160.9 1152.1 L161.7 1152.0 L162.4 1151.9 L163.2 1151.8 L163.9 1151.7 L164.7 1151.6 L165.4 1151.6 L166.2 1151.5 L166.9 1151.4 L167.7 1151.3 L168.5 1151.2 L169.2 1151.1 L170.0 1151.0 L170.7 1150.9 L171.5 1150.8 L172.2 1150.8 L173.0 1150.7 L173.7 1150.6 L174.5 1150.5 L175.2 1150.4 L176.0 1150.3 L176.7 1150.2 L177.5 1150.1 L178.2 1150.0 L179.0 1149.9 L179.7 1149.8 L180.5 1149.7 L181.3 1149.6 L182.0 1149.5 L182.8 1149.4 L183.5 1149.3 L184.3 1149.2 L185.0 1149.1 L185.8 1149.0 L186.5 1148.9 L187.3 1148.8 L188.0 1148.6 L188.8 1148.5 L189.5 1148.4 L190.3 1148.3 L191.0 1148.2 L191.8 1148.1 L192.5 1148.0 L193.3 1147.9 L194.0 1147.8 L194.8 1147.7 L195.6 1147.5 L196.3 1147.4 L197.1 1147.3 L197.8 1147.2 L198.6 1147.1 L199.3 1147.0 L200.1 1146.8 L200.8 1146.7 L201.6 1146.6 L202.3 1146.5 L203.1 1146.4 L203.8 1146.3 L204.6 1146.1 L205.3 1146.0 L206.1 1145.9 L206.8 1145.8 L207.6 1145.6 L208.3 1145.5 L209.1 1145.4 L209.9 1145.3 L210.6 1145.1 L211.4 1145.0 L212.1 1144.9 L212.9 1144.8 L213.6 1144.6 L214.4 1144.5 L215.1 1144.4 L215.9 1144.2 L216.6 1144.1 L217.4 1144.0 L218.1 1143.9 L218.9 1143.7 L219.6 1143.6 L220.4 1143.5 L221.1 1143.3 L221.9 1143.2 L222.6 1143.1 L223.4 1142.9 L224.2 1142.8 L224.9 1142.6 L225.7 1142.5 L226.4 1142.4 L227.2 1142.2 L227.9 1142.1 L228.7 1141.9 L229.4 1141.8 L230.2 1141.7 L230.9 1141.5 L231.7 1141.4 L232.4 1141.2 L233.2 1141.1 L233.9 1140.9 L234.7 1140.8 L235.4 1140.6 L236.2 1140.5 L237.0 1140.4 L237.7 1140.2 L238.5 1140.1 L239.2 1139.9 L240.0 1139.8 L240.7 1139.6 L241.5 1139.4 L242.2 1139.3 L243.0 1139.1 L243.7 1139.0 L244.5 1138.8 L245.2 1138.7 L246.0 1138.5 L246.7 1138.4 L247.5 1138.2 L248.2 1138.0 L249.0 1137.9 L249.7 1137.7 L250.5 1137.6 L251.3 1137.4 L252.0 1137.2 L252.8 1137.1 L253.5 1136.9 L254.3 1136.7 L255.0 1136.6 L255.8 1136.4 L256.5 1136.2 L257.3 1136.1 L258.0 1135.9 L258.8 1135.7 L259.5 1135.5 L260.3 1135.4 L261.0 1135.2 L261.8 1135.0 L262.5 1134.8 L263.3 1134.7 L264.0 1134.5 L264.8 1134.3 L265.6 1134.1 L266.3 1133.9 L267.1 1133.8 L267.8 1133.6 L268.6 1133.4 L269.3 1133.2 L270.1 1133.0 L270.8 1132.8 L271.6 1132.6 L272.3 1132.5 L273.1 1132.3 L273.8 1132.1 L274.6 1131.9 L275.3 1131.7 L276.1 1131.5 L276.8 1131.3 L277.6 1131.1 L278.4 1130.9 L279.1 1130.7 L279.9 1130.5 L280.6 1130.3 L281.4 1130.1 L282.1 1129.9 L282.9 1129.7 L283.6 1129.5 L284.4 1129.3 L285.1 1129.1 L285.9 1128.9 L286.6 1128.6 L287.4 1128.4 L288.1 1128.2 L288.9 1128.0 L289.6 1127.8 L290.4 1127.6 L291.1 1127.4 L291.9 1127.1 L292.7 1126.9 L293.4 1126.7 L294.2 1126.5 L294.9 1126.2 L295.7 1126.0 L296.4 1125.8 L297.2 1125.6 L297.9 1125.3 L298.7 1125.1 L299.4 1124.9 L300.2 1124.6 L300.9 1124.4 L301.7 1124.1 L302.4 1123.9 L303.2 1123.7 L303.9 1123.4 L304.7 1123.2 L305.4 1122.9 L306.2 1122.7 L307.0 1122.4 L307.7 1122.2 L308.5 1121.9 L309.2 1121.7 L310.0 1121.4 L310.7 1121.2 L311.5 1120.9 L312.2 1120.6 L313.0 1120.4 L313.7 1120.1 L314.5 1119.8 L315.2 1119.6 L316.0 1119.3 L316.7 1119.0 L317.5 1118.8 L318.2 1118.5 L319.0 1118.2 L319.7 1117.9 L320.5 1117.6 L321.3 1117.4 L322.0 1117.1 L322.8 1116.8 L323.5 1116.5 L324.3 1116.2 L325.0 1115.9 L325.8 1115.6 L326.5 1115.3 L327.3 1115.0 L328.0 1114.7 L328.8 1114.4 L329.5 1114.1 L330.3 1113.8 L331.0 1113.5 L331.8 1113.2 L332.5 1112.9 L333.3 1112.6 L334.1 1112.2 L334.8 1111.9 L335.6 1111.6 L336.3 1111.3 L337.1 1110.9 L337.8 1110.6 L338.6 1110.3 L339.3 1110.0 L340.1 1109.6 L340.8 1109.3 L341.6 1108.9 L342.3 1108.6 L343.1 1108.2 L343.8 1107.9 L344.6 1107.5 L345.3 1107.2 L346.1 1106.8 L346.8 1106.5 L347.6 1106.1 L348.4 1105.8 L349.1 1105.4 L349.9 1105.0 L350.6 1104.6 L351.4 1104.3 L352.1 1103.9 L352.9 1103.5 L353.6 1103.1 L354.4 1102.8 L355.1 1102.4 L355.9 1102.0 L356.6 1101.6 L357.4 1101.2 L358.1 1100.8 L358.9 1100.4 L359.6 1100.0 L360.4 1099.6 L361.1 1099.2 L361.9 1098.7 L362.7 1098.3 L363.4 1097.9 L364.2 1097.5 L364.9 1097.1 L365.7 1096.6 L366.4 1096.2 L367.2 1095.8 L367.9 1095.3 L368.7 1094.9 L369.4 1094.4 L370.2 1094.0 L370.9 1093.5 L371.7 1093.1 L372.4 1092.6 L373.2 1092.2 L373.9 1091.7 L374.7 1091.2 L375.5 1090.7 L376.2 1090.3 L377.0 1089.8 L377.7 1089.3 L378.5 1088.8 L379.2 1088.3 L380.0 1087.8 L380.7 1087.3 L381.5 1086.8 L382.2 1086.3 L383.0 1085.8 L383.7 1085.3 L384.5 1084.8 L385.2 1084.3 L386.0 1083.7 L386.7 1083.2 L387.5 1082.7 L388.2 1082.1 L389.0 1081.6 L389.8 1081.1 L390.5 1080.5 L391.3 1080.0 L392.0 1079.4 L392.8 1078.8 L393.5 1078.3 L394.3 1077.7 L395.0 1077.1 L395.8 1076.6 L396.5 1076.0 L397.3 1075.4 L398.0 1074.8 L398.8 1074.2 L399.5 1073.6 L400.3 1073.0 L401.0 1072.4 L401.8 1071.8 L402.5 1071.2 L403.3 1070.6 L404.1 1069.9 L404.8 1069.3 L405.6 1068.7 L406.3 1068.0 L407.1 1067.4 L407.8 1066.7 L408.6 1066.1 L409.3 1065.4 L410.1 1064.8 L410.8 1064.1 L411.6 1063.4 L412.3 1062.8 L413.1 1062.1 L413.8 1061.4 L414.6 1060.7 L415.3 1060.0 L416.1 1059.3 L416.8 1058.6 L417.6 1057.9 L418.4 1057.2 L419.1 1056.5 L419.9 1055.7 L420.6 1055.0 L421.4 1054.3 L422.1 1053.5 L422.9 1052.8 L423.6 1052.1 L424.4 1051.3 L425.1 1050.5 L425.9 1049.8 L426.6 1049.0 L427.4 1048.2 L428.1 1047.5 L428.9 1046.7 L429.6 1045.9 L430.4 1045.1 L431.2 1044.3 L431.9 1043.5 L432.7 1042.7 L433.4 1041.9 L434.2 1041.1 L434.9 1040.2 L435.7 1039.4 L436.4 1038.6 L437.2 1037.7 L437.9 1036.9 L438.7 1036.1 L439.4 1035.2 L440.2 1034.3 L440.9 1033.5 L441.7 1032.6 L442.4 1031.7 L443.2 1030.9 L443.9 1030.0 L444.7 1029.1 L445.5 1028.2 L446.2 1027.3 L447.0 1026.4 L447.7 1025.5 L448.5 1024.6 L449.2 1023.7 L450.0 1022.8 L450.7 1021.9 L451.5 1020.9 L452.2 1020.0 L453.0 1019.1 L453.7 1018.1 L454.5 1017.2 L455.2 1016.2 L456.0 1015.3 L456.7 1014.3 L457.5 1013.4 L458.2 1012.4 L459.0 1011.5 L459.8 1010.5 L460.5 1009.5 L461.3 1008.5 L462.0 1007.6 L462.8 1006.6 L463.5 1005.6 L464.3 1004.6 L465.0 1003.6 L465.8 1002.6 L466.5 1001.6 L467.3 1000.6 L468.0 999.6 L468.8 998.6 L469.5 997.6 L470.3 996.6 L471.0 995.6 L471.8 994.6 L472.5 993.6 L473.3 992.6 L474.1 991.5 L474.8 990.5 L475.6 989.5 L476.3 988.5 L477.1 987.5 L477.8 986.4 L478.6 985.4 L479.3 984.4 L480.1 983.4 L480.8 982.4 L481.6 981.3 L482.3 980.3 L483.1 979.3 L483.8 978.3 L484.6 977.3 L485.3 976.2 L486.1 975.2 L486.9 974.2 L487.6 973.2 L488.4 972.2 L489.1 971.2 L489.9 970.2 L490.6 969.2 L491.4 968.2 L492.1 967.2 L492.9 966.2 L493.6 965.2 L494.4 964.2 L495.1 963.2 L495.9 962.3 L496.6 961.3 L497.4 960.3 L498.1 959.4 L498.9 958.4 L499.6 957.5 L500.4 956.5 L501.2 955.6 L501.9 954.6 L502.7 953.7 L503.4 952.8 L504.2 951.9 L504.9 951.0 L505.7 950.1 L506.4 949.2 L507.2 948.4 L507.9 947.5 L508.7 946.6 L509.4 945.8 L510.2 944.9 L510.9 944.1 L511.7 943.3 L512.4 942.5 L513.2 941.7 L513.9 940.9 L514.7 940.1 L515.5 939.4 L516.2 938.6 L517.0 937.9 L517.7 937.2 L518.5 936.5 L519.2 935.8 L520.0 935.1 L520.7 934.4 L521.5 933.8 L522.2 933.1 L523.0 932.5 L523.7 931.9 L524.5 931.3 L525.2 930.7 L526.0 930.1 L526.7 929.6 L527.5 929.0 L528.3 928.5 L529.0 928.0 L529.8 927.5 L530.5 927.1 L531.3 926.6 L532.0 926.2 L532.8 925.8 L533.5 925.4 L534.3 925.0 L535.0 924.6 L535.8 924.3 L536.5 923.9 L537.3 923.6 L538.0 923.3 L538.8 923.1 L539.5 922.8 L540.3 922.6 L541.0 922.4 L541.8 922.2 L542.6 922.0 L543.3 921.8 L544.1 921.7 L544.8 921.6 L545.6 921.5 L546.3 921.4 L547.1 921.4 L547.8 921.3 L548.6 921.3 L549.3 921.3 L550.1 921.3 L550.8 921.4 L551.6 921.4 L552.3 921.5 L553.1 921.6 L553.8 921.7 L554.6 921.8 L555.3 922.0 L556.1 922.2 L556.9 922.4 L557.6 922.6 L558.4 922.8 L559.1 923.1 L559.9 923.3 L560.6 923.6 L561.4 923.9 L562.1 924.3 L562.9 924.6 L563.6 925.0 L564.4 925.4 L565.1 925.8 L565.9 926.2 L566.6 926.6 L567.4 927.1 L568.1 927.5 L568.9 928.0 L569.6 928.5 L570.4 929.0 L571.2 929.6 L571.9 930.1 L572.7 930.7 L573.4 931.3 L574.2 931.9 L574.9 932.5 L575.7 933.1 L576.4 933.8 L577.2 934.4 L577.9 935.1 L578.7 935.8 L579.4 936.5 L580.2 937.2 L580.9 937.9 L581.7 938.6 L582.4 939.4 L583.2 940.1 L584.0 940.9 L584.7 941.7 L585.5 942.5 L586.2 943.3 L587.0 944.1 L587.7 944.9 L588.5 945.8 L589.2 946.6 L590.0 947.5 L590.7 948.4 L591.5 949.2 L592.2 950.1 L593.0 951.0 L593.7 951.9 L594.5 952.8 L595.2 953.7 L596.0 954.6 L596.7 955.6 L597.5 956.5 L598.3 957.5 L599.0 958.4 L599.8 959.4 L600.5 960.3 L601.3 961.3 L602.0 962.3 L602.8 963.2 L603.5 964.2 L604.3 965.2 L605.0 966.2 L605.8 967.2 L606.5 968.2 L607.3 969.2 L608.0 970.2 L608.8 971.2 L609.5 972.2 L610.3 973.2 L611.0 974.2 L611.8 975.2 L612.6 976.2 L613.3 977.3 L614.1 978.3 L614.8 979.3 L615.6 980.3 L616.3 981.3 L617.1 982.4 L617.8 983.4 L618.6 984.4 L619.3 985.4 L620.1 986.4 L620.8 987.5 L621.6 988.5 L622.3 989.5 L623.1 990.5 L623.8 991.5 L624.6 992.6 L625.4 993.6 L626.1 994.6 L626.9 995.6 L627.6 996.6 L628.4 997.6 L629.1 998.6 L629.9 999.6 L630.6 1000.6 L631.4 1001.6 L632.1 1002.6 L632.9 1003.6 L633.6 1004.6 L634.4 1005.6 L635.1 1006.6 L635.9 1007.6 L636.6 1008.5 L637.4 1009.5 L638.1 1010.5 L638.9 1011.5 L639.7 1012.4 L640.4 1013.4 L641.2 1014.3 L641.9 1015.3 L642.7 1016.2 L643.4 1017.2 L644.2 1018.1 L644.9 1019.1 L645.7 1020.0 L646.4 1020.9 L647.2 1021.9 L647.9 1022.8 L648.7 1023.7 L649.4 1024.6 L650.2 1025.5 L650.9 1026.4 L651.7 1027.3 L652.4 1028.2 L653.2 1029.1 L654.0 1030.0 L654.7 1030.9 L655.5 1031.7 L656.2 1032.6 L657.0 1033.5 L657.7 1034.3 L658.5 1035.2 L659.2 1036.1 L660.0 1036.9 L660.7 1037.7 L661.5 1038.6 L662.2 1039.4 L663.0 1040.2 L663.7 1041.1 L664.5 1041.9 L665.2 1042.7 L666.0 1043.5 L666.7 1044.3 L667.5 1045.1 L668.3 1045.9 L669.0 1046.7 L669.8 1047.5 L670.5 1048.2 L671.3 1049.0 L672.0 1049.8 L672.8 1050.5 L673.5 1051.3 L674.3 1052.1 L675.0 1052.8 L675.8 1053.5 L676.5 1054.3 L677.3 1055.0 L678.0 1055.7 L678.8 1056.5 L679.5 1057.2 L680.3 1057.9 L681.1 1058.6 L681.8 1059.3 L682.6 1060.0 L683.3 1060.7 L684.1 1061.4 L684.8 1062.1 L685.6 1062.8 L686.3 1063.4 L687.1 1064.1 L687.8 1064.8 L688.6 1065.4 L689.3 1066.1 L690.1 1066.7 L690.8 1067.4 L691.6 1068.0 L692.3 1068.7 L693.1 1069.3 L693.8 1069.9 L694.6 1070.6 L695.4 1071.2 L696.1 1071.8 L696.9 1072.4 L697.6 1073.0 L698.4 1073.6 L699.1 1074.2 L699.9 1074.8 L700.6 1075.4 L701.4 1076.0 L702.1 1076.6 L702.9 1077.1 L703.6 1077.7 L704.4 1078.3 L705.1 1078.8 L705.9 1079.4 L706.6 1080.0 L707.4 1080.5 L708.1 1081.1 L708.9 1081.6 L709.7 1082.1 L710.4 1082.7 L711.2 1083.2 L711.9 1083.7 L712.7 1084.3 L713.4 1084.8 L714.2 1085.3 L714.9 1085.8 L715.7 1086.3 L716.4 1086.8 L717.2 1087.3 L717.9 1087.8 L718.7 1088.3 L719.4 1088.8 L720.2 1089.3 L720.9 1089.8 L721.7 1090.3 L722.4 1090.7 L723.2 1091.2 L724.0 1091.7 L724.7 1092.2 L725.5 1092.6 L726.2 1093.1 L727.0 1093.5 L727.7 1094.0 L728.5 1094.4 L729.2 1094.9 L730.0 1095.3 L730.7 1095.8 L731.5 1096.2 L732.2 1096.6 L733.0 1097.1 L733.7 1097.5 L734.5 1097.9 L735.2 1098.3 L736.0 1098.7 L736.8 1099.2 L737.5 1099.6 L738.3 1100.0 L739.0 1100.4 L739.8 1100.8 L740.5 1101.2 L741.3 1101.6 L742.0 1102.0 L742.8 1102.4 L743.5 1102.8 L744.3 1103.1 L745.0 1103.5 L745.8 1103.9 L746.5 1104.3 L747.3 1104.6 L748.0 1105.0 L748.8 1105.4 L749.5 1105.8 L750.3 1106.1 L751.1 1106.5 L751.8 1106.8 L752.6 1107.2 L753.3 1107.5 L754.1 1107.9 L754.8 1108.2 L755.6 1108.6 L756.3 1108.9 L757.1 1109.3 L757.8 1109.6 L758.6 1110.0 L759.3 1110.3 L760.1 1110.6 L760.8 1110.9 L761.6 1111.3 L762.3 1111.6 L763.1 1111.9 L763.8 1112.2 L764.6 1112.6 L765.4 1112.9 L766.1 1113.2 L766.9 1113.5 L767.6 1113.8 L768.4 1114.1 L769.1 1114.4 L769.9 1114.7 L770.6 1115.0 L771.4 1115.3 L772.1 1115.6 L772.9 1115.9 L773.6 1116.2 L774.4 1116.5 L775.1 1116.8 L775.9 1117.1 L776.6 1117.4 L777.4 1117.6 L778.2 1117.9 L778.9 1118.2 L779.7 1118.5 L780.4 1118.8 L781.2 1119.0 L781.9 1119.3 L782.7 1119.6 L783.4 1119.8 L784.2 1120.1 L784.9 1120.4 L785.7 1120.6 L786.4 1120.9 L787.2 1121.2 L787.9 1121.4 L788.7 1121.7 L789.4 1121.9 L790.2 1122.2 L790.9 1122.4 L791.7 1122.7 L792.5 1122.9 L793.2 1123.2 L794.0 1123.4 L794.7 1123.7 L795.5 1123.9 L796.2 1124.1 L797.0 1124.4 L797.7 1124.6 L798.5 1124.9 L799.2 1125.1 L800.0 1125.3 L800.7 1125.6 L801.5 1125.8 L802.2 1126.0 L803.0 1126.2 L803.7 1126.5 L804.5 1126.7 L805.2 1126.9 L806.0 1127.1 L806.8 1127.4 L807.5 1127.6 L808.3 1127.8 L809.0 1128.0 L809.8 1128.2 L810.5 1128.4 L811.3 1128.6 L812.0 1128.9 L812.8 1129.1 L813.5 1129.3 L814.3 1129.5 L815.0 1129.7 L815.8 1129.9 L816.5 1130.1 L817.3 1130.3 L818.0 1130.5 L818.8 1130.7 L819.5 1130.9 L820.3 1131.1 L821.1 1131.3 L821.8 1131.5 L822.6 1131.7 L823.3 1131.9 L824.1 1132.1 L824.8 1132.3 L825.6 1132.5 L826.3 1132.6 L827.1 1132.8 L827.8 1133.0 L828.6 1133.2 L829.3 1133.4 L830.1 1133.6 L830.8 1133.8 L831.6 1133.9 L832.3 1134.1 L833.1 1134.3 L833.9 1134.5 L834.6 1134.7 L835.4 1134.8 L836.1 1135.0 L836.9 1135.2 L837.6 1135.4 L838.4 1135.5 L839.1 1135.7 L839.9 1135.9 L840.6 1136.1 L841.4 1136.2 L842.1 1136.4 L842.9 1136.6 L843.6 1136.7 L844.4 1136.9 L845.1 1137.1 L845.9 1137.2 L846.6 1137.4 L847.4 1137.6 L848.2 1137.7 L848.9 1137.9 L849.7 1138.0 L850.4 1138.2 L851.2 1138.4 L851.9 1138.5 L852.7 1138.7 L853.4 1138.8 L854.2 1139.0 L854.9 1139.1 L855.7 1139.3 L856.4 1139.4 L857.2 1139.6 L857.9 1139.8 L858.7 1139.9 L859.4 1140.1 L860.2 1140.2 L860.9 1140.4 L861.7 1140.5 L862.5 1140.6 L863.2 1140.8 L864.0 1140.9 L864.7 1141.1 L865.5 1141.2 L866.2 1141.4 L867.0 1141.5 L867.7 1141.7 L868.5 1141.8 L869.2 1141.9 L870.0 1142.1 L870.7 1142.2 L871.5 1142.4 L872.2 1142.5 L873.0 1142.6 L873.7 1142.8 L874.5 1142.9 L875.3 1143.1 L876.0 1143.2 L876.8 1143.3 L877.5 1143.5 L878.3 1143.6 L879.0 1143.7 L879.8 1143.9 L880.5 1144.0 L881.3 1144.1 L882.0 1144.2 L882.8 1144.4 L883.5 1144.5 L884.3 1144.6 L885.0 1144.8 L885.8 1144.9 L886.5 1145.0 L887.3 1145.1 L888.0 1145.3 L888.8 1145.4 L889.6 1145.5 L890.3 1145.6 L891.1 1145.8 L891.8 1145.9 L892.6 1146.0 L893.3 1146.1 L894.1 1146.3 L894.8 1146.4 L895.6 1146.5 L896.3 1146.6 L897.1 1146.7 L897.8 1146.8 L898.6 1147.0 L899.3 1147.1 L900.1 1147.2 L900.8 1147.3 L901.6 1147.4 L902.3 1147.5 L903.1 1147.7 L903.9 1147.8 L904.6 1147.9 L905.4 1148.0 L906.1 1148.1 L906.9 1148.2 L907.6 1148.3 L908.4 1148.4 L909.1 1148.5 L909.9 1148.6 L910.6 1148.8 L911.4 1148.9 L912.1 1149.0 L912.9 1149.1 L913.6 1149.2 L914.4 1149.3 L915.1 1149.4 L915.9 1149.5 L916.6 1149.6 L917.4 1149.7 L918.2 1149.8 L918.9 1149.9 L919.7 1150.0 L920.4 1150.1 L921.2 1150.2 L921.9 1150.3 L922.7 1150.4 L923.4 1150.5 L924.2 1150.6 L924.9 1150.7 L925.7 1150.8 L926.4 1150.8 L927.2 1150.9 L927.9 1151.0 L928.7 1151.1 L929.4 1151.2 L930.2 1151.3 L931.0 1151.4 L931.7 1151.5 L932.5 1151.6 L933.2 1151.6 L934.0 1151.7 L934.7 1151.8 L935.5 1151.9 L936.2 1152.0 L937.0 1152.1 L937.7 1152.1 L938.5 1152.2 L939.2 1152.3 L940.0 1152.4 L940.7 1152.4 L941.5 1152.5 L942.2 1152.6 L943.0 1152.7 L943.7 1152.7 L944.5 1152.8 L945.3 1152.9 L946.0 1152.9 L946.8 1153.0 L947.5 1153.1 L948.3 1153.1 L949.0 1153.2 L949.8 1153.3 L950.5 1153.3 L951.3 1153.4 L952.0 1153.4 L952.8 1153.5 L953.5 1153.5 L954.3 1153.6 L955.0 1153.7 L955.8 1153.7 L956.5 1153.8 L957.3 1153.8 L958.0 1153.9 L958.8 1153.9 L959.6 1153.9 L960.3 1154.0 L961.1 1154.0 L961.8 1154.1 L962.6 1154.1 L963.3 1154.2 L964.1 1154.2 L964.8 1154.2 L965.6 1154.3 L966.3 1154.3 L967.1 1154.3 L967.8 1154.4 L968.6 1154.4 L969.3 1154.4 L970.1 1154.5 L970.8 1154.5 L971.6 1154.5 L972.3 1154.5 L973.1 1154.6 L973.9 1154.6 L974.6 1154.6 L975.4 1154.6 L976.1 1154.6 L976.9 1154.7 L977.6 1154.7 L978.4 1154.7 L979.1 1154.7 L979.9 1154.7 L980.6 1154.7 L981.4 1154.7 L982.1 1154.8 L982.9 1154.8 L983.6 1154.8 L984.4 1154.8 L985.1 1154.8 L985.9 1154.8 L986.7 1154.8 L987.4 1154.8 L988.2 1154.8 L988.9 1154.8 L989.7 1154.8 L990.4 1154.9 L991.2 1154.9 L991.9 1154.9 L992.7 1154.9 L993.4 1154.9 L994.2 1154.9 L994.9 1154.9 L995.7 1154.9 L996.4 1154.9 L997.2 1154.9 L997.9 1154.9 L998.7 1154.9 L999.4 1154.9 L1000.2 1154.9" fill="none" stroke="#0096ff" stroke-width="4.5" stroke-dasharray="28.7 7.2 4.5 7.2" stroke-dashoffset="-2.6"/><path d="M97.7 1154.9 L98.5 1154.9 L99.2 1154.9 L100.0 1154.9 L100.7 1154.9 L101.5 1154.9 L102.2 1154.9 L103.0 1154.8 L103.7 1154.8 L104.5 1154.8 L105.2 1154.8 L106.0 1154.8 L106.7 1154.8 L107.5 1154.8 L108.2 1154.8 L109.0 1154.8 L109.7 1154.8 L110.5 1154.8 L111.2 1154.7 L112.0 1154.7 L112.8 1154.7 L113.5 1154.7 L114.3 1154.7 L115.0 1154.7 L115.8 1154.7 L116.5 1154.6 L117.3 1154.6 L118.0 1154.6 L118.8 1154.6 L119.5 1154.6 L120.3 1154.5 L121.0 1154.5 L121.8 1154.5 L122.5 1154.5 L123.3 1154.4 L124.0 1154.4 L124.8 1154.4 L125.6 1154.3 L126.3 1154.3 L127.1 1154.3 L127.8 1154.2 L128.6 1154.2 L129.3 1154.1 L130.1 1154.1 L130.8 1154.1 L131.6 1154.0 L132.3 1154.0 L133.1 1153.9 L133.8 1153.9 L134.6 1153.8 L135.3 1153.8 L136.1 1153.7 L136.8 1153.7 L137.6 1153.6 L138.3 1153.6 L139.1 1153.5 L139.9 1153.5 L140.6 1153.4 L141.4 1153.3 L142.1 1153.3 L142.9 1153.2 L143.6 1153.2 L144.4 1153.1 L145.1 1153.0 L145.9 1153.0 L146.6 1152.9 L147.4 1152.8 L148.1 1152.8 L148.9 1152.7 L149.6 1152.6 L150.4 1152.5 L151.1 1152.5 L151.9 1152.4 L152.6 1152.3 L153.4 1152.2 L154.2 1152.1 L154.9 1152.1 L155.7 1152.0 L156.4 1151.9 L157.2 1151.8 L157.9 1151.7 L158.7 1151.6 L159.4 1151.6 L160.2 1151.5 L160.9 1151.4 L161.7 1151.3 L162.4 1151.2 L163.2 1151.1 L163.9 1151.0 L164.7 1150.9 L165.4 1150.8 L166.2 1150.7 L166.9 1150.6 L167.7 1150.5 L168.5 1150.4 L169.2 1150.4 L170.0 1150.3 L170.7 1150.2 L171.5 1150.1 L172.2 1150.0 L173.0 1149.8 L173.7 1149.7 L174.5 1149.6 L175.2 1149.5 L176.0 1149.4 L176.7 1149.3 L177.5 1149.2 L178.2 1149.1 L179.0 1149.0 L179.7 1148.9 L180.5 1148.8 L181.3 1148.7 L182.0 1148.6 L182.8 1148.5 L183.5 1148.3 L184.3 1148.2 L185.0 1148.1 L185.8 1148.0 L186.5 1147.9 L187.3 1147.8 L188.0 1147.7 L188.8 1147.5 L189.5 1147.4 L190.3 1147.3 L191.0 1147.2 L191.8 1147.1 L192.5 1146.9 L193.3 1146.8 L194.0 1146.7 L194.8 1146.6 L195.6 1146.5 L196.3 1146.3 L197.1 1146.2 L197.8 1146.1 L198.6 1146.0 L199.3 1145.8 L200.1 1145.7 L200.8 1145.6 L201.6 1145.5 L202.3 1145.3 L203.1 1145.2 L203.8 1145.1 L204.6 1144.9 L205.3 1144.8 L206.1 1144.7 L206.8 1144.5 L207.6 1144.4 L208.3 1144.3 L209.1 1144.1 L209.9 1144.0 L210.6 1143.9 L211.4 1143.7 L212.1 1143.6 L212.9 1143.5 L213.6 1143.3 L214.4 1143.2 L215.1 1143.0 L215.9 1142.9 L216.6 1142.8 L217.4 1142.6 L218.1 1142.5 L218.9 1142.3 L219.6 1142.2 L220.4 1142.1 L221.1 1141.9 L221.9 1141.8 L222.6 1141.6 L223.4 1141.5 L224.2 1141.3 L224.9 1141.2 L225.7 1141.0 L226.4 1140.9 L227.2 1140.7 L227.9 1140.6 L228.7 1140.4 L229.4 1140.3 L230.2 1140.1 L230.9 1140.0 L231.7 1139.8 L232.4 1139.6 L233.2 1139.5 L233.9 1139.3 L234.7 1139.2 L235.4 1139.0 L236.2 1138.8 L237.0 1138.7 L237.7 1138.5 L238.5 1138.4 L239.2 1138.2 L240.0 1138.0 L240.7 1137.9 L241.5 1137.7 L242.2 1137.5 L243.0 1137.4 L243.7 1137.2 L244.5 1137.0 L245.2 1136.9 L246.0 1136.7 L246.7 1136.5 L247.5 1136.3 L248.2 1136.2 L249.0 1136.0 L249.7 1135.8 L250.5 1135.6 L251.3 1135.5 L252.0 1135.3 L252.8 1135.1 L253.5 1134.9 L254.3 1134.7 L255.0 1134.5 L255.8 1134.4 L256.5 1134.2 L257.3 1134.0 L258.0 1133.8 L258.8 1133.6 L259.5 1133.4 L260.3 1133.2 L261.0 1133.0 L261.8 1132.8 L262.5 1132.6 L263.3 1132.4 L264.0 1132.3 L264.8 1132.1 L265.6 1131.9 L266.3 1131.7 L267.1 1131.5 L267.8 1131.2 L268.6 1131.0 L269.3 1130.8 L270.1 1130.6 L270.8 1130.4 L271.6 1130.2 L272.3 1130.0 L273.1 1129.8 L273.8 1129.6 L274.6 1129.4 L275.3 1129.2 L276.1 1128.9 L276.8 1128.7 L277.6 1128.5 L278.4 1128.3 L279.1 1128.1 L279.9 1127.8 L280.6 1127.6 L281.4 1127.4 L282.1 1127.1 L282.9 1126.9 L283.6 1126.7 L284.4 1126.5 L285.1 1126.2 L285.9 1126.0 L286.6 1125.7 L287.4 1125.5 L288.1 1125.3 L288.9 1125.0 L289.6 1124.8 L290.4 1124.5 L291.1 1124.3 L291.9 1124.0 L292.7 1123.8 L293.4 1123.5 L294.2 1123.3 L294.9 1123.0 L295.7 1122.8 L296.4 1122.5 L297.2 1122.2 L297.9 1122.0 L298.7 1121.7 L299.4 1121.5 L300.2 1121.2 L300.9 1120.9 L301.7 1120.6 L302.4 1120.4 L303.2 1120.1 L303.9 1119.8 L304.7 1119.5 L305.4 1119.3 L306.2 1119.0 L307.0 1118.7 L307.7 1118.4 L308.5 1118.1 L309.2 1117.8 L310.0 1117.5 L310.7 1117.2 L311.5 1116.9 L312.2 1116.6 L313.0 1116.3 L313.7 1116.0 L314.5 1115.7 L315.2 1115.4 L316.0 1115.1 L316.7 1114.8 L317.5 1114.5 L318.2 1114.1 L319.0 1113.8 L319.7 1113.5 L320.5 1113.2 L321.3 1112.8 L322.0 1112.5 L322.8 1112.2 L323.5 1111.8 L324.3 1111.5 L325.0 1111.2 L325.8 1110.8 L326.5 1110.5 L327.3 1110.1 L328.0 1109.8 L328.8 1109.4 L329.5 1109.1 L330.3 1108.7 L331.0 1108.3 L331.8 1108.0 L332.5 1107.6 L333.3 1107.2 L334.1 1106.8 L334.8 1106.5 L335.6 1106.1 L336.3 1105.7 L337.1 1105.3 L337.8 1104.9 L338.6 1104.5 L339.3 1104.1 L340.1 1103.7 L340.8 1103.3 L341.6 1102.9 L342.3 1102.5 L343.1 1102.1 L343.8 1101.7 L344.6 1101.3 L345.3 1100.9 L346.1 1100.4 L346.8 1100.0 L347.6 1099.6 L348.4 1099.1 L349.1 1098.7 L349.9 1098.2 L350.6 1097.8 L351.4 1097.4 L352.1 1096.9 L352.9 1096.4 L353.6 1096.0 L354.4 1095.5 L355.1 1095.0 L355.9 1094.6 L356.6 1094.1 L357.4 1093.6 L358.1 1093.1 L358.9 1092.6 L359.6 1092.1 L360.4 1091.6 L361.1 1091.1 L361.9 1090.6 L362.7 1090.1 L363.4 1089.6 L364.2 1089.1 L364.9 1088.6 L365.7 1088.0 L366.4 1087.5 L367.2 1087.0 L367.9 1086.4 L368.7 1085.9 L369.4 1085.3 L370.2 1084.8 L370.9 1084.2 L371.7 1083.6 L372.4 1083.0 L373.2 1082.5 L373.9 1081.9 L374.7 1081.3 L375.5 1080.7 L376.2 1080.1 L377.0 1079.5 L377.7 1078.9 L378.5 1078.3 L379.2 1077.7 L380.0 1077.0 L380.7 1076.4 L381.5 1075.8 L382.2 1075.1 L383.0 1074.5 L383.7 1073.8 L384.5 1073.2 L385.2 1072.5 L386.0 1071.8 L386.7 1071.2 L387.5 1070.5 L388.2 1069.8 L389.0 1069.1 L389.8 1068.4 L390.5 1067.7 L391.3 1067.0 L392.0 1066.3 L392.8 1065.5 L393.5 1064.8 L394.3 1064.1 L395.0 1063.3 L395.8 1062.6 L396.5 1061.8 L397.3 1061.0 L398.0 1060.3 L398.8 1059.5 L399.5 1058.7 L400.3 1057.9 L401.0 1057.1 L401.8 1056.3 L402.5 1055.5 L403.3 1054.7 L404.1 1053.8 L404.8 1053.0 L405.6 1052.2 L406.3 1051.3 L407.1 1050.4 L407.8 1049.6 L408.6 1048.7 L409.3 1047.8 L410.1 1046.9 L410.8 1046.0 L411.6 1045.1 L412.3 1044.2 L413.1 1043.3 L413.8 1042.3 L414.6 1041.4 L415.3 1040.4 L416.1 1039.5 L416.8 1038.5 L417.6 1037.5 L418.4 1036.6 L419.1 1035.6 L419.9 1034.6 L420.6 1033.6 L421.4 1032.5 L422.1 1031.5 L422.9 1030.5 L423.6 1029.4 L424.4 1028.4 L425.1 1027.3 L425.9 1026.2 L426.6 1025.1 L427.4 1024.0 L428.1 1022.9 L428.9 1021.8 L429.6 1020.7 L430.4 1019.6 L431.2 1018.4 L431.9 1017.3 L432.7 1016.1 L433.4 1014.9 L434.2 1013.8 L434.9 1012.6 L435.7 1011.4 L436.4 1010.2 L437.2 1008.9 L437.9 1007.7 L438.7 1006.5 L439.4 1005.2 L440.2 1004.0 L440.9 1002.7 L441.7 1001.4 L442.4 1000.1 L443.2 998.8 L443.9 997.5 L444.7 996.2 L445.5 994.8 L446.2 993.5 L447.0 992.1 L447.7 990.8 L448.5 989.4 L449.2 988.0 L450.0 986.6 L450.7 985.2 L451.5 983.8 L452.2 982.3 L453.0 980.9 L453.7 979.4 L454.5 978.0 L455.2 976.5 L456.0 975.0 L456.7 973.5 L457.5 972.0 L458.2 970.5 L459.0 969.0 L459.8 967.5 L460.5 965.9 L461.3 964.4 L462.0 962.8 L462.8 961.2 L463.5 959.6 L464.3 958.0 L465.0 956.4 L465.8 954.8 L466.5 953.2 L467.3 951.6 L468.0 949.9 L468.8 948.3 L469.5 946.6 L470.3 945.0 L471.0 943.3 L471.8 941.6 L472.5 939.9 L473.3 938.2 L474.1 936.5 L474.8 934.8 L475.6 933.1 L476.3 931.4 L477.1 929.6 L477.8 927.9 L478.6 926.1 L479.3 924.4 L480.1 922.6 L480.8 920.9 L481.6 919.1 L482.3 917.3 L483.1 915.5 L483.8 913.7 L484.6 912.0 L485.3 910.2 L486.1 908.4 L486.9 906.6 L487.6 904.8 L488.4 903.0 L489.1 901.2 L489.9 899.4 L490.6 897.6 L491.4 895.8 L492.1 894.0 L492.9 892.2 L493.6 890.4 L494.4 888.6 L495.1 886.8 L495.9 885.0 L496.6 883.2 L497.4 881.4 L498.1 879.6 L498.9 877.8 L499.6 876.0 L500.4 874.3 L501.2 872.5 L501.9 870.8 L502.7 869.0 L503.4 867.3 L504.2 865.5 L504.9 863.8 L505.7 862.1 L506.4 860.4 L507.2 858.7 L507.9 857.1 L508.7 855.4 L509.4 853.8 L510.2 852.1 L510.9 850.5 L511.7 848.9 L512.4 847.3 L513.2 845.8 L513.9 844.2 L514.7 842.7 L515.5 841.2 L516.2 839.7 L517.0 838.2 L517.7 836.8 L518.5 835.3 L519.2 833.9 L520.0 832.6 L520.7 831.2 L521.5 829.9 L522.2 828.6 L523.0 827.3 L523.7 826.1 L524.5 824.8 L525.2 823.6 L526.0 822.5 L526.7 821.3 L527.5 820.2 L528.3 819.2 L529.0 818.1 L529.8 817.1 L530.5 816.2 L531.3 815.2 L532.0 814.3 L532.8 813.5 L533.5 812.6 L534.3 811.8 L535.0 811.1 L535.8 810.4 L536.5 809.7 L537.3 809.0 L538.0 808.4 L538.8 807.8 L539.5 807.3 L540.3 806.8 L541.0 806.4 L541.8 806.0 L542.6 805.6 L543.3 805.3 L544.1 805.0 L544.8 804.7 L545.6 804.5 L546.3 804.3 L547.1 804.2 L547.8 804.1 L548.6 804.1 L549.3 804.1 L550.1 804.1 L550.8 804.2 L551.6 804.3 L552.3 804.5 L553.1 804.7 L553.8 805.0 L554.6 805.3 L555.3 805.6 L556.1 806.0 L556.9 806.4 L557.6 806.8 L558.4 807.3 L559.1 807.8 L559.9 808.4 L560.6 809.0 L561.4 809.7 L562.1 810.4 L562.9 811.1 L563.6 811.8 L564.4 812.6 L565.1 813.5 L565.9 814.3 L566.6 815.2 L567.4 816.2 L568.1 817.1 L568.9 818.1 L569.6 819.2 L570.4 820.2 L571.2 821.3 L571.9 822.5 L572.7 823.6 L573.4 824.8 L574.2 826.1 L574.9 827.3 L575.7 828.6 L576.4 829.9 L577.2 831.2 L577.9 832.6 L578.7 833.9 L579.4 835.3 L580.2 836.8 L580.9 838.2 L581.7 839.7 L582.4 841.2 L583.2 842.7 L584.0 844.2 L584.7 845.8 L585.5 847.3 L586.2 848.9 L587.0 850.5 L587.7 852.1 L588.5 853.8 L589.2 855.4 L590.0 857.1 L590.7 858.7 L591.5 860.4 L592.2 862.1 L593.0 863.8 L593.7 865.5 L594.5 867.3 L595.2 869.0 L596.0 870.8 L596.7 872.5 L597.5 874.3 L598.3 876.0 L599.0 877.8 L599.8 879.6 L600.5 881.4 L601.3 883.2 L602.0 885.0 L602.8 886.8 L603.5 888.6 L604.3 890.4 L605.0 892.2 L605.8 894.0 L606.5 895.8 L607.3 897.6 L608.0 899.4 L608.8 901.2 L609.5 903.0 L610.3 904.8 L611.0 906.6 L611.8 908.4 L612.6 910.2 L613.3 912.0 L614.1 913.7 L614.8 915.5 L615.6 917.3 L616.3 919.1 L617.1 920.9 L617.8 922.6 L618.6 924.4 L619.3 926.1 L620.1 927.9 L620.8 929.6 L621.6 931.4 L622.3 933.1 L623.1 934.8 L623.8 936.5 L624.6 938.2 L625.4 939.9 L626.1 941.6 L626.9 943.3 L627.6 945.0 L628.4 946.6 L629.1 948.3 L629.9 949.9 L630.6 951.6 L631.4 953.2 L632.1 954.8 L632.9 956.4 L633.6 958.0 L634.4 959.6 L635.1 961.2 L635.9 962.8 L636.6 964.4 L637.4 965.9 L638.1 967.5 L638.9 969.0 L639.7 970.5 L640.4 972.0 L641.2 973.5 L641.9 975.0 L642.7 976.5 L643.4 978.0 L644.2 979.4 L644.9 980.9 L645.7 982.3 L646.4 983.8 L647.2 985.2 L647.9 986.6 L648.7 988.0 L649.4 989.4 L650.2 990.8 L650.9 992.1 L651.7 993.5 L652.4 994.8 L653.2 996.2 L654.0 997.5 L654.7 998.8 L655.5 1000.1 L656.2 1001.4 L657.0 1002.7 L657.7 1004.0 L658.5 1005.2 L659.2 1006.5 L660.0 1007.7 L660.7 1008.9 L661.5 1010.2 L662.2 1011.4 L663.0 1012.6 L663.7 1013.8 L664.5 1014.9 L665.2 1016.1 L666.0 1017.3 L666.7 1018.4 L667.5 1019.6 L668.3 1020.7 L669.0 1021.8 L669.8 1022.9 L670.5 1024.0 L671.3 1025.1 L672.0 1026.2 L672.8 1027.3 L673.5 1028.4 L674.3 1029.4 L675.0 1030.5 L675.8 1031.5 L676.5 1032.5 L677.3 1033.6 L678.0 1034.6 L678.8 1035.6 L679.5 1036.6 L680.3 1037.5 L681.1 1038.5 L681.8 1039.5 L682.6 1040.4 L683.3 1041.4 L684.1 1042.3 L684.8 1043.3 L685.6 1044.2 L686.3 1045.1 L687.1 1046.0 L687.8 1046.9 L688.6 1047.8 L689.3 1048.7 L690.1 1049.6 L690.8 1050.4 L691.6 1051.3 L692.3 1052.2 L693.1 1053.0 L693.8 1053.8 L694.6 1054.7 L695.4 1055.5 L696.1 1056.3 L696.9 1057.1 L697.6 1057.9 L698.4 1058.7 L699.1 1059.5 L699.9 1060.3 L700.6 1061.0 L701.4 1061.8 L702.1 1062.6 L702.9 1063.3 L703.6 1064.1 L704.4 1064.8 L705.1 1065.5 L705.9 1066.3 L706.6 1067.0 L707.4 1067.7 L708.1 1068.4 L708.9 1069.1 L709.7 1069.8 L710.4 1070.5 L711.2 1071.2 L711.9 1071.8 L712.7 1072.5 L713.4 1073.2 L714.2 1073.8 L714.9 1074.5 L715.7 1075.1 L716.4 1075.8 L717.2 1076.4 L717.9 1077.0 L718.7 1077.7 L719.4 1078.3 L720.2 1078.9 L720.9 1079.5 L721.7 1080.1 L722.4 1080.7 L723.2 1081.3 L724.0 1081.9 L724.7 1082.5 L725.5 1083.0 L726.2 1083.6 L727.0 1084.2 L727.7 1084.8 L728.5 1085.3 L729.2 1085.9 L730.0 1086.4 L730.7 1087.0 L731.5 1087.5 L732.2 1088.0 L733.0 1088.6 L733.7 1089.1 L734.5 1089.6 L735.2 1090.1 L736.0 1090.6 L736.8 1091.1 L737.5 1091.6 L738.3 1092.1 L739.0 1092.6 L739.8 1093.1 L740.5 1093.6 L741.3 1094.1 L742.0 1094.6 L742.8 1095.0 L743.5 1095.5 L744.3 1096.0 L745.0 1096.4 L745.8 1096.9 L746.5 1097.4 L747.3 1097.8 L748.0 1098.2 L748.8 1098.7 L749.5 1099.1 L750.3 1099.6 L751.1 1100.0 L751.8 1100.4 L752.6 1100.9 L753.3 1101.3 L754.1 1101.7 L754.8 1102.1 L755.6 1102.5 L756.3 1102.9 L757.1 1103.3 L757.8 1103.7 L758.6 1104.1 L759.3 1104.5 L760.1 1104.9 L760.8 1105.3 L761.6 1105.7 L762.3 1106.1 L763.1 1106.5 L763.8 1106.8 L764.6 1107.2 L765.4 1107.6 L766.1 1108.0 L766.9 1108.3 L767.6 1108.7 L768.4 1109.1 L769.1 1109.4 L769.9 1109.8 L770.6 1110.1 L771.4 1110.5 L772.1 1110.8 L772.9 1111.2 L773.6 1111.5 L774.4 1111.8 L775.1 1112.2 L775.9 1112.5 L776.6 1112.8 L777.4 1113.2 L778.2 1113.5 L778.9 1113.8 L779.7 1114.1 L780.4 1114.5 L781.2 1114.8 L781.9 1115.1 L782.7 1115.4 L783.4 1115.7 L784.2 1116.0 L784.9 1116.3 L785.7 1116.6 L786.4 1116.9 L787.2 1117.2 L787.9 1117.5 L788.7 1117.8 L789.4 1118.1 L790.2 1118.4 L790.9 1118.7 L791.7 1119.0 L792.5 1119.3 L793.2 1119.5 L794.0 1119.8 L794.7 1120.1 L795.5 1120.4 L796.2 1120.6 L797.0 1120.9 L797.7 1121.2 L798.5 1121.5 L799.2 1121.7 L800.0 1122.0 L800.7 1122.2 L801.5 1122.5 L802.2 1122.8 L803.0 1123.0 L803.7 1123.3 L804.5 1123.5 L805.2 1123.8 L806.0 1124.0 L806.8 1124.3 L807.5 1124.5 L808.3 1124.8 L809.0 1125.0 L809.8 1125.3 L810.5 1125.5 L811.3 1125.7 L812.0 1126.0 L812.8 1126.2 L813.5 1126.5 L814.3 1126.7 L815.0 1126.9 L815.8 1127.1 L816.5 1127.4 L817.3 1127.6 L818.0 1127.8 L818.8 1128.1 L819.5 1128.3 L820.3 1128.5 L821.1 1128.7 L821.8 1128.9 L822.6 1129.2 L823.3 1129.4 L824.1 1129.6 L824.8 1129.8 L825.6 1130.0 L826.3 1130.2 L827.1 1130.4 L827.8 1130.6 L828.6 1130.8 L829.3 1131.0 L830.1 1131.2 L830.8 1131.5 L831.6 1131.7 L832.3 1131.9 L833.1 1132.1 L833.9 1132.3 L834.6 1132.4 L835.4 1132.6 L836.1 1132.8 L836.9 1133.0 L837.6 1133.2 L838.4 1133.4 L839.1 1133.6 L839.9 1133.8 L840.6 1134.0 L841.4 1134.2 L842.1 1134.4 L842.9 1134.5 L843.6 1134.7 L844.4 1134.9 L845.1 1135.1 L845.9 1135.3 L846.6 1135.5 L847.4 1135.6 L848.2 1135.8 L848.9 1136.0 L849.7 1136.2 L850.4 1136.3 L851.2 1136.5 L851.9 1136.7 L852.7 1136.9 L853.4 1137.0 L854.2 1137.2 L854.9 1137.4 L855.7 1137.5 L856.4 1137.7 L857.2 1137.9 L857.9 1138.0 L858.7 1138.2 L859.4 1138.4 L860.2 1138.5 L860.9 1138.7 L861.7 1138.8 L862.5 1139.0 L863.2 1139.2 L864.0 1139.3 L864.7 1139.5 L865.5 1139.6 L866.2 1139.8 L867.0 1140.0 L867.7 1140.1 L868.5 1140.3 L869.2 1140.4 L870.0 1140.6 L870.7 1140.7 L871.5 1140.9 L872.2 1141.0 L873.0 1141.2 L873.7 1141.3 L874.5 1141.5 L875.3 1141.6 L876.0 1141.8 L876.8 1141.9 L877.5 1142.1 L878.3 1142.2 L879.0 1142.3 L879.8 1142.5 L880.5 1142.6 L881.3 1142.8 L882.0 1142.9 L882.8 1143.0 L883.5 1143.2 L884.3 1143.3 L885.0 1143.5 L885.8 1143.6 L886.5 1143.7 L887.3 1143.9 L888.0 1144.0 L888.8 1144.1 L889.6 1144.3 L890.3 1144.4 L891.1 1144.5 L891.8 1144.7 L892.6 1144.8 L893.3 1144.9 L894.1 1145.1 L894.8 1145.2 L895.6 1145.3 L896.3 1145.5 L897.1 1145.6 L897.8 1145.7 L898.6 1145.8 L899.3 1146.0 L900.1 1146.1 L900.8 1146.2 L901.6 1146.3 L902.3 1146.5 L903.1 1146.6 L903.9 1146.7 L904.6 1146.8 L905.4 1146.9 L906.1 1147.1 L906.9 1147.2 L907.6 1147.3 L908.4 1147.4 L909.1 1147.5 L909.9 1147.7 L910.6 1147.8 L911.4 1147.9 L912.1 1148.0 L912.9 1148.1 L913.6 1148.2 L914.4 1148.3 L915.1 1148.5 L915.9 1148.6 L916.6 1148.7 L917.4 1148.8 L918.2 1148.9 L918.9 1149.0 L919.7 1149.1 L920.4 1149.2 L921.2 1149.3 L921.9 1149.4 L922.7 1149.5 L923.4 1149.6 L924.2 1149.7 L924.9 1149.8 L925.7 1150.0 L926.4 1150.1 L927.2 1150.2 L927.9 1150.3 L928.7 1150.4 L929.4 1150.4 L930.2 1150.5 L931.0 1150.6 L931.7 1150.7 L932.5 1150.8 L933.2 1150.9 L934.0 1151.0 L934.7 1151.1 L935.5 1151.2 L936.2 1151.3 L937.0 1151.4 L937.7 1151.5 L938.5 1151.6 L939.2 1151.6 L940.0 1151.7 L940.7 1151.8 L941.5 1151.9 L942.2 1152.0 L943.0 1152.1 L943.7 1152.1 L944.5 1152.2 L945.3 1152.3 L946.0 1152.4 L946.8 1152.5 L947.5 1152.5 L948.3 1152.6 L949.0 1152.7 L949.8 1152.8 L950.5 1152.8 L951.3 1152.9 L952.0 1153.0 L952.8 1153.0 L953.5 1153.1 L954.3 1153.2 L955.0 1153.2 L955.8 1153.3 L956.5 1153.3 L957.3 1153.4 L958.0 1153.5 L958.8 1153.5 L959.6 1153.6 L960.3 1153.6 L961.1 1153.7 L961.8 1153.7 L962.6 1153.8 L963.3 1153.8 L964.1 1153.9 L964.8 1153.9 L965.6 1154.0 L966.3 1154.0 L967.1 1154.1 L967.8 1154.1 L968.6 1154.1 L969.3 1154.2 L970.1 1154.2 L970.8 1154.3 L971.6 1154.3 L972.3 1154.3 L973.1 1154.4 L973.9 1154.4 L974.6 1154.4 L975.4 1154.5 L976.1 1154.5 L976.9 1154.5 L977.6 1154.5 L978.4 1154.6 L979.1 1154.6 L979.9 1154.6 L980.6 1154.6 L981.4 1154.6 L982.1 1154.7 L982.9 1154.7 L983.6 1154.7 L984.4 1154.7 L985.1 1154.7 L985.9 1154.7 L986.7 1154.7 L987.4 1154.8 L988.2 1154.8 L988.9 1154.8 L989.7 1154.8 L990.4 1154.8 L991.2 1154.8 L991.9 1154.8 L992.7 1154.8 L993.4 1154.8 L994.2 1154.8 L994.9 1154.8 L995.7 1154.9 L996.4 1154.9 L997.2 1154.9 L997.9 1154.9 L998.7 1154.9 L999.4 1154.9 L1000.2 1154.9" fill="none" stroke="#ff6500" stroke-width="4.5" stroke-dasharray="16.6 7.2" stroke-dashoffset="3.2"/><path d="M97.7 1154.9 L98.5 1154.9 L99.2 1154.9 L100.0 1154.9 L100.7 1154.8 L101.5 1154.8 L102.2 1154.8 L103.0 1154.8 L103.7 1154.8 L104.5 1154.8 L105.2 1154.8 L106.0 1154.8 L106.7 1154.8 L107.5 1154.8 L108.2 1154.8 L109.0 1154.7 L109.7 1154.7 L110.5 1154.7 L111.2 1154.7 L112.0 1154.7 L112.8 1154.7 L113.5 1154.6 L114.3 1154.6 L115.0 1154.6 L115.8 1154.6 L116.5 1154.6 L117.3 1154.5 L118.0 1154.5 L118.8 1154.5 L119.5 1154.5 L120.3 1154.4 L121.0 1154.4 L121.8 1154.4 L122.5 1154.3 L123.3 1154.3 L124.0 1154.3 L124.8 1154.2 L125.6 1154.2 L126.3 1154.1 L127.1 1154.1 L127.8 1154.1 L128.6 1154.0 L129.3 1154.0 L130.1 1153.9 L130.8 1153.9 L131.6 1153.8 L132.3 1153.8 L133.1 1153.7 L133.8 1153.7 L134.6 1153.6 L135.3 1153.6 L136.1 1153.5 L136.8 1153.5 L137.6 1153.4 L138.3 1153.3 L139.1 1153.3 L139.9 1153.2 L140.6 1153.1 L141.4 1153.1 L142.1 1153.0 L142.9 1152.9 L143.6 1152.9 L144.4 1152.8 L145.1 1152.7 L145.9 1152.7 L146.6 1152.6 L147.4 1152.5 L148.1 1152.4 L148.9 1152.3 L149.6 1152.3 L150.4 1152.2 L151.1 1152.1 L151.9 1152.0 L152.6 1151.9 L153.4 1151.8 L154.2 1151.8 L154.9 1151.7 L155.7 1151.6 L156.4 1151.5 L157.2 1151.4 L157.9 1151.3 L158.7 1151.2 L159.4 1151.1 L160.2 1151.0 L160.9 1150.9 L161.7 1150.9 L162.4 1150.8 L163.2 1150.7 L163.9 1150.6 L164.7 1150.5 L165.4 1150.4 L166.2 1150.3 L166.9 1150.2 L167.7 1150.1 L168.5 1150.0 L169.2 1149.8 L170.0 1149.7 L170.7 1149.6 L171.5 1149.5 L172.2 1149.4 L173.0 1149.3 L173.7 1149.2 L174.5 1149.1 L175.2 1149.0 L176.0 1148.9 L176.7 1148.8 L177.5 1148.6 L178.2 1148.5 L179.0 1148.4 L179.7 1148.3 L180.5 1148.2 L181.3 1148.1 L182.0 1148.0 L182.8 1147.8 L183.5 1147.7 L184.3 1147.6 L185.0 1147.5 L185.8 1147.4 L186.5 1147.2 L187.3 1147.1 L188.0 1147.0 L188.8 1146.9 L189.5 1146.8 L190.3 1146.6 L191.0 1146.5 L191.8 1146.4 L192.5 1146.2 L193.3 1146.1 L194.0 1146.0 L194.8 1145.9 L195.6 1145.7 L196.3 1145.6 L197.1 1145.5 L197.8 1145.3 L198.6 1145.2 L199.3 1145.1 L200.1 1144.9 L200.8 1144.8 L201.6 1144.7 L202.3 1144.5 L203.1 1144.4 L203.8 1144.3 L204.6 1144.1 L205.3 1144.0 L206.1 1143.9 L206.8 1143.7 L207.6 1143.6 L208.3 1143.4 L209.1 1143.3 L209.9 1143.2 L210.6 1143.0 L211.4 1142.9 L212.1 1142.7 L212.9 1142.6 L213.6 1142.4 L214.4 1142.3 L215.1 1142.1 L215.9 1142.0 L216.6 1141.8 L217.4 1141.7 L218.1 1141.5 L218.9 1141.4 L219.6 1141.2 L220.4 1141.1 L221.1 1140.9 L221.9 1140.8 L222.6 1140.6 L223.4 1140.5 L224.2 1140.3 L224.9 1140.2 L225.7 1140.0 L226.4 1139.8 L227.2 1139.7 L227.9 1139.5 L228.7 1139.4 L229.4 1139.2 L230.2 1139.0 L230.9 1138.9 L231.7 1138.7 L232.4 1138.5 L233.2 1138.4 L233.9 1138.2 L234.7 1138.0 L235.4 1137.9 L236.2 1137.7 L237.0 1137.5 L237.7 1137.4 L238.5 1137.2 L239.2 1137.0 L240.0 1136.8 L240.7 1136.7 L241.5 1136.5 L242.2 1136.3 L243.0 1136.1 L243.7 1135.9 L244.5 1135.8 L245.2 1135.6 L246.0 1135.4 L246.7 1135.2 L247.5 1135.0 L248.2 1134.8 L249.0 1134.7 L249.7 1134.5 L250.5 1134.3 L251.3 1134.1 L252.0 1133.9 L252.8 1133.7 L253.5 1133.5 L254.3 1133.3 L255.0 1133.1 L255.8 1132.9 L256.5 1132.7 L257.3 1132.5 L258.0 1132.3 L258.8 1132.1 L259.5 1131.9 L260.3 1131.7 L261.0 1131.5 L261.8 1131.3 L262.5 1131.1 L263.3 1130.9 L264.0 1130.7 L264.8 1130.5 L265.6 1130.2 L266.3 1130.0 L267.1 1129.8 L267.8 1129.6 L268.6 1129.4 L269.3 1129.2 L270.1 1128.9 L270.8 1128.7 L271.6 1128.5 L272.3 1128.3 L273.1 1128.0 L273.8 1127.8 L274.6 1127.6 L275.3 1127.3 L276.1 1127.1 L276.8 1126.9 L277.6 1126.6 L278.4 1126.4 L279.1 1126.2 L279.9 1125.9 L280.6 1125.7 L281.4 1125.4 L282.1 1125.2 L282.9 1124.9 L283.6 1124.7 L284.4 1124.4 L285.1 1124.2 L285.9 1123.9 L286.6 1123.7 L287.4 1123.4 L288.1 1123.1 L288.9 1122.9 L289.6 1122.6 L290.4 1122.4 L291.1 1122.1 L291.9 1121.8 L292.7 1121.5 L293.4 1121.3 L294.2 1121.0 L294.9 1120.7 L295.7 1120.4 L296.4 1120.2 L297.2 1119.9 L297.9 1119.6 L298.7 1119.3 L299.4 1119.0 L300.2 1118.7 L300.9 1118.4 L301.7 1118.1 L302.4 1117.8 L303.2 1117.5 L303.9 1117.2 L304.7 1116.9 L305.4 1116.6 L306.2 1116.3 L307.0 1116.0 L307.7 1115.7 L308.5 1115.4 L309.2 1115.0 L310.0 1114.7 L310.7 1114.4 L311.5 1114.1 L312.2 1113.7 L313.0 1113.4 L313.7 1113.1 L314.5 1112.7 L315.2 1112.4 L316.0 1112.1 L316.7 1111.7 L317.5 1111.4 L318.2 1111.0 L319.0 1110.7 L319.7 1110.3 L320.5 1109.9 L321.3 1109.6 L322.0 1109.2 L322.8 1108.9 L323.5 1108.5 L324.3 1108.1 L325.0 1107.7 L325.8 1107.3 L326.5 1107.0 L327.3 1106.6 L328.0 1106.2 L328.8 1105.8 L329.5 1105.4 L330.3 1105.0 L331.0 1104.6 L331.8 1104.2 L332.5 1103.8 L333.3 1103.4 L334.1 1103.0 L334.8 1102.5 L335.6 1102.1 L336.3 1101.7 L337.1 1101.3 L337.8 1100.8 L338.6 1100.4 L339.3 1099.9 L340.1 1099.5 L340.8 1099.0 L341.6 1098.6 L342.3 1098.1 L343.1 1097.7 L343.8 1097.2 L344.6 1096.7 L345.3 1096.3 L346.1 1095.8 L346.8 1095.3 L347.6 1094.8 L348.4 1094.3 L349.1 1093.8 L349.9 1093.3 L350.6 1092.8 L351.4 1092.3 L352.1 1091.8 L352.9 1091.3 L353.6 1090.8 L354.4 1090.3 L355.1 1089.7 L355.9 1089.2 L356.6 1088.6 L357.4 1088.1 L358.1 1087.5 L358.9 1087.0 L359.6 1086.4 L360.4 1085.9 L361.1 1085.3 L361.9 1084.7 L362.7 1084.1 L363.4 1083.5 L364.2 1083.0 L364.9 1082.4 L365.7 1081.7 L366.4 1081.1 L367.2 1080.5 L367.9 1079.9 L368.7 1079.3 L369.4 1078.6 L370.2 1078.0 L370.9 1077.4 L371.7 1076.7 L372.4 1076.0 L373.2 1075.4 L373.9 1074.7 L374.7 1074.0 L375.5 1073.4 L376.2 1072.7 L377.0 1072.0 L377.7 1071.3 L378.5 1070.6 L379.2 1069.8 L380.0 1069.1 L380.7 1068.4 L381.5 1067.6 L382.2 1066.9 L383.0 1066.1 L383.7 1065.4 L384.5 1064.6 L385.2 1063.8 L386.0 1063.1 L386.7 1062.3 L387.5 1061.5 L388.2 1060.7 L389.0 1059.9 L389.8 1059.0 L390.5 1058.2 L391.3 1057.4 L392.0 1056.5 L392.8 1055.7 L393.5 1054.8 L394.3 1053.9 L395.0 1053.0 L395.8 1052.2 L396.5 1051.3 L397.3 1050.3 L398.0 1049.4 L398.8 1048.5 L399.5 1047.6 L400.3 1046.6 L401.0 1045.7 L401.8 1044.7 L402.5 1043.7 L403.3 1042.7 L404.1 1041.7 L404.8 1040.7 L405.6 1039.7 L406.3 1038.7 L407.1 1037.7 L407.8 1036.6 L408.6 1035.6 L409.3 1034.5 L410.1 1033.4 L410.8 1032.3 L411.6 1031.2 L412.3 1030.1 L413.1 1029.0 L413.8 1027.8 L414.6 1026.7 L415.3 1025.5 L416.1 1024.4 L416.8 1023.2 L417.6 1022.0 L418.4 1020.8 L419.1 1019.6 L419.9 1018.3 L420.6 1017.1 L421.4 1015.8 L422.1 1014.5 L422.9 1013.3 L423.6 1012.0 L424.4 1010.7 L425.1 1009.3 L425.9 1008.0 L426.6 1006.6 L427.4 1005.3 L428.1 1003.9 L428.9 1002.5 L429.6 1001.1 L430.4 999.7 L431.2 998.2 L431.9 996.8 L432.7 995.3 L433.4 993.8 L434.2 992.3 L434.9 990.8 L435.7 989.3 L436.4 987.7 L437.2 986.2 L437.9 984.6 L438.7 983.0 L439.4 981.4 L440.2 979.8 L440.9 978.1 L441.7 976.5 L442.4 974.8 L443.2 973.1 L443.9 971.4 L444.7 969.7 L445.5 967.9 L446.2 966.2 L447.0 964.4 L447.7 962.6 L448.5 960.8 L449.2 959.0 L450.0 957.1 L450.7 955.3 L451.5 953.4 L452.2 951.5 L453.0 949.6 L453.7 947.6 L454.5 945.7 L455.2 943.7 L456.0 941.7 L456.7 939.7 L457.5 937.7 L458.2 935.7 L459.0 933.6 L459.8 931.5 L460.5 929.4 L461.3 927.3 L462.0 925.2 L462.8 923.0 L463.5 920.8 L464.3 918.7 L465.0 916.4 L465.8 914.2 L466.5 912.0 L467.3 909.7 L468.0 907.4 L468.8 905.1 L469.5 902.8 L470.3 900.5 L471.0 898.1 L471.8 895.8 L472.5 893.4 L473.3 891.0 L474.1 888.5 L474.8 886.1 L475.6 883.7 L476.3 881.2 L477.1 878.7 L477.8 876.2 L478.6 873.7 L479.3 871.1 L480.1 868.6 L480.8 866.0 L481.6 863.5 L482.3 860.9 L483.1 858.3 L483.8 855.6 L484.6 853.0 L485.3 850.4 L486.1 847.7 L486.9 845.0 L487.6 842.4 L488.4 839.7 L489.1 837.0 L489.9 834.3 L490.6 831.6 L491.4 828.8 L492.1 826.1 L492.9 823.4 L493.6 820.6 L494.4 817.9 L495.1 815.1 L495.9 812.4 L496.6 809.6 L497.4 806.9 L498.1 804.1 L498.9 801.3 L499.6 798.6 L500.4 795.8 L501.2 793.1 L501.9 790.3 L502.7 787.6 L503.4 784.8 L504.2 782.1 L504.9 779.4 L505.7 776.7 L506.4 774.0 L507.2 771.3 L507.9 768.6 L508.7 765.9 L509.4 763.3 L510.2 760.6 L510.9 758.0 L511.7 755.4 L512.4 752.9 L513.2 750.3 L513.9 747.8 L514.7 745.3 L515.5 742.8 L516.2 740.3 L517.0 737.9 L517.7 735.5 L518.5 733.2 L519.2 730.8 L520.0 728.5 L520.7 726.3 L521.5 724.1 L522.2 721.9 L523.0 719.7 L523.7 717.6 L524.5 715.6 L525.2 713.6 L526.0 711.6 L526.7 709.7 L527.5 707.8 L528.3 706.0 L529.0 704.2 L529.8 702.5 L530.5 700.9 L531.3 699.3 L532.0 697.7 L532.8 696.2 L533.5 694.8 L534.3 693.4 L535.0 692.1 L535.8 690.9 L536.5 689.7 L537.3 688.6 L538.0 687.5 L538.8 686.5 L539.5 685.6 L540.3 684.8 L541.0 684.0 L541.8 683.3 L542.6 682.6 L543.3 682.0 L544.1 681.5 L544.8 681.1 L545.6 680.7 L546.3 680.4 L547.1 680.2 L547.8 680.1 L548.6 680.0 L549.3 680.0 L550.1 680.1 L550.8 680.2 L551.6 680.4 L552.3 680.7 L553.1 681.1 L553.8 681.5 L554.6 682.0 L555.3 682.6 L556.1 683.3 L556.9 684.0 L557.6 684.8 L558.4 685.6 L559.1 686.5 L559.9 687.5 L560.6 688.6 L561.4 689.7 L562.1 690.9 L562.9 692.1 L563.6 693.4 L564.4 694.8 L565.1 696.2 L565.9 697.7 L566.6 699.3 L567.4 700.9 L568.1 702.5 L568.9 704.2 L569.6 706.0 L570.4 707.8 L571.2 709.7 L571.9 711.6 L572.7 713.6 L573.4 715.6 L574.2 717.6 L574.9 719.7 L575.7 721.9 L576.4 724.1 L577.2 726.3 L577.9 728.5 L578.7 730.8 L579.4 733.2 L580.2 735.5 L580.9 737.9 L581.7 740.3 L582.4 742.8 L583.2 745.3 L584.0 747.8 L584.7 750.3 L585.5 752.9 L586.2 755.4 L587.0 758.0 L587.7 760.6 L588.5 763.3 L589.2 765.9 L590.0 768.6 L590.7 771.3 L591.5 774.0 L592.2 776.7 L593.0 779.4 L593.7 782.1 L594.5 784.8 L595.2 787.6 L596.0 790.3 L596.7 793.1 L597.5 795.8 L598.3 798.6 L599.0 801.3 L599.8 804.1 L600.5 806.9 L601.3 809.6 L602.0 812.4 L602.8 815.1 L603.5 817.9 L604.3 820.6 L605.0 823.4 L605.8 826.1 L606.5 828.8 L607.3 831.6 L608.0 834.3 L608.8 837.0 L609.5 839.7 L610.3 842.4 L611.0 845.0 L611.8 847.7 L612.6 850.4 L613.3 853.0 L614.1 855.6 L614.8 858.3 L615.6 860.9 L616.3 863.5 L617.1 866.0 L617.8 868.6 L618.6 871.1 L619.3 873.7 L620.1 876.2 L620.8 878.7 L621.6 881.2 L622.3 883.7 L623.1 886.1 L623.8 888.5 L624.6 891.0 L625.4 893.4 L626.1 895.8 L626.9 898.1 L627.6 900.5 L628.4 902.8 L629.1 905.1 L629.9 907.4 L630.6 909.7 L631.4 912.0 L632.1 914.2 L632.9 916.4 L633.6 918.7 L634.4 920.8 L635.1 923.0 L635.9 925.2 L636.6 927.3 L637.4 929.4 L638.1 931.5 L638.9 933.6 L639.7 935.7 L640.4 937.7 L641.2 939.7 L641.9 941.7 L642.7 943.7 L643.4 945.7 L644.2 947.6 L644.9 949.6 L645.7 951.5 L646.4 953.4 L647.2 955.3 L647.9 957.1 L648.7 959.0 L649.4 960.8 L650.2 962.6 L650.9 964.4 L651.7 966.2 L652.4 967.9 L653.2 969.7 L654.0 971.4 L654.7 973.1 L655.5 974.8 L656.2 976.5 L657.0 978.1 L657.7 979.8 L658.5 981.4 L659.2 983.0 L660.0 984.6 L660.7 986.2 L661.5 987.7 L662.2 989.3 L663.0 990.8 L663.7 992.3 L664.5 993.8 L665.2 995.3 L666.0 996.8 L666.7 998.2 L667.5 999.7 L668.3 1001.1 L669.0 1002.5 L669.8 1003.9 L670.5 1005.3 L671.3 1006.6 L672.0 1008.0 L672.8 1009.3 L673.5 1010.7 L674.3 1012.0 L675.0 1013.3 L675.8 1014.5 L676.5 1015.8 L677.3 1017.1 L678.0 1018.3 L678.8 1019.6 L679.5 1020.8 L680.3 1022.0 L681.1 1023.2 L681.8 1024.4 L682.6 1025.5 L683.3 1026.7 L684.1 1027.8 L684.8 1029.0 L685.6 1030.1 L686.3 1031.2 L687.1 1032.3 L687.8 1033.4 L688.6 1034.5 L689.3 1035.6 L690.1 1036.6 L690.8 1037.7 L691.6 1038.7 L692.3 1039.7 L693.1 1040.7 L693.8 1041.7 L694.6 1042.7 L695.4 1043.7 L696.1 1044.7 L696.9 1045.7 L697.6 1046.6 L698.4 1047.6 L699.1 1048.5 L699.9 1049.4 L700.6 1050.3 L701.4 1051.3 L702.1 1052.2 L702.9 1053.0 L703.6 1053.9 L704.4 1054.8 L705.1 1055.7 L705.9 1056.5 L706.6 1057.4 L707.4 1058.2 L708.1 1059.0 L708.9 1059.9 L709.7 1060.7 L710.4 1061.5 L711.2 1062.3 L711.9 1063.1 L712.7 1063.8 L713.4 1064.6 L714.2 1065.4 L714.9 1066.1 L715.7 1066.9 L716.4 1067.6 L717.2 1068.4 L717.9 1069.1 L718.7 1069.8 L719.4 1070.6 L720.2 1071.3 L720.9 1072.0 L721.7 1072.7 L722.4 1073.4 L723.2 1074.0 L724.0 1074.7 L724.7 1075.4 L725.5 1076.0 L726.2 1076.7 L727.0 1077.4 L727.7 1078.0 L728.5 1078.6 L729.2 1079.3 L730.0 1079.9 L730.7 1080.5 L731.5 1081.1 L732.2 1081.7 L733.0 1082.4 L733.7 1083.0 L734.5 1083.5 L735.2 1084.1 L736.0 1084.7 L736.8 1085.3 L737.5 1085.9 L738.3 1086.4 L739.0 1087.0 L739.8 1087.5 L740.5 1088.1 L741.3 1088.6 L742.0 1089.2 L742.8 1089.7 L743.5 1090.3 L744.3 1090.8 L745.0 1091.3 L745.8 1091.8 L746.5 1092.3 L747.3 1092.8 L748.0 1093.3 L748.8 1093.8 L749.5 1094.3 L750.3 1094.8 L751.1 1095.3 L751.8 1095.8 L752.6 1096.3 L753.3 1096.7 L754.1 1097.2 L754.8 1097.7 L755.6 1098.1 L756.3 1098.6 L757.1 1099.0 L757.8 1099.5 L758.6 1099.9 L759.3 1100.4 L760.1 1100.8 L760.8 1101.3 L761.6 1101.7 L762.3 1102.1 L763.1 1102.5 L763.8 1103.0 L764.6 1103.4 L765.4 1103.8 L766.1 1104.2 L766.9 1104.6 L767.6 1105.0 L768.4 1105.4 L769.1 1105.8 L769.9 1106.2 L770.6 1106.6 L771.4 1107.0 L772.1 1107.3 L772.9 1107.7 L773.6 1108.1 L774.4 1108.5 L775.1 1108.9 L775.9 1109.2 L776.6 1109.6 L777.4 1109.9 L778.2 1110.3 L778.9 1110.7 L779.7 1111.0 L780.4 1111.4 L781.2 1111.7 L781.9 1112.1 L782.7 1112.4 L783.4 1112.7 L784.2 1113.1 L784.9 1113.4 L785.7 1113.7 L786.4 1114.1 L787.2 1114.4 L787.9 1114.7 L788.7 1115.0 L789.4 1115.4 L790.2 1115.7 L790.9 1116.0 L791.7 1116.3 L792.5 1116.6 L793.2 1116.9 L794.0 1117.2 L794.7 1117.5 L795.5 1117.8 L796.2 1118.1 L797.0 1118.4 L797.7 1118.7 L798.5 1119.0 L799.2 1119.3 L800.0 1119.6 L800.7 1119.9 L801.5 1120.2 L802.2 1120.4 L803.0 1120.7 L803.7 1121.0 L804.5 1121.3 L805.2 1121.5 L806.0 1121.8 L806.8 1122.1 L807.5 1122.4 L808.3 1122.6 L809.0 1122.9 L809.8 1123.1 L810.5 1123.4 L811.3 1123.7 L812.0 1123.9 L812.8 1124.2 L813.5 1124.4 L814.3 1124.7 L815.0 1124.9 L815.8 1125.2 L816.5 1125.4 L817.3 1125.7 L818.0 1125.9 L818.8 1126.2 L819.5 1126.4 L820.3 1126.6 L821.1 1126.9 L821.8 1127.1 L822.6 1127.3 L823.3 1127.6 L824.1 1127.8 L824.8 1128.0 L825.6 1128.3 L826.3 1128.5 L827.1 1128.7 L827.8 1128.9 L828.6 1129.2 L829.3 1129.4 L830.1 1129.6 L830.8 1129.8 L831.6 1130.0 L832.3 1130.2 L833.1 1130.5 L833.9 1130.7 L834.6 1130.9 L835.4 1131.1 L836.1 1131.3 L836.9 1131.5 L837.6 1131.7 L838.4 1131.9 L839.1 1132.1 L839.9 1132.3 L840.6 1132.5 L841.4 1132.7 L842.1 1132.9 L842.9 1133.1 L843.6 1133.3 L844.4 1133.5 L845.1 1133.7 L845.9 1133.9 L846.6 1134.1 L847.4 1134.3 L848.2 1134.5 L848.9 1134.7 L849.7 1134.8 L850.4 1135.0 L851.2 1135.2 L851.9 1135.4 L852.7 1135.6 L853.4 1135.8 L854.2 1135.9 L854.9 1136.1 L855.7 1136.3 L856.4 1136.5 L857.2 1136.7 L857.9 1136.8 L858.7 1137.0 L859.4 1137.2 L860.2 1137.4 L860.9 1137.5 L861.7 1137.7 L862.5 1137.9 L863.2 1138.0 L864.0 1138.2 L864.7 1138.4 L865.5 1138.5 L866.2 1138.7 L867.0 1138.9 L867.7 1139.0 L868.5 1139.2 L869.2 1139.4 L870.0 1139.5 L870.7 1139.7 L871.5 1139.8 L872.2 1140.0 L873.0 1140.2 L873.7 1140.3 L874.5 1140.5 L875.3 1140.6 L876.0 1140.8 L876.8 1140.9 L877.5 1141.1 L878.3 1141.2 L879.0 1141.4 L879.8 1141.5 L880.5 1141.7 L881.3 1141.8 L882.0 1142.0 L882.8 1142.1 L883.5 1142.3 L884.3 1142.4 L885.0 1142.6 L885.8 1142.7 L886.5 1142.9 L887.3 1143.0 L888.0 1143.2 L888.8 1143.3 L889.6 1143.4 L890.3 1143.6 L891.1 1143.7 L891.8 1143.9 L892.6 1144.0 L893.3 1144.1 L894.1 1144.3 L894.8 1144.4 L895.6 1144.5 L896.3 1144.7 L897.1 1144.8 L897.8 1144.9 L898.6 1145.1 L899.3 1145.2 L900.1 1145.3 L900.8 1145.5 L901.6 1145.6 L902.3 1145.7 L903.1 1145.9 L903.9 1146.0 L904.6 1146.1 L905.4 1146.2 L906.1 1146.4 L906.9 1146.5 L907.6 1146.6 L908.4 1146.8 L909.1 1146.9 L909.9 1147.0 L910.6 1147.1 L911.4 1147.2 L912.1 1147.4 L912.9 1147.5 L913.6 1147.6 L914.4 1147.7 L915.1 1147.8 L915.9 1148.0 L916.6 1148.1 L917.4 1148.2 L918.2 1148.3 L918.9 1148.4 L919.7 1148.5 L920.4 1148.6 L921.2 1148.8 L921.9 1148.9 L922.7 1149.0 L923.4 1149.1 L924.2 1149.2 L924.9 1149.3 L925.7 1149.4 L926.4 1149.5 L927.2 1149.6 L927.9 1149.7 L928.7 1149.8 L929.4 1150.0 L930.2 1150.1 L931.0 1150.2 L931.7 1150.3 L932.5 1150.4 L933.2 1150.5 L934.0 1150.6 L934.7 1150.7 L935.5 1150.8 L936.2 1150.9 L937.0 1150.9 L937.7 1151.0 L938.5 1151.1 L939.2 1151.2 L940.0 1151.3 L940.7 1151.4 L941.5 1151.5 L942.2 1151.6 L943.0 1151.7 L943.7 1151.8 L944.5 1151.8 L945.3 1151.9 L946.0 1152.0 L946.8 1152.1 L947.5 1152.2 L948.3 1152.3 L949.0 1152.3 L949.8 1152.4 L950.5 1152.5 L951.3 1152.6 L952.0 1152.7 L952.8 1152.7 L953.5 1152.8 L954.3 1152.9 L955.0 1152.9 L955.8 1153.0 L956.5 1153.1 L957.3 1153.1 L958.0 1153.2 L958.8 1153.3 L959.6 1153.3 L960.3 1153.4 L961.1 1153.5 L961.8 1153.5 L962.6 1153.6 L963.3 1153.6 L964.1 1153.7 L964.8 1153.7 L965.6 1153.8 L966.3 1153.8 L967.1 1153.9 L967.8 1153.9 L968.6 1154.0 L969.3 1154.0 L970.1 1154.1 L970.8 1154.1 L971.6 1154.1 L972.3 1154.2 L973.1 1154.2 L973.9 1154.3 L974.6 1154.3 L975.4 1154.3 L976.1 1154.4 L976.9 1154.4 L977.6 1154.4 L978.4 1154.5 L979.1 1154.5 L979.9 1154.5 L980.6 1154.5 L981.4 1154.6 L982.1 1154.6 L982.9 1154.6 L983.6 1154.6 L984.4 1154.6 L985.1 1154.7 L985.9 1154.7 L986.7 1154.7 L987.4 1154.7 L988.2 1154.7 L988.9 1154.7 L989.7 1154.8 L990.4 1154.8 L991.2 1154.8 L991.9 1154.8 L992.7 1154.8 L993.4 1154.8 L994.2 1154.8 L994.9 1154.8 L995.7 1154.8 L996.4 1154.8 L997.2 1154.8 L997.9 1154.9 L998.7 1154.9 L999.4 1154.9 L1000.2 1154.9" fill="none" stroke="#18223c" stroke-width="4.5" stroke-linecap="square"/></g>
<rect x="97.70" y="680.00" width="902.50" height="474.90" fill="none" stroke="#000" stroke-width="2.20"/>
<line x1="124.93" x2="124.93" y1="1154.90" y2="1161.30" stroke="#000" stroke-width="2.20"/>
<line x1="157.55" x2="157.55" y1="1154.90" y2="1165.50" stroke="#000" stroke-width="2.20"/>
<text class="r" x="157.55" y="1198" text-anchor="middle" font-size="34">−300</text>
<line x1="190.16" x2="190.16" y1="1154.90" y2="1161.30" stroke="#000" stroke-width="2.20"/>
<line x1="222.78" x2="222.78" y1="1154.90" y2="1161.30" stroke="#000" stroke-width="2.20"/>
<line x1="255.40" x2="255.40" y1="1154.90" y2="1161.30" stroke="#000" stroke-width="2.20"/>
<line x1="288.01" x2="288.01" y1="1154.90" y2="1165.50" stroke="#000" stroke-width="2.20"/>
<text class="r" x="288.01" y="1198" text-anchor="middle" font-size="34">−200</text>
<line x1="320.63" x2="320.63" y1="1154.90" y2="1161.30" stroke="#000" stroke-width="2.20"/>
<line x1="353.25" x2="353.25" y1="1154.90" y2="1161.30" stroke="#000" stroke-width="2.20"/>
<line x1="385.86" x2="385.86" y1="1154.90" y2="1161.30" stroke="#000" stroke-width="2.20"/>
<line x1="418.48" x2="418.48" y1="1154.90" y2="1165.50" stroke="#000" stroke-width="2.20"/>
<text class="r" x="418.48" y="1198" text-anchor="middle" font-size="34">−100</text>
<line x1="451.10" x2="451.10" y1="1154.90" y2="1161.30" stroke="#000" stroke-width="2.20"/>
<line x1="483.72" x2="483.72" y1="1154.90" y2="1161.30" stroke="#000" stroke-width="2.20"/>
<line x1="516.33" x2="516.33" y1="1154.90" y2="1161.30" stroke="#000" stroke-width="2.20"/>
<line x1="548.95" x2="548.95" y1="1154.90" y2="1165.50" stroke="#000" stroke-width="2.20"/>
<text class="r" x="548.95" y="1198" text-anchor="middle" font-size="34">0</text>
<line x1="581.57" x2="581.57" y1="1154.90" y2="1161.30" stroke="#000" stroke-width="2.20"/>
<line x1="614.18" x2="614.18" y1="1154.90" y2="1161.30" stroke="#000" stroke-width="2.20"/>
<line x1="646.80" x2="646.80" y1="1154.90" y2="1161.30" stroke="#000" stroke-width="2.20"/>
<line x1="679.42" x2="679.42" y1="1154.90" y2="1165.50" stroke="#000" stroke-width="2.20"/>
<text class="r" x="679.42" y="1198" text-anchor="middle" font-size="34">100</text>
<line x1="712.04" x2="712.04" y1="1154.90" y2="1161.30" stroke="#000" stroke-width="2.20"/>
<line x1="744.65" x2="744.65" y1="1154.90" y2="1161.30" stroke="#000" stroke-width="2.20"/>
<line x1="777.27" x2="777.27" y1="1154.90" y2="1161.30" stroke="#000" stroke-width="2.20"/>
<line x1="809.89" x2="809.89" y1="1154.90" y2="1165.50" stroke="#000" stroke-width="2.20"/>
<text class="r" x="809.89" y="1198" text-anchor="middle" font-size="34">200</text>
<line x1="842.50" x2="842.50" y1="1154.90" y2="1161.30" stroke="#000" stroke-width="2.20"/>
<line x1="875.12" x2="875.12" y1="1154.90" y2="1161.30" stroke="#000" stroke-width="2.20"/>
<line x1="907.74" x2="907.74" y1="1154.90" y2="1161.30" stroke="#000" stroke-width="2.20"/>
<line x1="940.35" x2="940.35" y1="1154.90" y2="1165.50" stroke="#000" stroke-width="2.20"/>
<text class="r" x="940.35" y="1198" text-anchor="middle" font-size="34">300</text>
<line x1="972.97" x2="972.97" y1="1154.90" y2="1161.30" stroke="#000" stroke-width="2.20"/>
<line x1="87.10" x2="97.70" y1="1154.90" y2="1154.90" stroke="#000" stroke-width="2.20"/>
<text class="r" x="77.8" y="1166.50" text-anchor="end" font-size="34">0.0</text>
<line x1="91.30" x2="97.70" y1="1107.41" y2="1107.41" stroke="#000" stroke-width="2.20"/>
<line x1="91.30" x2="97.70" y1="1059.92" y2="1059.92" stroke="#000" stroke-width="2.20"/>
<line x1="91.30" x2="97.70" y1="1012.43" y2="1012.43" stroke="#000" stroke-width="2.20"/>
<line x1="91.30" x2="97.70" y1="964.94" y2="964.94" stroke="#000" stroke-width="2.20"/>
<line x1="87.10" x2="97.70" y1="917.45" y2="917.45" stroke="#000" stroke-width="2.20"/>
<text class="r" x="77.8" y="929.05" text-anchor="end" font-size="34">0.5</text>
<line x1="91.30" x2="97.70" y1="869.96" y2="869.96" stroke="#000" stroke-width="2.20"/>
<line x1="91.30" x2="97.70" y1="822.47" y2="822.47" stroke="#000" stroke-width="2.20"/>
<line x1="91.30" x2="97.70" y1="774.98" y2="774.98" stroke="#000" stroke-width="2.20"/>
<line x1="91.30" x2="97.70" y1="727.49" y2="727.49" stroke="#000" stroke-width="2.20"/>
<line x1="87.10" x2="97.70" y1="680.00" y2="680.00" stroke="#000" stroke-width="2.20"/>
<text class="r" x="77.8" y="691.60" text-anchor="end" font-size="34">1.0</text>
<text class="s" x="-2" y="687.7" font-size="30" font-weight="bold" stroke="#000" stroke-width="0.7">b</text>
<path d="M99.9 655.3 L115.3 670.5 M115.3 655.3 L99.9 670.5" stroke="#000" stroke-width="1.75" fill="none"/>
<text class="r" x="118" y="671.6" font-size="34">10<tspan font-size="24" dy="-12.2" dx="0.5">−4</tspan></text>
<text class="r" transform="translate(18 917.9) rotate(-90)" text-anchor="middle" font-size="33.5"><tspan font-style="italic">η</tspan><tspan font-size="23.5" dy="5" font-style="italic">785</tspan></text>
<text class="s" x="548.5" y="1238.8" text-anchor="middle" font-size="29.3">t (s)</text>
<text class="s" x="837" y="731.5" font-size="29.3"><tspan class="r" font-style="italic" font-size="33.5">θ</tspan><tspan font-size="21" dy="5.6">max</tspan><tspan dy="-5.6" dx="2" font-size="28.8"> (deg)</tspan></text>
<line x1="842.4" x2="907.8" y1="765.9" y2="765.9" stroke="#18223c" stroke-width="4.5" stroke-linecap="square"/>
<text class="r" x="932.5" y="777.4" font-size="34">90</text>
<line x1="842.4" x2="907.8" y1="812.0" y2="812.0" stroke="#ff6500" stroke-width="4.5" stroke-dasharray="16.6 7.2"/>
<text class="r" x="932.5" y="823.5" font-size="34">60</text>
<line x1="842.4" x2="907.8" y1="858.1" y2="858.1" stroke="#0096ff" stroke-width="4.5" stroke-dasharray="28.7 7.2 4.5 7.2"/>
<text class="r" x="932.5" y="869.6" font-size="34">45</text>
<line x1="842.4" x2="907.8" y1="904.2" y2="904.2" stroke="#74ba78" stroke-width="4.5" stroke-dasharray="4.5 7.4"/>
<text class="r" x="932.5" y="915.7" font-size="34">30</text>
</svg></body></html>
